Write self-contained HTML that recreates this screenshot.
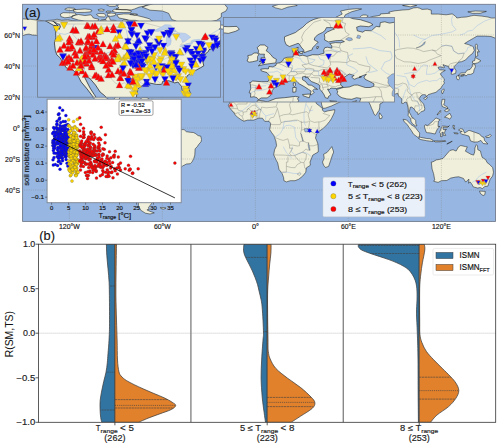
<!DOCTYPE html>
<html><head><meta charset="utf-8"><style>
html,body{margin:0;padding:0;background:#fff;}
body{width:500px;height:447px;overflow:hidden;}
svg text{font-family:"Liberation Sans",sans-serif;}
</style></head><body>
<svg width="500" height="447" viewBox="0 0 500 447" style="display:block"><defs><clipPath id="cm"><rect x="22.6" y="4.3" width="472.9" height="217.1"/></clipPath><clipPath id="cu"><rect x="37.6" y="21.0" width="183" height="76.2"/></clipPath><clipPath id="ce"><rect x="223.4" y="17.5" width="171.1" height="84.5"/></clipPath><clipPath id="sc"><rect x="47.1" y="99.2" width="134.1" height="103.5"/></clipPath><clipPath id="cv"><rect x="38.5" y="244.2" width="457.2" height="178.1"/></clipPath></defs><rect width="500" height="447" fill="#fff"/><g clip-path="url(#cm)"><rect x="0" y="0" width="500" height="230" fill="#97b6e1"/><path d="M36.8 20.1 30.7 19.3 22.9 18.9 18.2 18.1 12.8 17.5 7.4 18.6 2.8 19.8 -1.9 21.2 1.2 23.2 4.3 24.3 1.2 24.9 -1.9 25.4 -5 26.3 -0.3 28 5.8 28 5.8 29.6 1.2 30.2 -1.9 32.7 -0.3 34.2 4.3 35 4.3 37 10.5 37.2 12.1 38.9 7.4 41.2 1.2 43.1 4.3 42.6 10.5 40.4 15.2 38.6 16.7 36.5 19.8 34.2 22.9 33.1 21.3 36.2 26 34.5 29.1 34.1 32.2 35 36.8 35.3 39.9 36.4 43.1 37.5 46.2 38.9 49.2 42 52.3 43.5 53.9 45.8 57 48.2 58.6 49.3 61.7 50.5 64 51.9 65.1 52.2 65.5 53.4 64.8 54.8 63.5 53.3 62.1 53 63 55.9 63.2 59 62.4 61.7 62.9 65.4 63.7 67.7 65.5 69.4 66.5 71.3 68.5 74.4 71.7 75.3 73.7 77.3 74.8 79.2 76.1 81.5 78.7 84.6 81.6 88.5 84.9 92.3 85.7 92 84.4 90.5 82.6 87.7 80.6 84.6 77.6 78.9 80.2 79.5 83.3 83 85.7 86.6 88 88.5 91.1 92 92 94.7 91.7 96.4 93.4 98.2 95.8 99.8 98.8 100.9 101.9 102.3 105.8 103.7 108.5 102.9 111.2 103.8 113.6 106.1 117.4 107.2 119.8 107.8 122.1 110.2 122.6 111.7 122.3 112.8 124 113.3 126.8 115.3 131.1 116.7 132.2 114.2 134.5 113.7 135.6 114.8 135.3 114.7 132.2 113.3 129.1 114 126 111.3 125.7 108.6 126.3 104.8 123.7 103.2 119.5 103.5 118.2 103.4 118.5 100.9 119.8 97.8 120.6 94.7 118.2 94.7 115.4 95.4 115.1 97.8 113.6 99.3 109.7 99.8 107.4 98.9 105.8 97.3 104.6 94.7 103.8 92.7 104.1 89.2 104.7 85.1 108.2 82.6 110.5 82 114.3 82.7 117 82.7 117.4 81.2 120.6 80.9 123.7 82 125.2 81.5 127.1 83.8 127.4 85.7 128.6 87.7 129.9 88.9 130.8 88.9 131.4 86.9 130.5 83.8 129.4 81.8 129.2 79.9 130 78.2 132.6 76.5 134.5 75.5 136.8 74.2 138.4 73.3 137.8 70.8 137.1 69.3 137 67.1 138.4 66.8 138.7 68.6 139 67.9 139.3 67.1 140.7 66 141 65.1 143.8 64.1 146 63.5 146.9 63.1 145.8 61.8 146.6 60.3 149.2 59.3 151.6 58.6 153.1 57.9 155 57.8 152.9 60 156.2 59 160.9 57.8 160.1 57 156.2 56.2 155 54.4 153.9 53.6 155.9 52.4 152.3 51.7 149.2 52.4 146.1 54.8 147.7 53.1 151.6 51.3 155.4 50.2 160.9 50.2 166.7 48.3 168.6 46.6 167.8 44.9 163.9 43.5 161.6 41.7 159.6 40.4 158.5 38.1 155.7 34.7 154.7 36.5 151.6 37.5 149.2 36.9 146.9 33.5 143.8 32.2 139.9 31.4 135.3 31.1 134.5 34.2 135.3 37.3 136.4 40.4 135.3 42 132.2 43.5 132.8 47.4 130.6 48.5 127.8 45.8 128 42.8 123.7 42.3 119 40.4 115.1 39.2 112 39.2 109.4 37 108.6 35 109.7 32.7 111.7 31.1 114.7 29.4 119 28.3 120.6 26.5 123.7 24.9 125.2 25.2 127.5 24.5 129.1 21.8 127.5 20.1 123.7 19.8 119.8 23.4 116.7 21.4 114.3 20.3 110.5 20.3 108.9 16.6 106.6 17.2 105.8 19.5 103.5 20.3 98.8 22.9 94.2 22.6 88 21.8 86.4 22.9 80.2 22.9 77.2 21.2 72.5 20.7 67.8 19.8 61.7 20.3 57 19.2 53.9 20 48.5 20.4 44.6 21.2 39.9 20.3ZM153.9 31.9 150 31.1 144.6 29.1 140.7 27.9 135.3 28 134.5 26.5 140.7 24.9 142.2 22.3 135.3 20.3 129.9 20.3 122.9 18.7 119 18 116.7 14.8 123.7 13.9 131.4 14.1 136.1 15.3 143.8 17.2 149.2 18.7 151.6 20.6 155.4 22.9 159.3 24.5 157 26.5 154.7 28 155.4 30.3ZM65.5 9.9 70.9 10.5 75.6 9.4 74.1 8.2 67.8 7.9 64.8 9ZM98.8 10.8 103.5 11 104.3 9.7 101.2 9 98.1 9.6ZM105.8 12.1 110.5 12.2 111.2 11.3 107.4 11ZM106.6 4.8 109.7 6.3 115.1 6.3 117.4 4.8 115.1 3.2 109.7 2.5ZM100.4 20.7 104.3 21.8 106.6 21 105.1 19.8 101.9 19.7ZM129.9 14.5 134.5 15.3 137.6 14.4 134.5 13.6 130.6 13.8ZM98.1 21 92.7 21.2 84.9 21 78.7 20.1 71.7 18 72.5 15.6 78.7 14.5 84.9 15.6 91.1 14.8 93.4 18 98.8 19.2ZM60.9 16.6 64.8 17.8 69.4 17.3 73.3 16.1 76.4 14.4 74.8 13 70.2 12.8 63.2 12.7 60.4 14.1ZM115.9 9 122.1 9.7 131.4 9.9 134.5 9 139.2 7.1 143.8 6.2 146.9 4.8 154.7 3.2 159.3 0.9 139.2 -0.7 115.9 1.7 119 4 117.4 6.3 119 7.9ZM112 11 115.9 12.5 123.7 12.5 130.6 12.4 131.4 11 126.8 9.6 119 9.6 114.3 9.3ZM107.4 15.6 110.5 16.4 115.1 15.6 115.9 13.6 111.2 13.1 107.4 13.6ZM97.3 15.5 99.6 16.7 104.3 17 105.8 15.6 104.3 13.6 98.8 13.5 96.5 14.4ZM73.6 11.4 77.2 12.5 84.9 12.4 91.1 11.8 91.9 10.4 89.6 9.4 84.9 9 78.7 9.4 73.3 9.7ZM131.4 29.6 123.7 30.3 120.6 28 123.7 26.5 129.9 28ZM142.2 7.1 150 10.2 162.4 11 168.6 13.3 170.2 16.4 171.7 19.5 176.4 21 173.2 25.7 177.9 30.3 187.2 35 190.3 33.5 193.4 28.8 198.1 26.5 205.8 22.6 216.7 20.3 221.3 17.2 221.3 13.3 226 11 227.5 7.9 224.4 4 208.9 0.9 162.4 0.9 146.9 5.5ZM56.5 49.3 61.7 50.5 64.3 53 62 52.7 57.8 50.3ZM123.7 94.1 126.8 92.5 130.6 92.2 135.3 94.2 138.2 95.4 140.4 96.7 135.3 97.2 134.5 95.9 129.9 94.4 127.5 94.5 124.4 94.2ZM139.9 99.5 142.7 97.2 146.9 97.5 149.4 99.2 144.7 100.7 140.1 99.9ZM134 99.5 137.1 99.8 136.4 100.3 134.2 99.8ZM151.2 99.3 153.7 99.5 153.7 100.1 151.2 100.1ZM163.5 54.2 169.4 48 169.1 51.3 173.2 52.8 173.7 54.4 172.5 55.8 168.9 55.1 165 54.1ZM135.6 114.8 136.4 115.3 138.4 111.7 140.4 110.6 143.5 109.6 144.9 109.7 145 108.6 146.9 109.1 149.7 111.7 153.1 111.6 156.2 111.4 159.3 111.4 160.9 112.3 160.9 114.7 163.2 115.1 165.5 117.5 167.1 118.7 170.2 118.9 172.5 119.3 174.8 120.9 176.4 121.5 177.9 125.2 177.1 127.7 180.2 129.6 184.1 129.6 186.4 131.7 190.3 132.3 193.4 132.5 195.7 133.7 198.1 135.6 200.8 136.2 201.5 139.6 201 141.9 198.8 144.3 197.3 146.6 195.1 148.9 194.8 155.1 193.7 158.7 192 161.9 190.3 163.7 186.4 164 182.6 166 180.2 168.3 180.1 172 177.9 175.3 175.6 177.9 172.6 180.4 170.3 182.1 168.1 181.9 166 181.3 164.7 181.5 167.1 184.3 166.3 187.2 163.9 188 159.3 188.3 158.8 190.8 154.7 191.6 155.4 193.9 156.7 194.3 154.7 197 150.8 199.3 153.1 201.6 150 205.5 148.4 207.8 149.2 209.4 146.9 209.8 148.9 210.9 154.3 212.9 150 214 145.4 213.2 140.7 210.2 138.4 205.5 138.4 200.9 140.7 199.3 141.5 194.7 141.2 190 141.6 185.7 143 183 144.4 179.2 144.7 174.5 144.9 169.8 146.1 165.2 146.6 160.6 146.4 156.7 144.6 154.8 139.2 152 137.1 149.2 135 145.1 132.9 140.4 129.9 137.3 129.5 134.7 131.4 131.9 130 129.9 131.4 127.1 133.1 125.5 135.3 122.1 135.6 117.9 134.7 116.8ZM160.4 207.4 163.9 207.5 166 208.1 163.9 209.1 160.9 208.6ZM246.3 72.5 252.3 73.6 257.7 71.4 263.1 71 270.1 70.2 272.4 70.7 271.4 71.6 272.1 73 270.9 74.8 272.8 76.5 275.6 77 279.4 79 284.9 81 286.6 79.9 286.4 77.9 289.5 77 294.1 78.7 300.4 80.3 305 79.6 308.4 79.5 309.5 82.3 307.3 84.6 305.8 81.7 307.3 84.6 310.4 90.8 313.1 95.4 313.2 99.3 315.1 100.1 316.3 103.5 319.3 105.8 322.5 108.6 322.4 110.2 324.4 111.9 328.2 110.8 334.8 109.7 334.6 111.7 333.7 114 331.4 118.7 329.5 121.5 326.7 124.9 322.8 128.8 319.7 130.8 317.7 132.3 316.2 135.1 315.5 138.1 316.6 140.4 317.9 144 318.3 149.7 318.2 152 312.8 155.1 310 162.1 310.4 165.2 306.2 168 305.8 172.2 302.7 176.1 298.8 179.2 295.1 180.7 290.3 180.7 286.4 181.9 283.9 180.7 283.6 177.6 282.2 173.7 279 169.4 277.7 162.9 276.2 160.2 273.7 154.8 274.6 149.7 276.6 145.8 275.9 141.2 274.5 137.3 274 135.8 271.7 132.7 269.7 129.6 270.3 126.5 270.6 123.3 269 121.3 264.7 121.3 262.4 118.2 258.5 118.2 253.8 120.1 250.8 120.1 247.7 120.1 243.8 121.2 240.7 119.5 237.6 117.2 234.9 114.7 234.2 113 232.5 111.3 231.4 109.7 229.4 107.8 228.3 105.2 229.8 102.9 230.3 98.5 229.8 95.9 229.1 95.4 230.9 91.3 232.9 87.7 235.2 85.1 239.9 82.7 240.2 79.2 242.2 76.4 244.9 75.3ZM331.8 146.6 333.7 152 332.4 155.1 330.6 160.6 328.6 166.4 325.5 167.5 323.6 165.2 322.5 162.1 324.2 158.2 323.6 154.3 327.2 152.3 329.8 149.1ZM241.5 61.3 243 60.3 248.4 60.7 252.6 60.7 253.5 59 253.5 56.7 252 54.8 248.4 53.8 248.1 52.7 250.8 52.4 252.9 52.5 253.2 51 255.7 51.3 257.7 50.2 258 49 260.4 48.5 261.9 47.4 262.7 45.8 264.7 45.1 268.6 44.9 268.9 42.8 268 40.3 271.8 38.6 271.4 40.9 272.3 41.2 270.6 42.8 272.4 44.1 274.8 43.7 277.4 44.5 281 43.4 284.5 43.5 286.2 42.9 288.3 42.4 287.9 40.4 288.7 38.9 290.4 38.6 293.2 39.2 293.1 37.5 291.8 36.2 295.4 35.6 298.8 35.8 301.1 35 299.6 34.2 295.7 34.4 291.1 35.2 288.6 33.9 288.7 32.2 288.4 30.3 290.3 28.8 293.4 27.4 294.8 26.9 293.4 26 289.8 26 288.7 28 287.2 29.1 284.1 30.7 282.2 32.7 282.1 33.9 284.5 35.3 283.3 36.5 281 38.9 280.7 40.3 277.9 41.2 275.6 42.1 275.4 40.4 273.7 38.4 272.6 36.5 271.7 36.1 270.1 36.7 266.2 38.1 264.1 36.9 263.1 34.2 263.1 31.9 266.2 30.7 270.1 29.1 271.7 27.9 274.8 25.7 277.1 23.4 279.4 21.8 281.8 20.7 284.9 19.8 287.9 19.2 292.6 18 295.4 17.8 298.8 18 303.4 19 306.6 20.3 311.2 20.9 317.4 22.9 319.3 24.1 316.6 25.4 311.2 24.9 308.9 25.7 309.3 28 312.8 29 314.3 27.9 318.2 28 321.3 25.2 323.6 25.5 323.9 22.8 326.7 22.3 329.8 23.1 337.6 21.7 339.9 22.1 345.3 21.2 348.4 21.7 349.2 19.8 354.6 20.6 359.2 21.8 361.6 22.3 359.2 20.3 358.9 18.3 361.6 15.5 363.1 15 366.2 15 368.2 16.1 366.2 17.6 368.2 18.9 367.8 21.4 369.5 22 367.5 24.9 370.1 24.1 371.6 21.7 369.6 20.7 369.5 17.5 373.2 16.4 377.1 15.9 380.2 15.2 380.5 13.9 389.9 13.3 388.7 12.1 394.9 10.8 402.6 10 408.9 9.6 413.5 7.9 417.4 7.6 419.7 8.2 422 9.4 427.5 9.1 431.3 10.2 431.3 14.1 438.3 14.1 446.1 14.8 452.2 13.9 455.4 16.1 456.9 18 461.6 17.3 466.2 17 471.6 15.8 474 15.3 481.7 16.1 487.9 17 491.8 18.1 497.2 17.8 501.9 18.3 504.2 20.3 511.1 20.3 518.9 19.5 534.4 21 534.4 31.9 511.1 35 506.5 38.1 498 38.9 497.2 49 496.4 42.8 495.6 38.3 491 36.5 484.8 36.1 477.1 36.1 473.2 38.4 469.3 40.6 464.6 43.5 468.5 44.6 473.2 46.6 474.3 50.5 472.4 53.6 469.3 55.9 465.4 60.1 461.6 61.7 458.5 62 456.4 64.4 453.8 66.8 456 70.7 455.7 73.3 452.2 74.4 451.2 74.1 451.5 71 451 69.6 449.1 68.6 448.7 66.6 444.5 65.2 443 64.6 444.5 67.4 443.7 67.7 439.9 66.8 438 67.5 439.5 69.9 442.2 69.9 445.3 70.3 442.2 72.2 440.3 73.8 442.2 76.8 444.2 78.7 444.3 80.3 443.7 81.5 444.5 83 442.6 85.4 440.6 88.5 438.3 90.2 436 92.3 432.1 93.4 428.2 94.7 426.4 96.5 425.4 94.7 422.8 94.7 420.8 95.9 419.2 98.5 420.6 100.9 423.6 104 424.8 108.6 424.4 110.5 420.9 111.9 418.1 114.7 417.8 112.8 415.8 111.7 414.3 109.2 411.8 107.1 410.4 107.2 409.2 112 410.9 115.1 412 117.5 413.8 118.4 415.7 120.6 415.8 123.8 416.9 125.8 415.7 126 412.4 123.7 411 121.3 410.7 118.7 408.1 115.4 408.4 112.5 408.1 107.8 406.7 102.4 405 102 403.3 103.5 401.6 103.2 401.9 98.9 399.6 97 398.5 95.9 397.7 93.3 395.7 93.9 393.4 94.2 390.2 94.7 389.5 97 387.1 97.9 383 102.3 379.9 104 379.7 107.8 379.1 110.3 377.9 112 376.6 114.2 375.5 115.4 374 114.2 372.9 111 371.5 108.2 370.4 105.2 369.2 102.9 368.4 98.7 367.9 95 368.2 94.2 367.8 93.4 364.7 95.8 362.4 93.4 364.2 92.7 361.6 91.6 359.6 89.9 358.5 88.6 355.4 88.9 350.9 88.9 346.1 88.3 344.2 88 343.4 86 339.9 86.8 336 84.9 333.7 82.3 331.4 80.9 329.8 81.5 329.6 82.9 330.6 84.6 332.6 86.6 334.1 89.6 335.2 90.3 337.6 90.6 340.3 90.3 342.2 88 342.8 87.2 342.8 89.7 345 91.3 348.1 93.1 346.4 96.2 345 98.5 343 100.1 340.6 101.7 336.3 103.7 331.4 106 325.1 108.2 322.8 108.3 321.7 104.8 321.3 102.4 319.7 99.3 316.2 94.7 315.1 91.1 312.8 88.5 310 84.6 308.9 82.3 309.5 82.3 308.4 79.5 309.6 77.2 310.4 75.3 311 73 311.5 71.4 308.9 71 305.8 72 302.7 71.7 299.6 71 297.7 69.9 296.5 68.3 296.9 66.8 296 65.8 298 65.2 300.4 64.4 304.2 64.1 307.3 62.9 309.6 62.9 314.3 64.4 317.4 64.4 319.7 63.7 319.9 62.1 317.4 60.7 314.3 59.2 313.5 57.8 315.1 55.9 310.4 57.8 312 57.6 309.6 58.2 307.3 59.2 305.8 57.8 307.3 56.7 304.2 55.8 302.2 57 301.3 57.9 299.7 59.3 298.8 61.3 298.8 62.9 300.4 64.1 298.8 64.4 296 65.1 292.6 64.8 291.8 65.7 290.4 65.4 291.5 67.2 292.6 69.1 291.1 70.2 290.7 71.4 289 71 288.3 69.1 286.7 66.8 285.5 65.5 285.6 63.2 284.1 62.1 280.2 60.6 278.6 59 277.9 57.8 276.5 58.1 276.6 57.2 274.5 57.6 274.6 59.5 276.5 60.6 278.2 62.7 280.4 63.1 284.1 65.7 282.1 65.4 281 66.5 281.9 67.5 280.4 69.1 279.6 68.8 280 66.8 278.3 65.7 275.9 64 272.8 62.3 271.7 61.3 269.8 59.3 268.4 59.8 266.2 60.4 263.1 60.7 260.2 61.2 260.4 63.1 256.9 64.4 255.4 66.3 254.9 68.2 254.2 69.7 252.1 71.1 248.4 71.1 246.7 72.2 245.6 71 243.8 70.3 241.6 70.7 241.8 68.2 240.7 67.9 241.8 65.1 241.6 62.9 241.1 61ZM246.6 50.5 250.8 49.6 257.6 48.6 258 46.3 255.7 45.1 254.6 43.5 252.9 41.8 251.5 40.9 252.6 38.7 250.4 37.2 247.7 37.2 245.8 38.9 246.7 40.7 246.4 42.3 247.8 43.1 250.4 43.1 250.1 44.3 250.8 45.2 248.3 45.4 248.9 46.9 247.2 47.7 248.9 48 250.8 48.5 248.4 48.8ZM246.1 47.1 246.1 44.5 246.9 43.4 245.8 42.3 243.8 42.3 242.2 43.5 239.9 44 240.2 45.4 239.4 47.4 240.7 48.2 243 47.9ZM218.2 26.5 221.3 25.1 227.5 25.4 232.9 25.2 234.5 27.1 232.2 28.3 227.5 29.7 222.8 29.1 220.2 28.8ZM268.4 64.4 270.6 64.4 270.3 67.2 268.4 67.5ZM268.7 61.5 270 61.3 270.1 62.9 269.5 63.8 268.7 63.2ZM274.6 68.9 279.6 68.6 278.8 71.1 274.9 69.7ZM291.8 73 296.2 73.3 295.7 73.8 292.6 73.4ZM305.5 74.1 308.9 72.8 308.1 73.9 306.6 74.4ZM272.4 41.7 274.9 41.2 274.5 42.8 272.8 42.4ZM270.6 42 272.1 41.8 271.8 42.8 270.7 42.6ZM283.6 38.3 284.9 38.3 284.4 39.3 283.6 39.5ZM272.4 6.3 280.2 4 294.1 4 297.2 5.5 287.9 7.1 281.8 9.4 275.6 7.9ZM336 17.2 342.2 14.1 340.6 11 348.4 9.4 357.7 8.6 361.6 9 351.5 11.8 345.3 14.8 343.8 18 338.3 18.4ZM402.6 5.5 410.4 4.3 416.6 5.5 410.4 6.8ZM467.8 11.8 475.5 11 486.4 11.4 480.1 13.3 472.4 13.3ZM475.5 56.7 477.8 55.9 477.4 51.7 479.4 52 477.1 48.2 477.4 45.1 476.3 43.8 475.2 45.8 475.8 49 475.5 53.6ZM458.3 75.3 460.8 73 465.4 72.8 467 70.2 470.1 69.4 472.4 66.3 472.4 64.1 474.7 64 475.5 66.8 474 69.9 473.6 72.7 472.1 73.8 470.5 74.4 467.8 74.4 465.9 76.1 464.6 74.4 461.6 74.8 458.5 75.3ZM456.6 76.1 458.5 75.5 459.5 78.4 458.5 79.9 457.2 79.5 456.4 77.2ZM460.8 76.5 464.2 75.6 463.9 75 461.6 75.3ZM472.4 62.9 474 63.8 477.5 62.9 480.9 60.9 479.4 59.8 475.2 57.5 474.7 60.6 472.7 61ZM441.6 92.3 442.5 93.9 444.3 90 443.7 88.8 441.7 90.8ZM423.7 98.2 426.7 96.8 427.5 97.6 425.3 99.8ZM442.3 99.3 444.8 99.3 444.5 102.4 443.7 104.8 447.6 107.1 447.6 108.6 442.3 106.6 441.4 103.2ZM444.5 117.2 447.6 114.8 449.9 113.3 451.5 116.7 449.9 119.2 447.6 117.9ZM444.5 111 446.8 111.7 449.5 110.2 448.1 108.6 445.6 109.6ZM437.1 115 440.8 111.9 440.3 110.5 437.5 114ZM424.4 125.7 425.3 124.9 427.5 125.7 430.6 123.2 433.6 120.2 436 117.9 437.8 118.7 440.2 119.8 438.3 121.3 438 126.5 439.9 126.5 437.5 128.8 436 131.9 435.2 134 432.9 133.6 430.6 133 427.5 132.7 426.2 132.3 425.1 129.1 424.5 127.2ZM403.1 119.3 406.5 119.9 411 124.6 415.1 127.2 417.4 130.3 419.7 133 419.4 137 417.4 137.1 413.5 134.2 411.2 130.3 408.9 127.2 407.3 124.6 404.2 121.8ZM418.5 138.5 420.5 137.3 423.6 137.9 426.7 138.5 429.9 138.7 432.9 140.1 432.9 141.5 426.7 140.7 420.5 139.5ZM433.6 141 435.2 140.9 439.9 141 445.3 140.6 445.9 141.3 439.9 141.8 435.2 141.9ZM447.6 143.7 452.2 141 451.5 141.9 446.8 144ZM440.5 136.5 442.2 136.7 442 132.3 443.3 132.3 443.3 135.4 445.7 135.4 444.5 133.1 445.3 130 446.5 129.4 443.3 129.6 443 127.2 447.6 127.4 449.3 125.7 448.4 126.5 442.6 126 441.4 127.2 441.1 128.8 439.5 132.3 440.6 133.4ZM453 125.2 454.6 125.7 453.8 127.2 454.9 129.2 453.5 128.8 453 126.8ZM453.8 132.7 457.7 133 458.1 133.9 454.6 133.6ZM458.5 130 460.8 128.6 463.1 129.4 464.6 133.1 469 130.3 474 132 479.4 133.9 481.7 136.5 484 137.5 484.5 140.4 487.9 144 483.2 143.5 480.9 140.4 477.8 141.9 474 142.1 470.5 140.9 469 136.1 464.6 134.8 461.6 134.2 460 132.3 462.3 131.4 460 130.9ZM485.6 136.5 487.9 135.8 490.2 134.5 491.3 135.4 489.5 137.3 486.4 137.6ZM431.3 162.1 432.1 169.1 433.6 173.7 434.7 179.9 433.6 181.2 438.1 182.4 441.4 180.7 446.8 180.5 450.7 178.1 455.4 177.1 458.8 176.8 463.4 178.4 465.7 182.1 467.6 180.2 469 179.2 468.5 183.2 470.1 181.9 471.8 184.1 473.3 186.9 477.8 188.1 480.1 187.5 482.3 188.6 484.8 186.6 487.9 186.1 489.1 182.2 490.2 179.2 492.6 176.1 493.5 172.2 492.6 167.5 489.5 164.4 487.1 162.6 485.6 159.5 482.2 157.4 480.8 152.8 480.6 151.1 477.8 149.7 477.5 145.8 476.3 144.6 474.9 148 474.7 152 473.6 155.1 470.9 154.3 467.8 152.5 465.4 151.2 467.3 146.9 465.4 146.6 460.8 145.5 458.5 146.9 456.1 151.1 453 149.7 449.9 150.5 446.8 154 444.8 156.4 443 158.4 439.1 159.5 436.3 159.9 433 161.8ZM479.5 191.1 485.3 191.4 484.8 194.7 483.1 195.6 480.5 193.6ZM379.1 115.6 379.6 112.8 382.2 116.4 381.7 118.4 379.7 118.7Z" fill="#efefdb" stroke="#000" stroke-width="0.45" stroke-linejoin="round"/><path d="M107.8 54.8 110.9 58.4 114 61.3 114.3 65.2 115.6 68.2 117.1 70.7 115.7 73.6 114.2 76.8 113.6 79.9 115.7 81.7 117 82.7M82.6 56.9 86.4 54.1 94.2 53.6 98.8 54.7 99.8 59.2 104.4 61.7 106.8 64 108.8 67.4 112.5 68.2 115.6 67.9M131.4 65.4 128.8 67.7 127.4 68.2 124.4 67.4 122.4 68.6 119.6 69.3 117.1 70.7M91.1 67.5 93.3 68.6 100.4 69.4 104.6 69.9 107.5 72.5 112.3 74.2 114.3 75.5M91.1 66 85.7 68.3 82.6 70.8 79.5 72 77.8 73.8 77.6 77.3M72.5 52 70.5 56.4 67.8 57.3 63.2 56.4M83.3 60.6 77.9 62 74.1 59.8 70.9 56.4M90.2 69.7 89.9 73.8 90.3 78.7M136.8 59.6 140.7 57.9 145 55.5 148.4 53.1M95.8 76.1 100.4 77.6 103.5 79.5 105.8 81.5 108.2 83M120.6 72.2 122.1 74.1 119 76.8 119 79.9M396.5 75.3 405.8 76.8 409.6 84.6 414.3 86.9 417.4 83.5 420.5 82.1 426.7 80.3 429.8 81.5 432.6 80.6 436.8 80.7 439.5 78.4 443.7 79M404.2 73.8 412 72.5 416.3 72.2 418.9 69.9 420.9 67.1 423.6 64.8 427.5 65.5 426.7 70.7 426.4 74.4 431.3 74.1 435.2 73 439.5 69.6M418.9 44.3 422.8 40.4 432.1 35.5 441.4 34.2 452.2 31.9 456.1 29.6 452.2 24.9 451.5 19.5 452.7 15.6M399.6 47.4 399.2 41.2 398.3 37.6 394.9 32.7 391 26.5 389.5 21 383.3 17.2M441.4 45.4 451.5 45.8 453.2 50.5 457.7 53.6 464.3 53 467 50.5 467.8 47.4 473.2 46M407.3 79.9 408.9 86.2 410.7 93.9 412.7 96.7 414.4 100.1 417.8 102.4 419.4 106.3 419.5 110.2 420.5 112.8M402.6 84.6 398 87.4 394.4 88.5 395.7 92.3M406.5 88.5 404.2 93.9 402.6 99.3 403.1 103.2M413.5 35 419.7 38.1 425.9 39.6M460 35 464.6 33.5 467.8 31.1 472.4 30.3 477.1 25.7 484.8 21 491 18.7M239.1 112.8 243 110.2 246.9 107.1 249.2 105.5 250.8 102.4 255.4 102.7 257.7 106.3 260.8 109.7 263.9 114 265.9 115.9 265.5 120.2M265.9 115.9 270.1 114.7 274 113.6M298.8 141.9 295.7 137.3 294.9 131.1 294.5 127.2 289.5 125.2 285.6 125.7 283 128.8 281 132.3 279.1 134.7 274.5 137.3M297.2 120.6 290.3 121.5 284.2 121.2 283 128.8M292.6 146.6 291.1 151.2 294.9 155.3 298.8 153.6 302.7 152.2 306.6 153.1 310.4 155.7 311.7 157.3M301.1 173.7 293.4 173.4 287.9 172.3 281 172.3M305.6 125.7 304.2 122.4 303.9 114 305.8 103.8 307.3 100.9M313.2 110 309.6 111 308.9 108.6 305.8 103.8M283.3 146.6 286.4 152.8 289.5 155.9 291.8 158.2M484.8 184.6 481.7 183.5 477.8 182.2 474 181 471.6 183M486.4 172.2 481.7 174.5 477.8 177.6 475.5 180.7M268.6 53.6 271.7 52.4 276.3 52.7 281 53.3 284.7 53.9 284.9 56.7 286.9 57.8 290.3 59 293.4 60.3 298 59.8 298.8 57.8 301.3 57.9M270.1 54.2 267.2 54.2 268.1 52 268.3 50.5 266.2 49 264.7 47.6 261.9 47.4M277.1 49.7 274 47.6 273.2 45.8 270.6 45.1 268.9 44.5M284.9 51 287.9 49.7 288.3 47.1 285.6 46.2 284.5 43.8M306.6 42.8 303.4 44.3 302.7 47.4 302.7 49.9 307.3 52 309.6 53.9 307.3 55.6 305.8 55.9M314.8 44.5 316.2 49 318.9 51.3 322.1 53.6 318.2 54.5 316.2 54.8M306.6 39.6 313.5 39.2 317.4 38.7 323.6 40.7 330.6 41.5 331.4 44.6 330.6 46.6 326.7 48.2 324.4 52.5 327.5 55.1 329.8 56.2M261.6 58.2 260.8 55.3 258.5 53.9 256.2 54.5 252.3 54.7M262.4 53.6 259.3 52.4 255.9 51.4M265 56.4 263.9 57.5 262.8 57.2 262.8 59.8 262.5 60.7M249.2 61.3 252.3 62.1 255.4 63.5 256.6 64.9M252.3 65.2 249.2 66.2 244.6 66.6 241.5 67.9M251.5 63.2 247.7 63.7 244.9 64.4 242.1 64.3M267 58.6 269.4 58.1 272.4 58.2 274.5 58.4M327.5 33.8 324.4 31.1 318.2 28M278.6 49 281 48.2 282.5 46.6 278.6 45.8 277.9 44.8M292.6 42.8 291.1 42.6 288.4 42.3M298.8 42 295.7 40.7 292.6 39.6 292.8 39.6M296.5 51.3 298.8 53.6 301.1 55.9 302.7 56.2" fill="none" stroke="#a3bfe6" stroke-width="0.5" stroke-linejoin="round"/><path d="M229.8 102.9 233.7 102.3 236.5 105.1M236.5 105.1 237.6 104 246.9 104 247.2 102.4 246.1 97 248 89.2M229.5 108.8 234.2 108.5 237.7 108.8 236.5 105.1M229.4 106.9 231.4 107.2 234 107.1M232.2 111.3 234.5 112.2 234.8 114 238.3 112.5 239.4 114.8 242.2 116.2 243.8 121.2M237.7 108.8 238.8 110.6 242.2 111 243 112.2 243.3 114.8 242.2 116.2M250.8 120.1 251.1 113.3 251.1 111M243 112.2 246.9 111.7 247 109.9 248.4 108.3 251.1 111 255.4 111 258.8 109.6 261 109.9M247 109.9 252.3 105.5 255.7 104.9 256.9 107.1 261 109.9M257.3 118.5 256.2 115.6 255.4 111M258.2 118.4 257.7 114 256.8 111 258.8 109.6M259.6 118.1 259.7 114 261 109.9M261 109.9 261.6 107.1 266.2 107.8 270.9 107.4 276.5 106.8 277.4 108.5M261.9 103.2 261.6 97.8 264.7 97.8 274 91.6M279.4 92.3 279.4 96.2 276.3 106.3M292.6 97.8 289.5 104.8 291.1 111 289.5 114M277.4 108.5 278.6 112.5 279.4 116.4M268.6 121 270.4 117.9 273.7 117.2 275.6 113.3 277.4 108.5M270.6 124.4 272.9 124.6 280.2 124.6 281 122.6 279.4 116.4M279.4 116.4 283.3 114.8 289.5 114M281 122.6 284.1 121.8 289.5 121 294.1 120.2 297.9 120.2M289.5 114 292.6 114.8 298.8 113.3 306.6 111.7 308.1 113.3M297.9 120.2 301.9 122.6 303.4 122.1 307.3 122.1 308.9 120.9M312 105.8 309.6 111.7 308.1 114.8 309.6 120.2 310.4 120.9M310.4 120.9 314.3 122.4 318.9 121.8 320.5 121.8M320.5 121.8 325.1 120.2 329.8 115.6 322.8 113.3M308.1 129.6 313.5 133 316.2 135.1M308.1 129.6 308.9 126.5 309.6 120.9M318.9 130.6 318.9 122M301.3 120.9 301.7 128 301.3 130.2 300.7 133.3M301.3 130.2 303.4 129.6 308.1 129.6M303 140.9 299.6 141.9 299.4 145.8 297.2 146 292.6 145.1 289.5 145.1 289.5 148.2M274.5 137.3 280.2 139.6 283.3 140.4 287.9 138.8 289.5 145.1M273.7 154.8 277.1 155 283.3 155.1 291.5 155.6M289.5 148.2 292.6 148.2 289.5 153.6 291.5 155.6M281 172.3 286.4 172 286.4 166.3 286.4 162.1 287.9 162.1 287.9 156.4M286.4 166.3 291.1 167.5 295.1 167.7 297.2 164.6 301.1 162.4 303.9 162.7M291.5 155.6 294.6 155.6 298.8 153.6 302.5 152.2M294.6 155.6 297.2 159 301.1 162.4M302.5 152.2 306.6 154.3 305.8 159 303.9 162.7 304.8 168.1 306.4 169.5M318.2 144.3 313.5 145.8 309 145.8M303 140.9 306.6 142.7 308.6 142.7M302.5 152.2 306.2 148.9 307 150 310.1 150.2M297.2 174.2 299.6 172.3 301.1 173.7 299.6 175.4 297.2 174.2M391.5 51.7 394.9 54.4 396.5 58.2 404.2 61.8 410.4 62 418.1 63.5 425.9 62 429 60.3 435.2 57.9 441.2 55.6 437.4 54.2 435.2 51.3 432.1 50M391.5 51.7 398 49.4 407.3 47.9 413.5 48.3 419.7 50 423.6 51.6 432.1 50 436.3 50.8 441.4 46.6M441.4 46.6 446.1 45.1 452.2 46.6 453.8 51.1 458.5 53.9 464.2 53.1 462.3 58.2 458.5 61.3 457.7 62.1M447.9 66.2 450.7 63.7 453.8 62.9 456.9 62.1M450.9 69.4 452.2 68.8 454.3 68.2M391.8 85.4 394.9 84.6 398 84.9 402.6 83 406.2 84.1 408.1 88.5 407.3 90.8 409.6 93.7 412.3 95.1 413.5 93.3 415.8 92.8 419.7 92.5 422.8 94.7M408.1 112.5 408.9 107.1 407.6 104 406.5 99.3 410.4 96.4 412.3 95.1M410.4 96.4 412 100.9 417.4 101 419.1 104.8 422 105.5M416.6 93.1 417.4 97 419.7 100.9 422 105.5M414.3 109.4 415.1 105.8 419.1 106M417.4 111.7 419.7 110.2 422 108.6 422 105.5M392.6 93.9 393.4 87.4 398.8 89.2 398.3 92.3 398.5 95.9M410.7 117.9 413.5 118.7M425.3 124.9 429 125.7 433.6 124.1 434.4 121.8 437.5 121.5M474 132 474 142.1M449 141.9 449.3 142.7M36.8 20.1 36.8 34.5M64.3 52 107.8 52 108.2 51.4 116.5 53.6 124.4 55.9 127.5 57.8 127.7 61.5 126.6 62.6 129.9 62.6 132.9 61 136.8 60.4 139.6 58.2 144.6 58.2 145.8 57.5 146.9 55.6 148.1 54.5 149.7 54.7 150.3 55 150.3 57.2 151.4 58.1M73.9 77.6 77.6 77.3 83.3 79.5 87.7 79.5 87.7 78.7 90.3 78.7 93.4 82.1 95.8 83 98.1 81.8 100.4 84.6 101.2 85.4 104.7 87.9M112.5 105.5 112.8 103.2 114.3 101.3 117.3 100.3 117.1 103.4M117.1 103.4 117 105.7 119.3 106.5M119.3 107.5 121.3 106.6 123.7 104.8 126.4 104.8M125.7 111 122.6 110.8M126.9 112.8 127.4 115.1M252.6 60.7 255.4 61.8 257.7 62.1 260.4 62.3M241.6 62.9 242.7 62.7 245.3 63.4 244.7 64.4 244.6 66.5 244.1 66.9 244.6 68.3 243.8 69.9 243.9 70.3M259.3 48.8 261.9 50 264.4 51.3 265.3 51.3 268.1 52 267.2 54.2M267.2 54.2 264.7 56.4 266.2 56.9 265.9 59 267 60.1M260.7 48.3 263.1 48.2 264.7 49M266.6 45.4 266.2 47.1 264.7 47.7 265 49.3 264.9 50.3 265.3 51.3M268.7 42.9 270.7 43.1M277.4 44.5 278 46.6 278.6 49M274.2 50 278.3 49.1M274.2 50 276.8 52.4M270.4 54.4 275.6 54.4 276.8 52.4M267.2 54.2 270.3 54.2 271.5 55.8 269.4 56.9 266.2 56.9M271.5 55.8 274.6 55.1 276.6 55.9 280.2 55.6M276.5 57.5 279 57.5 279.7 56.2 280.4 55.5M276.8 52.4 278.6 52 281.8 52.7 281.8 54.1 280.4 55.5M278.3 49.1 281 50.2 284.2 50.8M284.2 50.8 287.2 51.4 290.3 51.9M281.8 53.9 284.5 53.9 287.2 52.8 289.8 53M290.3 51.9 292.6 49.7 291.8 47.4 292.3 44.5 290.7 43.7M285.8 43.7 290.7 43.7M287.9 41 292.6 40.7 296.6 41.7M293.1 38.3 295.7 38.4 297.9 38.9M298.8 35.8 298 38.1 298.3 39.2 299.1 40.9 296.6 41.7 294.1 44.3 292.3 44.5M292 48 297.2 48 302.7 48.5 304.7 47.2M304.7 47.2 303.4 44.6 303.1 42 299.1 40.9M304.7 47.2 308.7 48.2 310.3 49.6 314.3 50.7 317.4 51.1 316.9 53.9 314.6 55M289.8 53 294 54.1 296.6 53.3 298.8 53.3 300.7 54.5 301.9 55.9 299.1 57.5 301.3 57.6M296.6 53.3 299 55.8 299.1 57.5M289.8 53 288.3 56.4 286.9 56.5M286.9 56.5 288.7 57.9 290.3 59 292.6 60.3 295.7 59.8 297.7 59.6 299.7 60.3M280.4 55.5 281.8 56.9 284.9 56.9 286.9 56.5M290.1 62.4 292.6 63.5 295.7 64 296.6 63.4 298.8 62.9M290.3 59 290.1 62.4M279.7 57.9 284.9 58.2 285.3 58.4 285.3 61 284.1 62.1M285.5 62.1 287.2 62.9 287.3 64.4 287.9 65.7 286.7 66.6M287.3 64.4 290.9 64 290.1 62.4M285.3 61 287.2 62.1 290.1 62.4M273.1 36.5 274.8 34.2 274 32.2 275.6 28.8 278.6 25.7 281.8 22.6 286.4 21M292.6 26 291.8 23.4 287.9 21M287.9 21 294.1 21.7 299.6 20.3 300.4 19.5M300.4 20 299.6 22.6 301.9 23.4 301.1 25.7 301.9 28.8 304.2 30.5 298.5 34.2M311.2 71.4 312.8 71.1 317.4 70.8 321.1 70.3 324.8 70.3 324.4 66.8 322.8 64.3M319.7 63.7 322.8 64.3 325.1 64.1 327.5 64.3 330.6 63.2M317.4 60.7 320.5 61 326.7 62.9 330.6 63.2M324.8 70.3 325.9 73 327 76.1 329.5 79.2 329.8 81.5M321.1 70.3 318.9 74.5 315.9 77.9M312 77.6 310.9 76.4 311 74.4M246.1 72.5 252.8 73.8 253.5 78.2M268.7 70.8 268.1 76.1" fill="none" stroke="#6b6b6b" stroke-width="0.35" stroke-linejoin="round"/><path d="M112.8 55.6 116.7 53.6 118.7 52.4 121.3 52.5 124 55.1 124.3 55.9 120.9 55.9 119 54.5 115.1 55.8ZM119.3 62.9 119.8 63.5 121.3 62.6 121.8 60.6 121.3 58.6 122.9 57 124 56.9 122.1 56.7 119.8 57.9 119.3 59.8ZM124.3 56.9 126 56.5 129.1 56.9 130.6 57.9 131.7 58.7 128.8 60.9 127.5 61.3 127.1 59.8 126.1 58.9 125.2 57.5ZM126.1 63.4 129.9 62 132.9 61.5 131.7 62.6 128.3 63.8ZM131.7 60.9 132.9 60.1 136.1 59.8 137.3 60.6 135.3 60.9ZM328.2 58.2 331.4 55.8 335.2 55.1 337.6 55.9 337.6 57.9 334.4 59 335.2 61 337.2 63.2 339.1 64.9 337.9 67.1 338.9 70 334.4 71.1 331.4 69.7 331.4 67.9 332.1 65.5 329.8 63.2 328.7 61.3 329 59ZM416.6 48 420.5 46.8 424.4 44.3 425.4 41.7 424.4 42 422 45.1 418.9 46.9 416.1 47.9ZM304.5 128.5 308.1 128.5 309.2 130.3 307.3 131.9 305 131.9 304.4 130.3ZM300.7 133.3 302.7 141.2 303.4 141.2 301.4 134.2ZM308.6 142.7 310.1 150.2 309 149.7 308.1 145.1ZM301.9 33.5 304.2 34.5 306.2 33.9 305.8 32.7 303.4 32.4ZM308.9 32.7 310.9 33 311.5 31.4 309.6 30.7ZM346.1 55.9 349.2 56.7 349.9 59 346.9 60.6 345.3 58.2ZM370.1 56.2 374.8 55.8 378.2 55.9 376.3 57.3 371.6 56.9ZM104.3 49.7 105.8 49.7 104.3 45.1 101.9 45.1Z" fill="#97b6e1" stroke="#333" stroke-width="0.3"/><path d="M69.4 0V230M162.4 0V230M255.4 0V230M348.4 0V230M441.4 0V230M0 190H500M0 159H500M0 128H500M0 97H500M0 66H500M0 35H500" stroke="#808080" stroke-opacity="0.6" stroke-width="0.6" stroke-dasharray="1 1.2" fill="none"/><path d="M24.7 30.7L22.5 26.7L26.9 26.7Z" fill="#0000ff" stroke="#888" stroke-width="0.3"/><path d="M231 102.5L228.8 106.5L233.2 106.5Z" fill="#ff0000" stroke="#888" stroke-width="0.3"/><path d="M252 110.5L249.8 114.5L254.2 114.5Z" fill="#ff0000" stroke="#888" stroke-width="0.3"/><path d="M254.5 110L252.3 114L256.7 114Z" fill="#ff0000" stroke="#888" stroke-width="0.3"/><path d="M253 117.5L250.8 113.5L255.2 113.5Z" fill="#0000ff" stroke="#888" stroke-width="0.3"/><path d="M255 112L252.8 116L257.2 116Z" fill="#ffd700" stroke="#888" stroke-width="0.3"/><path d="M252.5 118.5L250.3 114.5L254.7 114.5Z" fill="#ffd700" stroke="#888" stroke-width="0.3"/><path d="M254 116L251.8 112L256.2 112Z" fill="#ffd700" stroke="#888" stroke-width="0.3"/><path d="M309.6 133.1L307.4 129.1L311.8 129.1Z" fill="#0000ff" stroke="#888" stroke-width="0.3"/><path d="M309.6 128.1L307.4 132.1L311.8 132.1Z" fill="#0000ff" stroke="#888" stroke-width="0.3"/><path d="M317.2 128.9L315 132.9L319.4 132.9Z" fill="#0000ff" stroke="#888" stroke-width="0.3"/><path d="M414.6 66.4L412.4 70.4L416.8 70.4Z" fill="#ff0000" stroke="#888" stroke-width="0.3"/><path d="M413.2 73.4L411 77.4L415.4 77.4Z" fill="#ff0000" stroke="#888" stroke-width="0.3"/><path d="M413.2 78.9L411 74.9L415.4 74.9Z" fill="#ff0000" stroke="#888" stroke-width="0.3"/><path d="M434.9 61.5L432.7 65.5L437.1 65.5Z" fill="#ff0000" stroke="#888" stroke-width="0.3"/><path d="M451.7 72.8L449.5 68.8L453.9 68.8Z" fill="#0000ff" stroke="#888" stroke-width="0.3"/><path d="M477.8 184.3L475.6 180.3L480 180.3Z" fill="#ff0000" stroke="#888" stroke-width="0.3"/><path d="M483.2 183.1L481 179.1L485.4 179.1Z" fill="#ff0000" stroke="#888" stroke-width="0.3"/><path d="M479 184.9L476.8 180.9L481.2 180.9Z" fill="#0000ff" stroke="#888" stroke-width="0.3"/><path d="M480.8 179.9L478.6 183.9L483 183.9Z" fill="#ffd700" stroke="#888" stroke-width="0.3"/><path d="M485 185.5L482.8 181.5L487.2 181.5Z" fill="#ffd700" stroke="#888" stroke-width="0.3"/><path d="M488 180.1L485.8 176.1L490.2 176.1Z" fill="#ff0000" stroke="#888" stroke-width="0.3"/><path d="M486 183.5L483.8 179.5L488.2 179.5Z" fill="#0000ff" stroke="#888" stroke-width="0.3"/><path d="M482.5 186L480.3 182L484.7 182Z" fill="#ffd700" stroke="#888" stroke-width="0.3"/></g><rect x="22.6" y="4.3" width="472.9" height="217.1" fill="none" stroke="#6d7789" stroke-width="0.85"/><g clip-path="url(#cu)"><rect x="0" y="0" width="300" height="120" fill="#97b6e1"/><path d="M4.1 -38.7 -8.1 -40.3 -23.4 -41.2 -32.6 -42.7 -43.2 -43.9 -53.9 -41.8 -63.1 -39.4 -72.2 -36.6 -66.1 -32.6 -60 -30.5 -66.1 -29.3 -72.2 -28.4 -78.3 -26.5 -69.2 -23.2 -57 -23.2 -57 -20.1 -66.1 -18.9 -72.2 -14.1 -69.2 -11 -60 -9.5 -60 -5.5 -47.8 -5.2 -44.8 -1.9 -53.9 2.7 -66.1 6.4 -60 5.5 -47.8 1.2 -38.6 -2.5 -35.6 -6.4 -29.5 -11 -23.4 -13.1 -26.4 -7 -17.3 -10.4 -11.2 -11.3 -5.1 -9.5 4.1 -8.9 10.2 -6.7 16.2 -4.6 22.4 -1.9 28.5 4.2 34.6 7.3 37.6 11.9 43.7 16.4 46.8 18.6 52.9 21 57.4 23.7 59.6 24.4 60.5 26.8 59 29.5 56.5 26.5 53.8 25.9 55.6 31.7 55.9 37.8 54.4 42.9 55.3 50.3 56.8 54.8 60.5 58.2 62.3 61.8 66.3 67.9 72.7 69.8 76.6 73.7 78.8 77.4 81.2 82 86.4 88.1 92.2 95.7 98.6 103.3 100.1 102.7 97.7 99.6 94 94.2 90.1 88.1 84.3 76.8 89.5 78 95.5 85 100.1 92 104.7 95.7 110.8 102.7 112.6 107.9 112 111.2 115.4 114.9 120 117.9 126.1 120.1 132.2 122.8 139.8 125.5 145 124 150.5 125.9 155 130.4 162.7 132.6 167.2 133.8 171.8 138.3 172.7 141.4 172.1 143.5 175.5 144.4 180.9 148.4 189.5 151.1 191.6 146.3 196.2 145.4 198.3 147.5 197.7 147.2 191.6 144.4 185.5 146 179.4 140.5 178.8 135.3 180 127.7 174.8 124.6 166.6 125.2 164.2 124.9 164.8 120.1 167.2 114 168.8 107.9 164.2 107.9 158.7 109.4 158.1 114 155 117 147.4 117.9 142.8 116.1 139.8 113 137.3 107.9 135.8 103.9 136.4 97.2 137.6 89 144.3 84.1 148.9 82.9 156.6 84.4 161.7 84.4 162.7 81.4 168.8 80.7 174.8 82.9 177.9 82 181.6 86.5 182.2 90.2 184.6 94.2 187 96.6 188.9 96.6 190.1 92.6 188.3 86.5 186.1 82.6 185.8 78.9 187.4 75.6 192.5 72.2 196.2 70.1 200.8 67.6 203.8 65.8 202.6 60.9 201.4 57.9 201.1 53.6 203.8 53 204.4 56.7 205 55.1 205.7 53.6 208.4 51.5 209 49.7 214.5 47.8 218.8 46.6 220.6 45.7 218.5 43.3 220 40.2 225.2 38.4 229.8 36.8 232.8 35.6 236.5 35.3 232.5 39.6 238.9 37.8 248 35.3 246.5 33.8 238.9 32.3 236.5 28.6 234.3 27.1 238.3 24.7 231.3 23.4 225.2 24.7 219.1 29.5 222.1 26.2 229.8 22.5 237.4 20.4 248 20.4 259.6 16.7 263.3 13.4 261.8 10 254.2 7.3 249.6 3.6 245.6 1.2 243.5 -3.4 238 -10.1 235.8 -6.4 229.8 -4.6 225.2 -5.8 220.6 -12.5 214.5 -15 206.9 -16.5 197.7 -17.1 196.2 -11 197.7 -4.9 199.9 1.2 197.7 4.2 191.6 7.3 192.8 14.9 188.6 17 183.1 11.9 183.4 5.8 174.8 4.8 165.7 1.2 158.1 -1.3 152 -1.3 146.8 -5.5 145.3 -9.5 147.4 -14.1 151.4 -17.1 157.2 -20.5 165.7 -22.6 168.8 -26.2 174.8 -29.3 177.9 -28.7 182.5 -30.2 185.5 -35.4 182.5 -38.7 174.8 -39.4 167.2 -32.3 161.1 -36.3 156.6 -38.4 148.9 -38.4 145.9 -45.8 141.3 -44.5 139.8 -40 135.2 -38.4 126.1 -33.3 116.9 -33.9 104.7 -35.4 101.7 -33.3 89.5 -33.3 83.3 -36.6 74.2 -37.5 65 -39.4 52.9 -38.4 43.7 -40.6 37.6 -39 26.9 -38.1 19.3 -36.6 10.2 -38.4ZM234.3 -15.6 226.7 -17.1 216 -21.1 208.4 -23.5 197.7 -23.2 196.2 -26.2 208.4 -29.3 211.4 -34.5 197.7 -38.4 187 -38.4 173.3 -41.5 165.7 -43 161.1 -49.1 174.8 -50.9 190.1 -50.6 199.2 -48.2 214.5 -44.5 225.2 -41.5 229.8 -37.8 237.4 -33.3 245 -30.2 240.4 -26.2 235.8 -23.2 237.4 -18.6ZM60.5 -58.9 71.2 -57.6 80.3 -59.8 77.2 -62.2 65 -62.8 59 -60.7ZM126.1 -57 135.2 -56.7 136.7 -59.2 130.6 -60.7 124.5 -59.5ZM139.8 -54.6 148.9 -54.3 150.5 -56.1 142.8 -56.7ZM141.3 -68.9 147.4 -65.9 158.1 -65.9 162.7 -68.9 158.1 -72 147.4 -73.5ZM129.1 -37.5 136.7 -35.4 141.3 -36.9 138.2 -39.4 132.2 -39.7ZM187 -49.7 196.2 -48.2 202.3 -50 196.2 -51.5 188.6 -51.2ZM124.5 -36.9 113.8 -36.6 98.6 -36.9 86.4 -38.7 72.7 -43 74.2 -47.6 86.4 -49.7 98.6 -47.6 110.8 -49.1 115.4 -43 126.1 -40.6ZM51.3 -45.8 59 -43.3 68.1 -44.2 75.7 -46.7 81.8 -50 78.8 -52.8 69.6 -53.1 55.9 -53.4 50.4 -50.6ZM159.6 -60.7 171.8 -59.2 190.1 -58.9 196.2 -60.7 205.3 -64.3 214.5 -66.2 220.6 -68.9 235.8 -72 245 -76.5 205.3 -79.6 159.6 -75 165.7 -70.4 162.7 -65.9 165.7 -62.8ZM152 -56.7 159.6 -53.7 174.8 -53.7 188.6 -54 190.1 -56.7 180.9 -59.5 165.7 -59.5 156.6 -60.1ZM142.8 -47.6 148.9 -46.1 158.1 -47.6 159.6 -51.5 150.5 -52.5 142.8 -51.5ZM123 -47.9 127.6 -45.4 136.7 -44.8 139.8 -47.6 136.7 -51.5 126.1 -51.8 121.5 -50ZM76.3 -55.8 83.3 -53.7 98.6 -54 110.8 -55.2 112.3 -57.9 107.8 -59.8 98.6 -60.7 86.4 -59.8 75.7 -59.2ZM190.1 -20.1 174.8 -18.6 168.8 -23.2 174.8 -26.2 187 -23.2ZM211.4 -64.3 226.7 -58.2 251.1 -56.7 263.3 -52.2 266.4 -46.1 269.4 -40 278.6 -36.9 272.5 -27.8 281.6 -18.6 299.9 -9.5 306 -12.5 312.1 -21.7 321.3 -26.2 336.5 -33.9 357.9 -38.4 367 -44.5 367 -52.2 376.2 -56.7 379.2 -62.8 373.1 -70.4 342.6 -76.5 251.1 -76.5 220.6 -67.4ZM42.8 18.6 52.9 21 58 25.9 53.5 25.3 45.2 20.7ZM174.8 106.6 180.9 103.6 188.6 103 197.7 107 203.5 109.4 207.8 111.8 197.7 112.7 196.2 110.3 187 107.3 182.5 107.6 176.4 107ZM206.9 117.3 212.4 112.7 220.6 113.4 225.5 116.7 216.3 119.8 207.2 118.2ZM195.3 117.3 201.4 117.9 199.9 118.8 195.6 117.9ZM229.1 117 234 117.3 234 118.5 229.1 118.5ZM253.2 28.3 264.8 16.1 264.2 22.5 272.5 25.6 273.4 28.6 270.9 31.4 263.9 30.1 256.3 28ZM198.3 147.5 199.9 148.4 203.8 141.4 207.8 139.3 213.9 137.1 216.6 137.4 216.9 135.3 220.6 136.2 226.1 141.4 232.8 141.1 238.9 140.8 245 140.8 248 142.6 248 147.2 252.6 148.1 257.2 152.7 260.2 155.1 266.4 155.4 270.9 156.3 275.5 159.4 278.6 160.6 281.6 167.9 280.1 172.8 286.2 176.4 293.8 176.4 298.4 180.7 306 181.9 312.1 182.2 316.7 184.7 321.3 188.3 326.7 189.6 328 196.3 327 200.8 322.8 205.4 319.7 210 315.5 214.5 314.8 226.7 312.7 233.8 309.4 240.2 306 243.5 298.4 244.1 290.8 248.1 286.2 252.6 285.9 260 281.6 266.4 277 271.5 271.2 276.4 266.7 279.8 262.4 279.5 258.1 278.3 255.7 278.6 260.2 284 258.7 289.8 254.2 291.4 245 292 244.1 296.8 235.8 298.4 237.4 302.9 239.8 303.9 235.8 309 228.2 313.6 232.8 318.2 226.7 325.8 223.6 330.4 225.2 333.4 220.6 334.3 224.6 336.5 235.2 340.4 226.7 342.6 217.5 341 208.4 334.9 203.8 325.8 203.8 316.7 208.4 313.6 209.9 304.5 209.3 295.3 210.2 286.8 213 281.6 215.7 274 216.3 264.8 216.6 255.7 219.1 246.6 220 237.4 219.7 229.8 216 226.1 205.3 220.6 201.4 215.2 197.1 206.9 193.1 197.8 187 191.7 186.4 186.5 190.1 181 187.4 177.1 190.1 171.6 193.5 168.5 197.7 161.8 198.3 153.6 196.5 151.5ZM247.1 329.5 254.2 329.8 258.1 331 254.2 332.8 248 331.9ZM416.1 64.3 428 66.4 438.7 62.1 449.4 61.2 463.1 59.7 467.7 60.6 465.5 62.5 467 65.2 464.6 68.9 468.3 72.2 473.8 73.1 481.4 77.1 492.1 81 495.4 78.9 495.1 74.9 501.2 73.1 510.4 76.5 522.5 79.5 531.7 78.3 538.4 78 540.5 83.5 536.3 88.1 533.2 82.3 536.3 88.1 542.4 100.2 547.6 109.4 547.9 117 551.5 118.5 554 125.2 559.8 129.8 566.2 135.3 565.9 138.3 569.8 141.7 577.5 139.6 590.3 137.4 590 141.4 588.1 146 583.6 155.1 579.9 160.6 574.4 167.3 566.8 174.9 560.7 178.9 556.7 181.9 553.7 187.4 552.4 193.2 554.6 197.8 557 204.8 557.9 216.1 557.6 220.6 546.9 226.7 541.5 240.5 542.4 246.6 534.1 252 533.2 260.3 527.1 267.9 519.5 274 512.2 277 502.7 277 495.1 279.5 490.2 277 489.6 270.9 486.9 263.3 480.5 254.8 478 242 475 236.8 470.1 226.1 471.9 216.1 475.9 208.5 474.4 199.3 471.6 191.7 470.7 188.6 466.1 182.5 462.2 176.4 463.4 170.4 464 164.3 460.9 160.3 452.4 160.3 447.8 154.2 440.2 154.2 431.1 157.9 425 157.9 418.9 157.9 411.2 160 405.1 156.6 399 152.1 393.8 147.2 392.3 143.8 389 140.5 386.8 137.4 382.9 133.8 380.7 128.6 383.8 124 384.7 115.5 383.8 110.3 382.2 109.4 385.9 101.2 389.9 94.2 394.4 89 403.6 84.4 404.2 77.4 408.2 71.9 413.4 69.8ZM584.5 210 588.1 220.6 585.7 226.7 582 237.4 578.1 249 572 251.1 568.3 246.6 566.2 240.5 569.5 232.8 568.3 225.2 575.3 221.3 580.5 214.9ZM406.7 42.3 409.7 40.2 420.4 41.1 428.6 41.1 430.4 37.8 430.4 33.2 427.4 29.5 420.4 27.4 419.8 25.3 425 24.7 429.2 25 429.8 21.9 434.7 22.5 438.7 20.4 439.3 18 443.9 17 446.9 14.9 448.4 11.9 452.4 10.3 460 10 460.6 5.8 458.8 0.9 466.4 -2.5 465.5 2.1 467.3 2.7 464 5.8 467.7 8.5 472.2 7.6 477.4 9.1 484.4 7 491.4 7.3 494.8 6.1 498.8 5.2 498.2 1.2 499.7 -1.9 503 -2.5 508.5 -1.3 508.2 -4.6 505.8 -7 512.8 -8.3 519.5 -8 524.1 -9.5 521 -11 513.4 -10.7 504.2 -9.2 499.4 -11.6 499.7 -15 499.1 -18.6 502.7 -21.7 508.8 -24.4 511.6 -25.3 508.8 -27.2 501.8 -27.2 499.7 -23.2 496.6 -21.1 490.5 -18 486.9 -14.1 486.6 -11.6 491.4 -8.9 489 -6.4 484.4 -1.9 483.8 0.9 478.3 2.7 473.8 4.5 473.4 1.2 470.1 -2.8 468 -6.4 466.1 -7.3 463.1 -6.1 455.4 -3.4 451.2 -5.8 449.4 -11 449.4 -15.6 455.4 -18 463.1 -21.1 466.1 -23.5 472.2 -27.8 476.8 -32.3 481.4 -35.4 486 -37.5 492.1 -39.4 498.2 -40.6 507.3 -43 512.8 -43.3 519.5 -43 528.6 -40.9 534.8 -38.4 543.9 -37.2 556.1 -33.3 559.8 -30.8 554.6 -28.4 543.9 -29.3 539.3 -27.8 540.2 -23.2 546.9 -21.4 550 -23.5 557.6 -23.2 563.7 -28.7 568.3 -28.1 568.9 -33.6 574.4 -34.5 580.5 -32.9 595.8 -35.7 600.3 -34.8 611 -36.6 617.1 -35.7 618.6 -39.4 629.3 -37.8 638.5 -35.4 643 -34.5 638.5 -38.4 637.8 -42.4 643 -47.9 646.1 -48.8 652.2 -48.8 656.1 -46.7 652.2 -43.6 656.1 -41.2 655.2 -36.3 658.6 -35.1 654.6 -29.3 659.8 -30.8 662.9 -35.7 658.9 -37.5 658.6 -43.9 665.9 -46.1 673.5 -47 679.6 -48.5 680.2 -50.9 698.8 -52.2 696.4 -54.6 708.6 -57 723.9 -58.6 736.1 -59.5 745.2 -62.8 752.8 -63.4 757.4 -62.2 762 -59.8 772.6 -60.4 780.3 -58.2 780.3 -50.6 794 -50.6 809.2 -49.1 821.5 -50.9 827.5 -46.7 830.6 -43 839.8 -44.2 848.9 -44.8 859.6 -47.3 864.1 -48.2 879.4 -46.7 891.6 -44.8 899.2 -42.7 909.9 -43.3 919 -42.4 923.6 -38.4 937.4 -38.4 952.6 -40 983.1 -36.9 983.1 -15.6 937.4 -9.5 928.2 -3.4 911.4 -1.9 909.9 18 908.4 5.8 906.9 -3.1 897.7 -6.4 885.5 -7.3 870.2 -7.3 862.6 -2.8 855 1.5 845.9 7.3 853.5 9.4 862.6 13.4 864.8 21 861.1 27.1 855 31.7 847.4 39.9 839.8 42.9 833.6 43.6 829.7 48.4 824.5 53 828.8 60.6 828.2 65.8 821.5 67.9 819.3 67.3 819.9 61.2 819 58.5 815.4 56.7 814.4 52.7 806.2 50 803.2 48.7 806.2 54.2 804.7 54.8 797.1 53 793.4 54.5 796.4 59.1 801.6 59.1 807.7 60 801.6 63.7 798 66.7 801.6 72.8 805.6 76.5 805.9 79.5 804.7 82 806.2 85 802.5 89.6 798.6 95.7 794 99 789.4 103.3 781.8 105.4 774.2 107.9 770.5 111.5 768.7 107.9 763.5 107.9 759.5 110.3 756.5 115.5 759.2 120.1 765 126.2 767.5 135.3 766.6 139 759.8 141.7 754.4 147.2 753.7 143.5 749.8 141.4 746.7 136.5 741.8 132.3 739.1 132.6 736.7 142 740 148.1 742.2 152.7 745.8 154.5 749.5 158.8 749.8 165.2 751.9 169.1 749.5 169.4 743.1 164.9 740.3 160.3 739.7 155.1 734.5 148.7 735.1 142.9 734.5 133.8 731.8 123.1 728.4 122.2 725.1 125.2 721.7 124.6 722.3 116.1 717.8 112.4 715.6 110.3 714.1 105.1 710.1 106.3 705.5 107 699.5 107.9 697.9 112.4 693.4 114.3 685.1 122.8 679 126.2 678.7 133.8 677.5 138.7 675.1 142 672.6 146.3 670.5 148.7 667.4 146.3 665.3 139.9 662.5 134.4 660.4 128.6 658 124 656.4 115.8 655.5 108.5 656.1 107 655.2 105.4 649.1 110 644.6 105.4 648.2 103.9 643 101.8 639.1 98.4 636.9 96 630.8 96.6 622 96.6 612.5 95.4 608.9 94.8 607.3 90.8 600.3 92.3 592.7 88.7 588.1 83.5 583.6 80.7 580.5 82 580.2 84.7 582 88.1 586 92 589 97.8 591.2 99.3 595.8 99.9 601.2 99.3 604.9 94.8 606.1 93.2 606.1 98.1 610.4 101.2 616.5 104.8 613.1 110.9 610.4 115.5 606.4 118.5 601.9 121.6 593.3 125.5 583.6 130.1 571.4 134.4 566.8 134.7 564.6 127.7 563.7 123.1 560.7 117 553.7 107.9 551.5 100.9 546.9 95.7 541.5 88.1 539.3 83.5 540.5 83.5 538.4 78 540.9 73.4 542.4 69.8 543.6 65.2 544.5 62.1 539.3 61.2 533.2 63.4 527.1 62.8 521 61.2 517.4 59.1 514.9 56.1 515.8 53 514 51.2 518 50 522.5 48.4 530.2 47.8 536.3 45.4 540.9 45.4 550 48.4 556.1 48.4 560.7 46.9 561 43.9 556.1 41.1 550 38.1 548.5 35.3 551.5 31.7 542.4 35.3 545.4 35 540.9 36.2 536.3 38.1 533.2 35.3 536.3 33.2 530.2 31.4 526.2 33.8 524.4 35.6 521.3 38.4 519.5 42.3 519.5 45.4 522.5 47.8 519.5 48.4 514 49.7 507.3 49 505.8 50.9 503 50.3 505.2 53.9 507.3 57.6 504.2 59.7 503.6 62.1 500.3 61.2 498.8 57.6 495.7 53 493.3 50.6 493.6 46 490.5 43.9 482.9 40.8 479.9 37.8 478.3 35.3 475.6 35.9 475.9 34.1 471.6 35 471.9 38.7 475.6 40.8 478.9 45.1 483.2 45.7 490.5 50.9 486.6 50.3 484.4 52.4 486.3 54.5 483.2 57.6 481.7 57 482.6 53 479.2 50.9 474.4 47.5 468.3 44.2 466.1 42.3 462.5 38.4 459.7 39.3 455.4 40.5 449.4 41.1 443.6 42 443.9 45.7 437.1 48.4 434.1 52.1 433.2 55.7 431.7 58.8 427.7 61.5 420.4 61.5 417 63.7 414.9 61.2 411.2 60 407 60.6 407.3 55.7 405.1 55.1 407.3 49.7 407 45.4 406 41.7ZM416.7 21 425 19.2 438.4 17.3 439.3 12.8 434.7 10.3 432.6 7.3 429.2 3.9 426.5 2.1 428.6 -2.2 424.3 -5.2 418.9 -5.2 415.2 -1.9 417 1.8 416.4 4.8 419.2 6.4 424.3 6.4 423.7 8.8 425 10.6 420.1 10.9 421.3 14 417.9 15.5 421.3 16.1 425 17 420.4 17.6ZM415.8 14.3 415.8 9.1 417.3 7 415.2 4.8 411.2 4.8 408.2 7.3 403.6 8.2 404.2 10.9 402.7 14.9 405.1 16.4 409.7 15.8ZM360.9 -26.2 367 -29 379.2 -28.4 389.9 -28.7 392.9 -25 388.4 -22.6 379.2 -19.8 370.1 -21.1 364.9 -21.7ZM459.7 48.4 464 48.4 463.4 53.9 459.7 54.5ZM460.3 42.6 462.8 42.3 463.1 45.4 461.9 47.2 460.3 46ZM471.9 57.3 481.7 56.7 480.2 61.5 472.5 58.8ZM505.8 65.2 514.3 65.8 513.4 66.7 507.3 66.1ZM532.6 67.3 539.3 64.9 537.8 67 534.8 67.9ZM467.7 3.6 472.5 2.7 471.6 5.8 468.3 5.2ZM464 4.2 467 3.9 466.4 5.8 464.3 5.5ZM489.6 -3.1 492.1 -3.1 491.1 -0.9 489.6 -0.6ZM467.7 -65.9 482.9 -70.4 510.4 -70.4 516.5 -67.4 498.2 -64.3 486 -59.8 473.8 -62.8ZM592.7 -44.5 604.9 -50.6 601.9 -56.7 617.1 -59.8 635.4 -61.3 643 -60.7 623.2 -55.2 611 -49.1 608 -43 597.3 -42.1ZM723.9 -67.4 739.1 -69.8 751.3 -67.4 739.1 -65ZM852 -55.2 867.2 -56.7 888.6 -55.8 876.4 -52.2 861.1 -52.2ZM867.2 33.2 871.8 31.7 870.9 23.4 874.8 24 870.2 16.4 870.9 10.3 868.7 7.9 866.6 11.9 867.8 18 867.2 27.1ZM833.3 69.8 838.2 65.2 847.4 64.9 850.4 59.7 856.5 58.2 861.1 52.1 861.1 47.8 865.7 47.5 867.2 53 864.1 59.1 863.5 64.6 860.5 66.7 857.4 67.9 852 67.9 848.3 71.3 845.9 67.9 839.8 68.9 833.6 69.8ZM830 71.3 833.6 70.1 835.8 75.9 833.6 78.9 831.2 78 829.7 73.4ZM838.2 72.2 844.9 70.4 844.3 69.2 839.8 69.8ZM861.1 45.4 864.1 47.2 871.2 45.4 877.9 41.4 874.8 39.3 866.6 34.7 865.7 40.8 861.7 41.7ZM800.4 103.3 802.2 106.3 805.9 98.7 804.7 96.3 800.7 100.2ZM765.3 114.9 771.1 112.1 772.6 113.7 768.4 117.9ZM801.9 117 806.8 117 806.2 123.1 804.7 127.7 812.3 132.3 812.3 135.3 801.9 131.3 800.1 124.6ZM806.2 152.1 812.3 147.5 816.9 144.4 819.9 151.1 816.9 156 812.3 153.6ZM806.2 139.9 810.8 141.4 816 138.3 813.2 135.3 808.3 137.1ZM791.6 147.8 798.9 141.7 798 139 792.5 146ZM766.6 168.8 768.4 167.3 772.6 168.8 778.8 164 784.9 158.2 789.4 153.6 793.1 155.1 797.7 157.2 794 160.3 793.4 170.4 797.1 170.4 792.5 174.9 789.4 181 787.9 185.3 783.3 184.4 778.8 183.2 772.6 182.5 770.2 181.9 768.1 175.5 766.9 171.9ZM724.8 156.3 731.5 157.6 740.3 166.7 748.2 171.9 752.8 178 757.4 183.2 756.8 191.1 752.8 191.4 745.2 185.6 740.6 178 736.1 171.9 733 166.7 726.9 161.2ZM755 194.1 758.9 191.7 765 192.9 771.1 194.1 777.5 194.4 783.3 197.2 783.3 199.9 771.1 198.4 758.9 196ZM784.9 199 787.9 198.7 797.1 199 807.7 198.1 808.9 199.6 797.1 200.5 787.9 200.8ZM812.3 204.2 821.5 199 819.9 200.8 810.8 204.8ZM798.3 190.2 801.6 190.5 801.3 181.9 803.8 181.9 803.8 188 808.6 188 806.2 183.5 807.7 177.4 810.2 176.1 803.8 176.4 803.2 171.9 812.3 172.2 815.7 168.8 813.8 170.4 802.5 169.4 800.1 171.9 799.5 174.9 796.4 181.9 798.6 184.1ZM823 167.9 826 168.8 824.5 171.9 826.6 175.8 823.9 174.9 823 171ZM824.5 182.5 832.1 183.2 833 185 826 184.4ZM833.6 177.4 838.2 174.6 842.8 176.1 845.9 183.5 854.4 178 864.1 181.3 874.8 185 879.4 190.2 884 192 884.9 197.8 891.6 204.8 882.4 203.9 877.9 197.8 871.8 200.8 864.1 201.1 857.4 198.7 854.4 189.2 845.9 186.8 839.8 185.6 836.7 181.9 841.3 180.1 836.7 179.2ZM887 190.2 891.6 188.6 896.2 186.2 898.3 188 894.7 191.7 888.6 192.3ZM780.3 240.5 781.8 254.2 784.9 263.3 787 275.5 784.9 277.9 793.7 280.4 800.1 277 810.8 276.7 818.4 271.9 827.5 270 834.3 269.4 843.4 272.5 848 279.8 851.6 276.1 854.4 274 853.5 281.9 856.5 279.5 859.9 283.7 862.9 289.2 871.8 291.7 876.4 290.4 880.6 292.6 885.5 288.6 891.6 287.7 894 280.1 896.2 274 900.8 267.9 902.6 260.3 900.8 251.1 894.7 245 890.1 241.4 887 235.3 880.3 231.3 877.6 222.2 877.3 218.8 871.8 216.1 871.2 208.5 868.7 206 866 212.7 865.7 220.6 863.5 226.7 858.1 225.2 852 221.6 847.4 219.1 851 210.6 847.4 210 838.2 207.8 833.6 210.6 829.1 218.8 823 216.1 816.9 217.6 810.8 224.6 806.8 229.2 803.2 233.1 795.5 235.3 790 236.2 783.6 239.8ZM875.1 297.5 886.4 298.1 885.5 304.5 882.1 306.3 877 302.3ZM677.5 149 678.4 143.5 683.6 150.5 682.7 154.5 678.7 155.1Z" fill="#efefdb" stroke="#000" stroke-width="0.6" stroke-linejoin="round"/><path d="M143.7 29.5 149.8 36.5 155.9 42.3 156.6 50 159 55.7 162 60.6 159.3 66.4 156.2 72.8 155 78.9 159.3 82.3 161.7 84.4M94 33.5 101.7 28 116.9 27.1 126.1 29.2 127.9 38.1 137 42.9 141.6 47.5 145.6 54.2 152.9 55.7 159 55.1M190.1 50.3 184.9 54.8 182.2 55.7 176.4 54.2 172.4 56.7 166.9 57.9 162 60.6M110.8 54.5 115.1 56.7 129.1 58.2 137.3 59.1 143.1 64.3 152.6 67.6 156.6 70.1M110.8 51.5 100.1 56.1 94 60.9 87.9 63.4 84.6 66.7 84.3 73.7M74.2 24 70.2 32.6 65 34.4 55.9 32.6M95.5 40.8 84.9 43.6 77.2 39.3 71.2 32.6M109 58.8 108.4 66.7 109.3 76.5M200.8 39 208.4 35.6 216.9 30.8 223.6 26.2M120 71.3 129.1 74.3 135.2 78 139.8 82 144.3 85M168.8 63.7 171.8 67.3 165.7 72.8 165.7 78.9M711.6 69.8 730 72.8 737.6 88.1 746.7 92.6 752.8 85.9 758.9 83.2 771.1 79.5 777.2 82 782.7 80.1 790.9 80.4 796.4 75.9 804.7 77.1M726.9 66.7 742.2 64.3 750.7 63.7 755.9 59.1 759.8 53.6 765 49 772.6 50.6 771.1 60.6 770.5 67.9 780.3 67.3 787.9 65.2 796.4 58.5M755.9 8.8 763.5 1.2 781.8 -8.6 800.1 -11 821.5 -15.6 829.1 -20.1 821.5 -29.3 819.9 -40 822.4 -47.6M717.8 14.9 717.1 2.7 715.3 -4.3 708.6 -14.1 701 -26.2 697.9 -36.9 685.7 -44.5M800.1 10.9 819.9 11.9 823.3 21 832.1 27.1 845.2 25.9 850.4 21 852 14.9 862.6 12.2M733 78.9 736.1 91.1 739.7 106.3 743.7 111.8 747 118.5 753.7 123.1 756.8 130.7 757.1 138.3 758.9 143.5M723.9 88.1 714.7 93.5 707.7 95.7 710.1 103.3M731.5 95.7 726.9 106.3 723.9 117 724.8 124.6M745.2 -9.5 757.4 -3.4 769.6 -0.3M836.7 -9.5 845.9 -12.5 852 -17.1 861.1 -18.6 870.2 -27.8 885.5 -36.9 897.7 -41.5M402.1 143.5 409.7 138.3 417.3 132.3 421.9 129.2 425 123.1 434.1 123.7 438.7 130.7 444.8 137.4 450.9 146 454.8 149.6 453.9 158.2M454.8 149.6 463.1 147.2 470.7 145.1M519.5 200.8 513.4 191.7 511.9 179.5 511 171.9 501.2 167.9 493.6 168.8 488.4 174.9 484.4 181.9 480.8 186.5 471.6 191.7M516.5 158.8 502.7 160.6 490.8 160 488.4 174.9M507.3 210 504.2 219.1 511.9 227 519.5 223.7 527.1 220.9 534.8 222.8 542.4 228 544.8 231M524.1 263.3 508.8 262.7 498.2 260.6 484.4 260.6M532.9 168.8 530.2 162.4 529.6 146 533.2 125.9 536.3 120.1M547.9 138 540.9 139.9 539.3 135.3 533.2 125.9M489 210 495.1 222.2 501.2 228.3 505.8 232.8M885.5 284.7 879.4 282.5 871.8 280.1 864.1 277.6 859.6 281.6M888.6 260.3 879.4 264.8 871.8 270.9 867.2 277M460 27.1 466.1 24.7 475.3 25.3 484.4 26.5 491.7 27.7 492.1 33.2 496 35.3 502.7 37.8 508.8 40.2 518 39.3 519.5 35.3 524.4 35.6M463.1 28.3 457.3 28.3 459.1 24 459.4 21 455.4 18 452.4 15.2 446.9 14.9M476.8 19.5 470.7 15.2 469.2 11.9 464 10.3 460.6 9.1M492.1 21.9 498.2 19.5 498.8 14.3 493.6 12.5 491.4 7.9M534.8 5.8 528.6 8.8 527.1 14.9 527.1 19.8 536.3 24 540.9 27.7 536.3 31.1 533.2 31.7M550.9 9.1 553.7 18 559.2 22.5 565.2 27.1 557.6 28.9 553.7 29.5M534.8 -0.3 548.5 -1.3 556.1 -2.2 568.3 1.8 582 3.3 583.6 9.4 582 13.4 574.4 16.4 569.8 25 575.9 30.1 580.5 32.3M446.3 36.2 444.8 30.4 440.2 27.7 435.6 28.9 428 29.2M447.8 27.1 441.7 24.7 435 22.8M453 32.6 450.9 34.7 448.7 34.1 448.7 39.3 448.1 41.1M421.9 42.3 428 43.9 434.1 46.6 436.5 49.3M428 50 421.9 51.8 412.8 52.7 406.7 55.1M426.5 46 418.9 46.9 413.4 48.4 407.9 48.1M457 36.8 461.6 35.9 467.7 36.2 471.6 36.5M575.9 -11.9 569.8 -17.1 557.6 -23.2M479.9 18 484.4 16.4 487.5 13.4 479.9 11.9 478.3 9.7M507.3 5.8 504.2 5.5 499.1 4.8M519.5 4.2 513.4 1.8 507.3 -0.3 507.6 -0.3M514.9 22.5 519.5 27.1 524.1 31.7 527.1 32.3" fill="none" stroke="#a3bfe6" stroke-width="0.6" stroke-linejoin="round"/><path d="M383.8 124 391.4 122.8 396.9 128.3M396.9 128.3 399 126.2 417.3 126.2 417.9 123.1 415.8 112.4 419.5 97.2M383.2 135.6 392.3 135 399.3 135.6 396.9 128.3M382.9 131.9 386.8 132.6 392 132.3M388.4 140.5 392.9 142.3 393.5 146 400.6 142.9 402.7 147.5 408.2 150.2 411.2 160M399.3 135.6 401.5 139.3 408.2 139.9 409.7 142.3 410.3 147.5 408.2 150.2M425 157.9 425.6 144.4 425.6 139.9M409.7 142.3 417.3 141.4 417.6 137.7 420.4 134.7 425.6 139.9 434.1 139.9 440.8 137.1 445.1 137.7M417.6 137.7 428 129.2 434.7 128 437.1 132.3 445.1 137.7M437.8 154.8 435.6 149 434.1 139.9M439.6 154.5 438.7 146 436.8 139.9 440.8 137.1M442.3 153.9 442.6 146 445.1 137.7M445.1 137.7 446.3 132.3 455.4 133.8 464.6 132.9 475.6 131.6 477.4 135M446.9 124.6 446.3 114 452.4 114 470.7 101.8M481.4 103.3 481.4 110.9 475.3 130.7M507.3 114 501.2 127.7 504.2 139.9 501.2 146M477.4 135 479.9 142.9 481.4 150.5M460 159.7 463.7 153.6 470.1 152.1 473.8 144.4 477.4 135M464 166.4 468.6 166.7 482.9 166.7 484.4 162.7 481.4 150.5M481.4 150.5 489 147.5 501.2 146M484.4 162.7 490.5 161.2 501.2 159.7 510.4 158.2 517.7 158.2M501.2 146 507.3 147.5 519.5 144.4 534.8 141.4 537.8 144.4M517.7 158.2 525.6 162.7 528.6 161.8 536.3 161.8 539.3 159.4M545.4 129.8 540.9 141.4 537.8 147.5 540.9 158.2 542.4 159.4M542.4 159.4 550 162.4 559.2 161.2 562.2 161.2M562.2 161.2 571.4 158.2 580.5 149 566.8 144.4M537.8 176.4 548.5 183.2 553.7 187.4M537.8 176.4 539.3 170.4 540.9 159.4M559.2 178.6 559.2 161.5M524.4 159.4 525.3 173.4 524.4 177.7 523.2 183.8M524.4 177.7 528.6 176.4 537.8 176.4M527.7 198.7 521 200.8 520.7 208.5 516.5 208.8 507.3 206.9 501.2 206.9 501.2 213M471.6 191.7 482.9 196.3 489 197.8 498.2 194.7 501.2 206.9M470.1 226.1 476.8 226.4 489 226.7 505.2 227.7M501.2 213 507.3 213 501.2 223.7 505.2 227.7M484.4 260.6 495.1 260 495.1 248.7 495.1 240.5 498.2 240.5 498.2 229.2M495.1 248.7 504.2 251.1 512.2 251.4 516.5 245.3 524.1 241.1 529.6 241.7M505.2 227.7 511.3 227.7 519.5 223.7 526.8 220.9M511.3 227.7 516.5 234.4 524.1 241.1M526.8 220.9 534.8 225.2 533.2 234.4 529.6 241.7 531.4 252.3 534.4 255.1M557.6 205.4 548.5 208.5 539.6 208.5M527.7 198.7 534.8 202.4 538.7 202.4M526.8 220.9 534.1 214.5 535.7 216.7 541.8 217M516.5 264.2 521 260.6 524.1 263.3 521 266.7 516.5 264.2M701.9 23.4 708.6 28.6 711.6 36.2 726.9 43.3 739.1 43.6 754.4 46.6 769.6 43.6 775.7 40.2 787.9 35.6 799.8 31.1 792.2 28.3 787.9 22.5 781.8 20.1M701.9 23.4 714.7 18.9 733 15.8 745.2 16.7 757.4 20.1 765 23.1 781.8 20.1 790 21.6 800.1 13.4M800.1 13.4 809.2 10.3 821.5 13.4 824.5 22.2 833.6 27.7 844.9 26.2 841.3 36.2 833.6 42.3 832.1 43.9M812.9 51.8 818.4 46.9 824.5 45.4 830.6 43.9M818.7 58.2 821.5 57 825.4 55.7M702.5 89.6 708.6 88.1 714.7 88.7 723.9 85 730.9 87.1 734.5 95.7 733 100.2 737.6 106 742.8 108.8 745.2 105.1 749.8 104.2 757.4 103.6 763.5 107.9M734.5 142.9 736.1 132.3 733.6 126.2 731.5 117 739.1 111.2 742.8 108.8M739.1 111.2 742.2 120.1 752.8 120.4 756.2 127.7 762 129.2M751.3 104.8 752.8 112.4 757.4 120.1 762 129.2M746.7 136.8 748.2 129.8 756.2 130.1M752.8 141.4 757.4 138.3 762 135.3 762 129.2M704 106.3 705.5 93.5 716.2 97.2 715.3 103.3 715.6 110.3M739.7 153.6 745.2 155.1M768.4 167.3 775.7 168.8 784.9 165.8 786.4 161.2 792.5 160.6M864.1 181.3 864.1 201.1M815 200.8 815.7 202.4M4.1 -38.7 4.1 -10.4M58 24 143.7 24 144.3 22.8 160.8 27.1 176.4 31.7 182.5 35.3 182.8 42.6 180.6 44.8 187 44.8 193.1 41.7 200.8 40.5 206.3 36.2 216 36.2 218.5 34.7 220.6 31.1 223 28.9 226.1 29.2 227.3 29.8 227.3 34.1 229.4 35.9M76.9 74.3 84.3 73.7 95.5 78 104.1 78 104.1 76.5 109.3 76.5 115.4 83.2 120 85 124.5 82.6 129.1 88.1 130.6 89.6 137.6 94.5M152.9 129.2 153.5 124.6 156.6 121 162.3 118.8 162 124.9M162 124.9 161.7 129.5 166.3 131M166.3 133.2 170.3 131.3 174.8 127.7 180.3 127.7M178.8 139.9 172.7 139.6M181.3 143.5 182.2 148.1M428.6 41.1 434.1 43.3 438.7 43.9 443.9 44.2M407 45.4 409.1 45.1 414.3 46.3 413.1 48.4 412.8 52.4 411.8 53.3 412.8 56.1 411.2 59.1 411.5 60M441.7 17.6 446.9 20.1 451.8 22.5 453.6 22.5 459.1 24 457.3 28.3M457.3 28.3 452.4 32.6 455.4 33.5 454.8 37.8 457 39.9M444.5 16.7 449.4 16.4 452.4 18M456.1 10.9 455.4 14.3 452.4 15.5 453 18.6 452.7 20.7 453.6 22.5M460.3 6.1 464.3 6.4M477.4 9.1 478.6 13.4 479.9 18M471 20.1 479.2 18.3M471 20.1 476.2 24.7M463.7 28.6 473.8 28.6 476.2 24.7M457.3 28.3 463.4 28.3 465.8 31.4 461.6 33.5 455.4 33.5M465.8 31.4 471.9 30.1 475.9 31.7 482.9 31.1M475.6 34.7 480.5 34.7 482 32.3 483.2 30.8M476.2 24.7 479.9 24 486 25.3 486 28 483.2 30.8M479.2 18.3 484.4 20.4 490.8 21.6M490.8 21.6 496.6 22.8 502.7 23.7M486 27.7 491.4 27.7 496.6 25.6 501.8 25.9M502.7 23.7 507.3 19.5 505.8 14.9 506.7 9.1 503.6 7.6M493.9 7.6 503.6 7.6M498.2 2.4 507.3 1.8 515.2 3.6M508.2 -3.1 513.4 -2.8 517.7 -1.9M519.5 -8 518 -3.4 518.6 -1.3 520.1 2.1 515.2 3.6 510.4 8.8 506.7 9.1M506.1 16.1 516.5 16.1 527.1 17 531.1 14.6M531.1 14.6 528.6 9.4 528 4.2 520.1 2.1M531.1 14.6 539 16.4 542.1 19.2 550 21.3 556.1 22.2 555.2 27.7 550.6 29.8M501.8 25.9 510 28 515.2 26.5 519.5 26.5 523.2 28.9 525.6 31.7 520.1 34.7 524.4 35M515.2 26.5 519.8 31.4 520.1 34.7M501.8 25.9 498.8 32.6 496 32.9M496 32.9 499.7 35.6 502.7 37.8 507.3 40.2 513.4 39.3 517.4 39 521.3 40.2M483.2 30.8 486 33.5 492.1 33.5 496 32.9M502.4 44.5 507.3 46.6 513.4 47.5 515.2 46.3 519.5 45.4M502.7 37.8 502.4 44.5M482 35.6 492.1 36.2 493 36.5 493 41.7 490.5 43.9M493.3 43.9 496.6 45.4 496.9 48.4 498.2 50.9 495.7 52.7M496.9 48.4 503.9 47.5 502.4 44.5M493 41.7 496.6 43.9 502.4 44.5M468.9 -6.4 472.2 -11 470.7 -15 473.8 -21.7 479.9 -27.8 486 -33.9 495.1 -36.9M507.3 -27.2 505.8 -32.3 498.2 -36.9M498.2 -36.9 510.4 -35.7 521 -38.4 522.5 -40M522.5 -39 521 -33.9 525.6 -32.3 524.1 -27.8 525.6 -21.7 530.2 -18.3 518.9 -11M543.9 62.1 546.9 61.5 556.1 60.9 563.4 60 570.7 60 569.8 53 566.8 48.1M560.7 46.9 566.8 48.1 571.4 47.8 575.9 48.1 582 46M556.1 41.1 562.2 41.7 574.4 45.4 582 46M570.7 60 572.9 65.2 575 71.3 579.9 77.4 580.5 82M563.4 60 559.2 68.2 553.1 74.9M545.4 74.3 543.3 71.9 543.6 67.9M415.8 64.3 428.9 66.7 430.4 75.6M460.3 60.9 459.1 71.3" fill="none" stroke="#999" stroke-width="0.35" stroke-linejoin="round"/><path d="M153.5 31.1 161.1 27.1 165.1 24.7 170.3 25 175.5 30.1 176.1 31.7 169.4 31.7 165.7 28.9 158.1 31.4ZM166.3 45.4 167.2 46.6 170.3 44.8 171.2 40.8 170.3 36.8 173.3 33.8 175.5 33.5 171.8 33.2 167.2 35.6 166.3 39.3ZM176.1 33.5 179.4 32.9 185.5 33.5 188.6 35.6 190.7 37.2 184.9 41.4 182.5 42.3 181.6 39.3 179.7 37.5 177.9 34.7ZM179.7 46.3 187 43.6 193.1 42.6 190.7 44.8 184 47.2ZM190.7 41.4 193.1 39.9 199.2 39.3 201.7 40.8 197.7 41.4ZM577.5 36.2 583.6 31.4 591.2 30.1 595.8 31.7 595.8 35.6 589.6 37.8 591.2 41.7 595.1 46 598.8 49.3 596.4 53.6 598.5 59.4 589.6 61.5 583.6 58.8 583.6 55.1 585.1 50.6 580.5 46 578.4 42.3 579 37.8ZM751.3 16.1 758.9 13.7 766.6 8.8 768.7 3.6 766.6 4.2 762 10.3 755.9 14 750.4 15.8ZM530.8 174.3 537.8 174.3 539.9 178 536.3 181 531.7 181 530.5 178ZM523.2 183.8 527.1 199.3 528.6 199.3 524.7 185.6ZM538.7 202.4 541.8 217 539.6 216.1 537.8 206.9ZM525.6 -12.5 530.2 -10.4 534.1 -11.6 533.2 -14.1 528.6 -14.7ZM539.3 -14.1 543.3 -13.4 544.5 -16.5 540.9 -18ZM612.5 31.7 618.6 33.2 620.1 37.8 614 40.8 611 36.2ZM659.8 32.3 669 31.4 675.7 31.7 672 34.4 662.9 33.5ZM136.7 19.5 139.8 19.5 136.7 10.3 132.2 10.3Z" fill="#bcd0ee" stroke="#9fbae2" stroke-width="0.5"/><path d="M91.7 63.7L88.2 70L95.2 70Z" fill="#ff0000" stroke="#888" stroke-width="0.3"/><path d="M161.1 75.7L157.6 69.4L164.6 69.4Z" fill="#ffd700" stroke="#888" stroke-width="0.3"/><path d="M187.3 51.6L183.8 45.3L190.8 45.3Z" fill="#0000ff" stroke="#888" stroke-width="0.3"/><path d="M166 72.7L162.5 66.4L169.5 66.4Z" fill="#0000ff" stroke="#888" stroke-width="0.3"/><path d="M162.5 72.1L159 65.8L166 65.8Z" fill="#0000ff" stroke="#888" stroke-width="0.3"/><path d="M159.8 70.5L156.3 64.2L163.3 64.2Z" fill="#ffd700" stroke="#888" stroke-width="0.3"/><path d="M180.2 48.7L176.7 55L183.7 55Z" fill="#ffd700" stroke="#888" stroke-width="0.3"/><path d="M145.6 80.5L142.1 86.8L149.1 86.8Z" fill="#0000ff" stroke="#888" stroke-width="0.3"/><path d="M173.3 69.7L169.8 63.4L176.8 63.4Z" fill="#ffd700" stroke="#888" stroke-width="0.3"/><path d="M143 70.2L139.5 63.9L146.5 63.9Z" fill="#0000ff" stroke="#888" stroke-width="0.3"/><path d="M132.9 76.4L129.4 82.7L136.4 82.7Z" fill="#ff0000" stroke="#888" stroke-width="0.3"/><path d="M62.3 59.5L58.8 65.8L65.8 65.8Z" fill="#ff0000" stroke="#888" stroke-width="0.3"/><path d="M70.2 36.9L66.7 43.2L73.7 43.2Z" fill="#ff0000" stroke="#888" stroke-width="0.3"/><path d="M137.9 64.9L134.4 58.6L141.4 58.6Z" fill="#0000ff" stroke="#888" stroke-width="0.3"/><path d="M183.3 72.9L179.8 66.6L186.8 66.6Z" fill="#ffd700" stroke="#888" stroke-width="0.3"/><path d="M135.4 82.2L131.9 75.9L138.9 75.9Z" fill="#ffd700" stroke="#888" stroke-width="0.3"/><path d="M82.8 55.5L79.3 61.8L86.3 61.8Z" fill="#ff0000" stroke="#888" stroke-width="0.3"/><path d="M202.3 49.1L198.8 42.8L205.8 42.8Z" fill="#0000ff" stroke="#888" stroke-width="0.3"/><path d="M133.7 76.9L130.2 83.2L137.2 83.2Z" fill="#ffd700" stroke="#888" stroke-width="0.3"/><path d="M175.4 66.1L171.9 59.8L178.9 59.8Z" fill="#0000ff" stroke="#888" stroke-width="0.3"/><path d="M96.3 71.7L92.8 78L99.8 78Z" fill="#ff0000" stroke="#888" stroke-width="0.3"/><path d="M147.3 65L143.8 58.7L150.8 58.7Z" fill="#ffd700" stroke="#888" stroke-width="0.3"/><path d="M121.7 68.6L118.2 74.9L125.2 74.9Z" fill="#ff0000" stroke="#888" stroke-width="0.3"/><path d="M155.3 78L151.8 71.7L158.8 71.7Z" fill="#ffd700" stroke="#888" stroke-width="0.3"/><path d="M146.7 74.6L143.2 68.3L150.2 68.3Z" fill="#ffd700" stroke="#888" stroke-width="0.3"/><path d="M172.7 65L169.2 71.3L176.2 71.3Z" fill="#ffd700" stroke="#888" stroke-width="0.3"/><path d="M173.8 54.5L170.3 60.8L177.3 60.8Z" fill="#ffd700" stroke="#888" stroke-width="0.3"/><path d="M171.5 56.7L168 50.4L175 50.4Z" fill="#0000ff" stroke="#888" stroke-width="0.3"/><path d="M171.5 61.5L168 55.2L175 55.2Z" fill="#ffd700" stroke="#888" stroke-width="0.3"/><path d="M79.8 39L76.3 45.3L83.3 45.3Z" fill="#ff0000" stroke="#888" stroke-width="0.3"/><path d="M190.7 76.1L187.2 69.8L194.2 69.8Z" fill="#ffd700" stroke="#888" stroke-width="0.3"/><path d="M213.1 51.8L209.6 45.5L216.6 45.5Z" fill="#0000ff" stroke="#888" stroke-width="0.3"/><path d="M101.1 25.3L97.6 31.6L104.6 31.6Z" fill="#ffd700" stroke="#888" stroke-width="0.3"/><path d="M88.4 47.8L84.9 54.1L91.9 54.1Z" fill="#ff0000" stroke="#888" stroke-width="0.3"/><path d="M59.7 33.9L56.2 40.2L63.2 40.2Z" fill="#ffd700" stroke="#888" stroke-width="0.3"/><path d="M81.7 57.5L78.2 63.8L85.2 63.8Z" fill="#ff0000" stroke="#888" stroke-width="0.3"/><path d="M75.5 26.4L72 32.7L79 32.7Z" fill="#ff0000" stroke="#888" stroke-width="0.3"/><path d="M136.4 57.7L132.9 51.4L139.9 51.4Z" fill="#0000ff" stroke="#888" stroke-width="0.3"/><path d="M131.3 37L127.8 30.7L134.8 30.7Z" fill="#0000ff" stroke="#888" stroke-width="0.3"/><path d="M151.5 35.7L148 29.4L155 29.4Z" fill="#0000ff" stroke="#888" stroke-width="0.3"/><path d="M124.1 54.3L120.6 60.6L127.6 60.6Z" fill="#ffd700" stroke="#888" stroke-width="0.3"/><path d="M214.9 42.1L211.4 35.8L218.4 35.8Z" fill="#0000ff" stroke="#888" stroke-width="0.3"/><path d="M204.6 33.8L201.1 40.1L208.1 40.1Z" fill="#ff0000" stroke="#888" stroke-width="0.3"/><path d="M99.1 53.7L95.6 60L102.6 60Z" fill="#ff0000" stroke="#888" stroke-width="0.3"/><path d="M104.6 51.7L101.1 58L108.1 58Z" fill="#ff0000" stroke="#888" stroke-width="0.3"/><path d="M140.4 62.8L136.9 56.5L143.9 56.5Z" fill="#0000ff" stroke="#888" stroke-width="0.3"/><path d="M135.5 65.2L132 58.9L139 58.9Z" fill="#0000ff" stroke="#888" stroke-width="0.3"/><path d="M137.4 38.1L133.9 44.4L140.9 44.4Z" fill="#0000ff" stroke="#888" stroke-width="0.3"/><path d="M122.5 61.5L119 67.8L126 67.8Z" fill="#ffd700" stroke="#888" stroke-width="0.3"/><path d="M131.4 33.3L127.9 27L134.9 27Z" fill="#0000ff" stroke="#888" stroke-width="0.3"/><path d="M161 62.7L157.5 56.4L164.5 56.4Z" fill="#ffd700" stroke="#888" stroke-width="0.3"/><path d="M217.3 47.6L213.8 41.3L220.8 41.3Z" fill="#0000ff" stroke="#888" stroke-width="0.3"/><path d="M150.1 63.1L146.6 56.8L153.6 56.8Z" fill="#ffd700" stroke="#888" stroke-width="0.3"/><path d="M145.3 56.5L141.8 50.2L148.8 50.2Z" fill="#0000ff" stroke="#888" stroke-width="0.3"/><path d="M165.3 47.2L161.8 53.5L168.8 53.5Z" fill="#ffd700" stroke="#888" stroke-width="0.3"/><path d="M91.3 44.3L87.8 50.6L94.8 50.6Z" fill="#ff0000" stroke="#888" stroke-width="0.3"/><path d="M86.5 60.2L83 66.5L90 66.5Z" fill="#ff0000" stroke="#888" stroke-width="0.3"/><path d="M107.5 54.8L104 61.1L111 61.1Z" fill="#ff0000" stroke="#888" stroke-width="0.3"/><path d="M91.5 48.3L88 54.6L95 54.6Z" fill="#ff0000" stroke="#888" stroke-width="0.3"/><path d="M70.3 44.8L66.8 51.1L73.8 51.1Z" fill="#ff0000" stroke="#888" stroke-width="0.3"/><path d="M118.9 53.3L115.4 59.6L122.4 59.6Z" fill="#ffd700" stroke="#888" stroke-width="0.3"/><path d="M184.1 97L180.6 90.7L187.6 90.7Z" fill="#ffd700" stroke="#888" stroke-width="0.3"/><path d="M81 56.1L77.5 62.4L84.5 62.4Z" fill="#ffd700" stroke="#888" stroke-width="0.3"/><path d="M169.1 38.2L165.6 31.9L172.6 31.9Z" fill="#0000ff" stroke="#888" stroke-width="0.3"/><path d="M121 21.1L117.5 27.4L124.5 27.4Z" fill="#ffd700" stroke="#888" stroke-width="0.3"/><path d="M128.9 55.4L125.4 49.1L132.4 49.1Z" fill="#0000ff" stroke="#888" stroke-width="0.3"/><path d="M129.7 82.5L126.2 88.8L133.2 88.8Z" fill="#ffd700" stroke="#888" stroke-width="0.3"/><path d="M113.9 48.6L110.4 54.9L117.4 54.9Z" fill="#ff0000" stroke="#888" stroke-width="0.3"/><path d="M186.2 95.4L182.7 89.1L189.7 89.1Z" fill="#ffd700" stroke="#888" stroke-width="0.3"/><path d="M93 33.5L89.5 39.8L96.5 39.8Z" fill="#ff0000" stroke="#888" stroke-width="0.3"/><path d="M203.5 55.5L200 49.2L207 49.2Z" fill="#0000ff" stroke="#888" stroke-width="0.3"/><path d="M140.4 48.9L136.9 55.2L143.9 55.2Z" fill="#ffd700" stroke="#888" stroke-width="0.3"/><path d="M146.3 62.9L142.8 56.6L149.8 56.6Z" fill="#ffd700" stroke="#888" stroke-width="0.3"/><path d="M169.2 60L165.7 66.3L172.7 66.3Z" fill="#ffd700" stroke="#888" stroke-width="0.3"/><path d="M178.1 71.9L174.6 65.6L181.6 65.6Z" fill="#0000ff" stroke="#888" stroke-width="0.3"/><path d="M108.4 60L104.9 66.3L111.9 66.3Z" fill="#ff0000" stroke="#888" stroke-width="0.3"/><path d="M157.6 45.1L154.1 38.8L161.1 38.8Z" fill="#0000ff" stroke="#888" stroke-width="0.3"/><path d="M150.7 51.2L147.2 44.9L154.2 44.9Z" fill="#0000ff" stroke="#888" stroke-width="0.3"/><path d="M115.8 42.5L112.3 48.8L119.3 48.8Z" fill="#ff0000" stroke="#888" stroke-width="0.3"/><path d="M111.8 56.6L108.3 62.9L115.3 62.9Z" fill="#ff0000" stroke="#888" stroke-width="0.3"/><path d="M171.4 34.1L167.9 27.8L174.9 27.8Z" fill="#0000ff" stroke="#888" stroke-width="0.3"/><path d="M64.2 28.3L60.7 22L67.7 22Z" fill="#ffd700" stroke="#888" stroke-width="0.3"/><path d="M194.3 58.6L190.8 64.9L197.8 64.9Z" fill="#ffd700" stroke="#888" stroke-width="0.3"/><path d="M131.7 61.2L128.2 54.9L135.2 54.9Z" fill="#0000ff" stroke="#888" stroke-width="0.3"/><path d="M120.1 74.2L116.6 80.5L123.6 80.5Z" fill="#ff0000" stroke="#888" stroke-width="0.3"/><path d="M146.1 42.8L142.6 36.5L149.6 36.5Z" fill="#0000ff" stroke="#888" stroke-width="0.3"/><path d="M190.4 55.3L186.9 49L193.9 49Z" fill="#0000ff" stroke="#888" stroke-width="0.3"/><path d="M178.2 79.9L174.7 73.6L181.7 73.6Z" fill="#ffd700" stroke="#888" stroke-width="0.3"/><path d="M129.2 86.5L125.7 80.2L132.7 80.2Z" fill="#0000ff" stroke="#888" stroke-width="0.3"/><path d="M116.9 55.1L113.4 61.4L120.4 61.4Z" fill="#ffd700" stroke="#888" stroke-width="0.3"/><path d="M201.8 61.5L198.3 55.2L205.3 55.2Z" fill="#0000ff" stroke="#888" stroke-width="0.3"/><path d="M137.8 62.4L134.3 68.7L141.3 68.7Z" fill="#ff0000" stroke="#888" stroke-width="0.3"/><path d="M139.8 81.5L136.3 75.2L143.3 75.2Z" fill="#ffd700" stroke="#888" stroke-width="0.3"/><path d="M64 28.9L60.5 22.6L67.5 22.6Z" fill="#ffd700" stroke="#888" stroke-width="0.3"/><path d="M56.5 32.4L53 26.1L60 26.1Z" fill="#ffd700" stroke="#888" stroke-width="0.3"/><path d="M58 35.1L54.5 41.4L61.5 41.4Z" fill="#ffd700" stroke="#888" stroke-width="0.3"/><path d="M73 26.6L69.5 32.9L76.5 32.9Z" fill="#ff0000" stroke="#888" stroke-width="0.3"/><path d="M76 27.1L72.5 33.4L79.5 33.4Z" fill="#ff0000" stroke="#888" stroke-width="0.3"/><path d="M69.5 35.1L66 41.4L73 41.4Z" fill="#ff0000" stroke="#888" stroke-width="0.3"/><path d="M69 38.6L65.5 44.9L72.5 44.9Z" fill="#ff0000" stroke="#888" stroke-width="0.3"/><path d="M78.5 38.6L75 44.9L82 44.9Z" fill="#ff0000" stroke="#888" stroke-width="0.3"/><path d="M87 22.1L83.5 28.4L90.5 28.4Z" fill="#ff0000" stroke="#888" stroke-width="0.3"/><path d="M88 33.1L84.5 39.4L91.5 39.4Z" fill="#ff0000" stroke="#888" stroke-width="0.3"/><path d="M87.5 38.6L84 44.9L91 44.9Z" fill="#ff0000" stroke="#888" stroke-width="0.3"/><path d="M64 42.1L60.5 48.4L67.5 48.4Z" fill="#ff0000" stroke="#888" stroke-width="0.3"/><path d="M60 46.1L56.5 52.4L63.5 52.4Z" fill="#ff0000" stroke="#888" stroke-width="0.3"/><path d="M68 45.1L64.5 51.4L71.5 51.4Z" fill="#ff0000" stroke="#888" stroke-width="0.3"/><path d="M75 49.1L71.5 55.4L78.5 55.4Z" fill="#ff0000" stroke="#888" stroke-width="0.3"/><path d="M86.5 45.1L83 51.4L90 51.4Z" fill="#ff0000" stroke="#888" stroke-width="0.3"/><path d="M86 51.1L82.5 57.4L89.5 57.4Z" fill="#ff0000" stroke="#888" stroke-width="0.3"/><path d="M63 59.9L59.5 53.6L66.5 53.6Z" fill="#0000ff" stroke="#888" stroke-width="0.3"/><path d="M69 54.1L65.5 60.4L72.5 60.4Z" fill="#ff0000" stroke="#888" stroke-width="0.3"/><path d="M72 43.1L68.5 49.4L75.5 49.4Z" fill="#ff0000" stroke="#888" stroke-width="0.3"/><path d="M80 47.1L76.5 53.4L83.5 53.4Z" fill="#ff0000" stroke="#888" stroke-width="0.3"/><path d="M88 22.6L84.5 28.9L91.5 28.9Z" fill="#ff0000" stroke="#888" stroke-width="0.3"/><path d="M92.5 23.1L89 29.4L96 29.4Z" fill="#ff0000" stroke="#888" stroke-width="0.3"/><path d="M95 22.6L91.5 28.9L98.5 28.9Z" fill="#ff0000" stroke="#888" stroke-width="0.3"/><path d="M98 28.1L94.5 34.4L101.5 34.4Z" fill="#ff0000" stroke="#888" stroke-width="0.3"/><path d="M100.5 27.6L97 33.9L104 33.9Z" fill="#ffd700" stroke="#888" stroke-width="0.3"/><path d="M107 25.6L103.5 31.9L110.5 31.9Z" fill="#ff0000" stroke="#888" stroke-width="0.3"/><path d="M113.5 23.6L110 29.9L117 29.9Z" fill="#ff0000" stroke="#888" stroke-width="0.3"/><path d="M113.5 26.6L110 32.9L117 32.9Z" fill="#ff0000" stroke="#888" stroke-width="0.3"/><path d="M122.5 21.6L119 27.9L126 27.9Z" fill="#ffd700" stroke="#888" stroke-width="0.3"/><path d="M119 35.9L115.5 29.6L122.5 29.6Z" fill="#0000ff" stroke="#888" stroke-width="0.3"/><path d="M119.5 32.1L116 38.4L123 38.4Z" fill="#ffd700" stroke="#888" stroke-width="0.3"/><path d="M115.5 35.1L112 41.4L119 41.4Z" fill="#ffd700" stroke="#888" stroke-width="0.3"/><path d="M128 44.9L124.5 38.6L131.5 38.6Z" fill="#0000ff" stroke="#888" stroke-width="0.3"/><path d="M129 27.9L125.5 21.6L132.5 21.6Z" fill="#0000ff" stroke="#888" stroke-width="0.3"/><path d="M89.5 33.1L86 39.4L93 39.4Z" fill="#ff0000" stroke="#888" stroke-width="0.3"/><path d="M94 31.1L90.5 37.4L97.5 37.4Z" fill="#ff0000" stroke="#888" stroke-width="0.3"/><path d="M96.5 37.6L93 43.9L100 43.9Z" fill="#ff0000" stroke="#888" stroke-width="0.3"/><path d="M81 37.6L77.5 43.9L84.5 43.9Z" fill="#ff0000" stroke="#888" stroke-width="0.3"/><path d="M88 37.6L84.5 43.9L91.5 43.9Z" fill="#ff0000" stroke="#888" stroke-width="0.3"/><path d="M103 40.6L99.5 46.9L106.5 46.9Z" fill="#ff0000" stroke="#888" stroke-width="0.3"/><path d="M110 42.6L106.5 48.9L113.5 48.9Z" fill="#ff0000" stroke="#888" stroke-width="0.3"/><path d="M118 41.6L114.5 47.9L121.5 47.9Z" fill="#ff0000" stroke="#888" stroke-width="0.3"/><path d="M125 42.6L121.5 48.9L128.5 48.9Z" fill="#ffd700" stroke="#888" stroke-width="0.3"/><path d="M114.5 46.6L111 52.9L118 52.9Z" fill="#ff0000" stroke="#888" stroke-width="0.3"/><path d="M112 49.1L108.5 55.4L115.5 55.4Z" fill="#ff0000" stroke="#888" stroke-width="0.3"/><path d="M86 44.1L82.5 50.4L89.5 50.4Z" fill="#ff0000" stroke="#888" stroke-width="0.3"/><path d="M91 43.1L87.5 49.4L94.5 49.4Z" fill="#ff0000" stroke="#888" stroke-width="0.3"/><path d="M95 51.4L91.5 45.1L98.5 45.1Z" fill="#0000ff" stroke="#888" stroke-width="0.3"/><path d="M90 48.1L86.5 54.4L93.5 54.4Z" fill="#ff0000" stroke="#888" stroke-width="0.3"/><path d="M96 48.1L92.5 54.4L99.5 54.4Z" fill="#ff0000" stroke="#888" stroke-width="0.3"/><path d="M101 48.1L97.5 54.4L104.5 54.4Z" fill="#ff0000" stroke="#888" stroke-width="0.3"/><path d="M85 51.1L81.5 57.4L88.5 57.4Z" fill="#ff0000" stroke="#888" stroke-width="0.3"/><path d="M93 51.1L89.5 57.4L96.5 57.4Z" fill="#ff0000" stroke="#888" stroke-width="0.3"/><path d="M101 53.6L97.5 59.9L104.5 59.9Z" fill="#ff0000" stroke="#888" stroke-width="0.3"/><path d="M106 53.1L102.5 59.4L109.5 59.4Z" fill="#ff0000" stroke="#888" stroke-width="0.3"/><path d="M118 53.6L114.5 59.9L121.5 59.9Z" fill="#ffd700" stroke="#888" stroke-width="0.3"/><path d="M126.5 52.1L123 58.4L130 58.4Z" fill="#ffd700" stroke="#888" stroke-width="0.3"/><path d="M82 54.6L78.5 60.9L85.5 60.9Z" fill="#ffd700" stroke="#888" stroke-width="0.3"/><path d="M92 40.1L88.5 46.4L95.5 46.4Z" fill="#ff0000" stroke="#888" stroke-width="0.3"/><path d="M98 44.1L94.5 50.4L101.5 50.4Z" fill="#ff0000" stroke="#888" stroke-width="0.3"/><path d="M94 46.1L90.5 52.4L97.5 52.4Z" fill="#ff0000" stroke="#888" stroke-width="0.3"/><path d="M88 53.1L84.5 59.4L91.5 59.4Z" fill="#ff0000" stroke="#888" stroke-width="0.3"/><path d="M63 60.4L59.5 54.1L66.5 54.1Z" fill="#0000ff" stroke="#888" stroke-width="0.3"/><path d="M67 55.1L63.5 61.4L70.5 61.4Z" fill="#ff0000" stroke="#888" stroke-width="0.3"/><path d="M71 55.6L67.5 61.9L74.5 61.9Z" fill="#ff0000" stroke="#888" stroke-width="0.3"/><path d="M64.5 59.1L61 65.4L68 65.4Z" fill="#ff0000" stroke="#888" stroke-width="0.3"/><path d="M68 58.1L64.5 64.4L71.5 64.4Z" fill="#ff0000" stroke="#888" stroke-width="0.3"/><path d="M76 52.1L72.5 58.4L79.5 58.4Z" fill="#ff0000" stroke="#888" stroke-width="0.3"/><path d="M77 59.1L73.5 65.4L80.5 65.4Z" fill="#ff0000" stroke="#888" stroke-width="0.3"/><path d="M80.5 59.1L77 65.4L84 65.4Z" fill="#ff0000" stroke="#888" stroke-width="0.3"/><path d="M70 64.1L66.5 70.4L73.5 70.4Z" fill="#ff0000" stroke="#888" stroke-width="0.3"/><path d="M76.5 69.1L73 75.4L80 75.4Z" fill="#ff0000" stroke="#888" stroke-width="0.3"/><path d="M82 67.6L78.5 73.9L85.5 73.9Z" fill="#ff0000" stroke="#888" stroke-width="0.3"/><path d="M85.5 71.1L82 77.4L89 77.4Z" fill="#ff0000" stroke="#888" stroke-width="0.3"/><path d="M91.5 62.1L88 68.4L95 68.4Z" fill="#ff0000" stroke="#888" stroke-width="0.3"/><path d="M85 58.1L81.5 64.4L88.5 64.4Z" fill="#ff0000" stroke="#888" stroke-width="0.3"/><path d="M89 57.1L85.5 63.4L92.5 63.4Z" fill="#ff0000" stroke="#888" stroke-width="0.3"/><path d="M95 55.1L91.5 61.4L98.5 61.4Z" fill="#ff0000" stroke="#888" stroke-width="0.3"/><path d="M101 56.1L97.5 62.4L104.5 62.4Z" fill="#ff0000" stroke="#888" stroke-width="0.3"/><path d="M95 72.1L91.5 78.4L98.5 78.4Z" fill="#ff0000" stroke="#888" stroke-width="0.3"/><path d="M98.5 73.6L95 79.9L102 79.9Z" fill="#ff0000" stroke="#888" stroke-width="0.3"/><path d="M85 53.1L81.5 59.4L88.5 59.4Z" fill="#ff0000" stroke="#888" stroke-width="0.3"/><path d="M79 64.6L75.5 70.9L82.5 70.9Z" fill="#ffd700" stroke="#888" stroke-width="0.3"/><path d="M73 62.1L69.5 68.4L76.5 68.4Z" fill="#ff0000" stroke="#888" stroke-width="0.3"/><path d="M81 62.1L77.5 68.4L84.5 68.4Z" fill="#ff0000" stroke="#888" stroke-width="0.3"/><path d="M105.5 53.6L102 59.9L109 59.9Z" fill="#ff0000" stroke="#888" stroke-width="0.3"/><path d="M103 57.6L99.5 63.9L106.5 63.9Z" fill="#ff0000" stroke="#888" stroke-width="0.3"/><path d="M110 60.6L106.5 66.9L113.5 66.9Z" fill="#ff0000" stroke="#888" stroke-width="0.3"/><path d="M108.5 66.1L105 72.4L112 72.4Z" fill="#ff0000" stroke="#888" stroke-width="0.3"/><path d="M108.5 71.6L105 77.9L112 77.9Z" fill="#ff0000" stroke="#888" stroke-width="0.3"/><path d="M101 75.1L97.5 81.4L104.5 81.4Z" fill="#ff0000" stroke="#888" stroke-width="0.3"/><path d="M118 67.6L114.5 73.9L121.5 73.9Z" fill="#ff0000" stroke="#888" stroke-width="0.3"/><path d="M121.5 67.6L118 73.9L125 73.9Z" fill="#ff0000" stroke="#888" stroke-width="0.3"/><path d="M120.5 74.6L117 80.9L124 80.9Z" fill="#ff0000" stroke="#888" stroke-width="0.3"/><path d="M119.5 81.6L116 87.9L123 87.9Z" fill="#ff0000" stroke="#888" stroke-width="0.3"/><path d="M130 68.1L126.5 74.4L133.5 74.4Z" fill="#ff0000" stroke="#888" stroke-width="0.3"/><path d="M128.5 73.6L125 79.9L132 79.9Z" fill="#ff0000" stroke="#888" stroke-width="0.3"/><path d="M133.5 78.1L130 84.4L137 84.4Z" fill="#ff0000" stroke="#888" stroke-width="0.3"/><path d="M139 64.1L135.5 70.4L142.5 70.4Z" fill="#ff0000" stroke="#888" stroke-width="0.3"/><path d="M113.5 51.1L110 57.4L117 57.4Z" fill="#ff0000" stroke="#888" stroke-width="0.3"/><path d="M117.5 55.6L114 61.9L121 61.9Z" fill="#ffd700" stroke="#888" stroke-width="0.3"/><path d="M124.5 59.6L121 65.9L128 65.9Z" fill="#ffd700" stroke="#888" stroke-width="0.3"/><path d="M126.5 52.6L123 58.9L130 58.9Z" fill="#ffd700" stroke="#888" stroke-width="0.3"/><path d="M128 81.6L124.5 87.9L131.5 87.9Z" fill="#ffd700" stroke="#888" stroke-width="0.3"/><path d="M135 88.1L131.5 94.4L138.5 94.4Z" fill="#ffd700" stroke="#888" stroke-width="0.3"/><path d="M138 81.1L134.5 87.4L141.5 87.4Z" fill="#ffd700" stroke="#888" stroke-width="0.3"/><path d="M135 80.4L131.5 74.1L138.5 74.1Z" fill="#ffd700" stroke="#888" stroke-width="0.3"/><path d="M142 80.4L138.5 74.1L145.5 74.1Z" fill="#ffd700" stroke="#888" stroke-width="0.3"/><path d="M147 63.4L143.5 57.1L150.5 57.1Z" fill="#ffd700" stroke="#888" stroke-width="0.3"/><path d="M137 83.4L133.5 77.1L140.5 77.1Z" fill="#ffd700" stroke="#888" stroke-width="0.3"/><path d="M132 61.9L128.5 55.6L135.5 55.6Z" fill="#0000ff" stroke="#888" stroke-width="0.3"/><path d="M136 65.9L132.5 59.6L139.5 59.6Z" fill="#0000ff" stroke="#888" stroke-width="0.3"/><path d="M140 64.9L136.5 58.6L143.5 58.6Z" fill="#0000ff" stroke="#888" stroke-width="0.3"/><path d="M133 68.9L129.5 62.6L136.5 62.6Z" fill="#0000ff" stroke="#888" stroke-width="0.3"/><path d="M142 68.9L138.5 62.6L145.5 62.6Z" fill="#0000ff" stroke="#888" stroke-width="0.3"/><path d="M123 71.9L119.5 65.6L126.5 65.6Z" fill="#0000ff" stroke="#888" stroke-width="0.3"/><path d="M146.5 85.4L143 79.1L150 79.1Z" fill="#0000ff" stroke="#888" stroke-width="0.3"/><path d="M128 84.4L124.5 78.1L131.5 78.1Z" fill="#0000ff" stroke="#888" stroke-width="0.3"/><path d="M106 62.1L102.5 68.4L109.5 68.4Z" fill="#ff0000" stroke="#888" stroke-width="0.3"/><path d="M113 58.1L109.5 64.4L116.5 64.4Z" fill="#ff0000" stroke="#888" stroke-width="0.3"/><path d="M112 71.1L108.5 77.4L115.5 77.4Z" fill="#ff0000" stroke="#888" stroke-width="0.3"/><path d="M124 70.1L120.5 76.4L127.5 76.4Z" fill="#ff0000" stroke="#888" stroke-width="0.3"/><path d="M130.5 27.4L127 21.1L134 21.1Z" fill="#0000ff" stroke="#888" stroke-width="0.3"/><path d="M141 29.4L137.5 23.1L144.5 23.1Z" fill="#0000ff" stroke="#888" stroke-width="0.3"/><path d="M131.5 33.9L128 27.6L135 27.6Z" fill="#0000ff" stroke="#888" stroke-width="0.3"/><path d="M132 37.9L128.5 31.6L135.5 31.6Z" fill="#0000ff" stroke="#888" stroke-width="0.3"/><path d="M147.5 36.9L144 30.6L151 30.6Z" fill="#0000ff" stroke="#888" stroke-width="0.3"/><path d="M151 35.9L147.5 29.6L154.5 29.6Z" fill="#0000ff" stroke="#888" stroke-width="0.3"/><path d="M164 37.9L160.5 31.6L167.5 31.6Z" fill="#0000ff" stroke="#888" stroke-width="0.3"/><path d="M168 36.4L164.5 30.1L171.5 30.1Z" fill="#0000ff" stroke="#888" stroke-width="0.3"/><path d="M149.5 48.9L146 42.6L153 42.6Z" fill="#0000ff" stroke="#888" stroke-width="0.3"/><path d="M159 46.4L155.5 40.1L162.5 40.1Z" fill="#0000ff" stroke="#888" stroke-width="0.3"/><path d="M163.5 49.4L160 43.1L167 43.1Z" fill="#0000ff" stroke="#888" stroke-width="0.3"/><path d="M128 37.6L124.5 43.9L131.5 43.9Z" fill="#0000ff" stroke="#888" stroke-width="0.3"/><path d="M139 37.1L135.5 43.4L142.5 43.4Z" fill="#0000ff" stroke="#888" stroke-width="0.3"/><path d="M131 49.1L127.5 55.4L134.5 55.4Z" fill="#0000ff" stroke="#888" stroke-width="0.3"/><path d="M159 42.4L155.5 36.1L162.5 36.1Z" fill="#ffd700" stroke="#888" stroke-width="0.3"/><path d="M160 53.9L156.5 47.6L163.5 47.6Z" fill="#ffd700" stroke="#888" stroke-width="0.3"/><path d="M154 58.9L150.5 52.6L157.5 52.6Z" fill="#ffd700" stroke="#888" stroke-width="0.3"/><path d="M148 62.4L144.5 56.1L151.5 56.1Z" fill="#ffd700" stroke="#888" stroke-width="0.3"/><path d="M126 43.1L122.5 49.4L129.5 49.4Z" fill="#ffd700" stroke="#888" stroke-width="0.3"/><path d="M140 46.6L136.5 52.9L143.5 52.9Z" fill="#ffd700" stroke="#888" stroke-width="0.3"/><path d="M127 51.6L123.5 57.9L130.5 57.9Z" fill="#ffd700" stroke="#888" stroke-width="0.3"/><path d="M164.5 49.1L161 55.4L168 55.4Z" fill="#ffd700" stroke="#888" stroke-width="0.3"/><path d="M134.5 20.1L131 26.4L138 26.4Z" fill="#ff0000" stroke="#888" stroke-width="0.3"/><path d="M170.5 57.9L167 51.6L174 51.6Z" fill="#0000ff" stroke="#888" stroke-width="0.3"/><path d="M148 52.9L144.5 46.6L151.5 46.6Z" fill="#0000ff" stroke="#888" stroke-width="0.3"/><path d="M152 54.9L148.5 48.6L155.5 48.6Z" fill="#0000ff" stroke="#888" stroke-width="0.3"/><path d="M142 59.9L138.5 53.6L145.5 53.6Z" fill="#0000ff" stroke="#888" stroke-width="0.3"/><path d="M136 49.9L132.5 43.6L139.5 43.6Z" fill="#0000ff" stroke="#888" stroke-width="0.3"/><path d="M145 41.9L141.5 35.6L148.5 35.6Z" fill="#0000ff" stroke="#888" stroke-width="0.3"/><path d="M155 50.9L151.5 44.6L158.5 44.6Z" fill="#0000ff" stroke="#888" stroke-width="0.3"/><path d="M137 38.9L133.5 32.6L140.5 32.6Z" fill="#0000ff" stroke="#888" stroke-width="0.3"/><path d="M176.2 40.5L172.7 34.2L179.7 34.2Z" fill="#ffd700" stroke="#888" stroke-width="0.3"/><path d="M205.4 32.7L201.9 39L208.9 39Z" fill="#ff0000" stroke="#888" stroke-width="0.3"/><path d="M212.1 41.1L208.6 34.8L215.6 34.8Z" fill="#0000ff" stroke="#888" stroke-width="0.3"/><path d="M215.8 43.7L212.3 37.4L219.3 37.4Z" fill="#0000ff" stroke="#888" stroke-width="0.3"/><path d="M201.2 47.8L197.7 41.5L204.7 41.5Z" fill="#0000ff" stroke="#888" stroke-width="0.3"/><path d="M199 47.3L195.5 41L202.5 41Z" fill="#0000ff" stroke="#888" stroke-width="0.3"/><path d="M213.7 49.9L210.2 43.6L217.2 43.6Z" fill="#0000ff" stroke="#888" stroke-width="0.3"/><path d="M217.3 48.9L213.8 42.6L220.8 42.6Z" fill="#0000ff" stroke="#888" stroke-width="0.3"/><path d="M196.5 52.5L193 46.2L200 46.2Z" fill="#0000ff" stroke="#888" stroke-width="0.3"/><path d="M203.3 54.1L199.8 47.8L206.8 47.8Z" fill="#0000ff" stroke="#888" stroke-width="0.3"/><path d="M185.6 53.5L182.1 47.2L189.1 47.2Z" fill="#0000ff" stroke="#888" stroke-width="0.3"/><path d="M192.4 57.2L188.9 50.9L195.9 50.9Z" fill="#0000ff" stroke="#888" stroke-width="0.3"/><path d="M198 57.2L194.5 50.9L201.5 50.9Z" fill="#0000ff" stroke="#888" stroke-width="0.3"/><path d="M202.2 60.3L198.7 54L205.7 54Z" fill="#0000ff" stroke="#888" stroke-width="0.3"/><path d="M195 60.9L191.5 54.6L198.5 54.6Z" fill="#0000ff" stroke="#888" stroke-width="0.3"/><path d="M172 58.2L168.5 51.9L175.5 51.9Z" fill="#0000ff" stroke="#888" stroke-width="0.3"/><path d="M176 60.3L172.5 54L179.5 54Z" fill="#0000ff" stroke="#888" stroke-width="0.3"/><path d="M170 36.4L166.5 30.1L173.5 30.1Z" fill="#0000ff" stroke="#888" stroke-width="0.3"/><path d="M209 48.9L205.5 42.6L212.5 42.6Z" fill="#ffd700" stroke="#888" stroke-width="0.3"/><path d="M179.9 48.3L176.4 54.6L183.4 54.6Z" fill="#ffd700" stroke="#888" stroke-width="0.3"/><path d="M200 44.1L196.5 50.4L203.5 50.4Z" fill="#ffd700" stroke="#888" stroke-width="0.3"/><path d="M172 54.6L168.5 60.9L175.5 60.9Z" fill="#ffd700" stroke="#888" stroke-width="0.3"/><path d="M175.2 60.5L171.7 54.2L178.7 54.2Z" fill="#0000ff" stroke="#888" stroke-width="0.3"/><path d="M190.3 64.1L186.8 57.8L193.8 57.8Z" fill="#0000ff" stroke="#888" stroke-width="0.3"/><path d="M192.4 66.7L188.9 60.4L195.9 60.4Z" fill="#0000ff" stroke="#888" stroke-width="0.3"/><path d="M195 61L191.5 54.7L198.5 54.7Z" fill="#0000ff" stroke="#888" stroke-width="0.3"/><path d="M200.2 64.1L196.7 57.8L203.7 57.8Z" fill="#0000ff" stroke="#888" stroke-width="0.3"/><path d="M203.3 62.5L199.8 56.2L206.8 56.2Z" fill="#0000ff" stroke="#888" stroke-width="0.3"/><path d="M174.7 66.2L171.2 59.9L178.2 59.9Z" fill="#0000ff" stroke="#888" stroke-width="0.3"/><path d="M179.4 74L175.9 67.7L182.9 67.7Z" fill="#0000ff" stroke="#888" stroke-width="0.3"/><path d="M191.8 69.8L188.3 63.5L195.3 63.5Z" fill="#0000ff" stroke="#888" stroke-width="0.3"/><path d="M173.1 82.3L169.6 76L176.6 76Z" fill="#0000ff" stroke="#888" stroke-width="0.3"/><path d="M188.2 89.1L184.7 82.8L191.7 82.8Z" fill="#0000ff" stroke="#888" stroke-width="0.3"/><path d="M172 63.1L168.5 56.8L175.5 56.8Z" fill="#ffd700" stroke="#888" stroke-width="0.3"/><path d="M181.4 68.3L177.9 62L184.9 62Z" fill="#ffd700" stroke="#888" stroke-width="0.3"/><path d="M172 69.8L168.5 63.5L175.5 63.5Z" fill="#ffd700" stroke="#888" stroke-width="0.3"/><path d="M185.6 75L182.1 68.7L189.1 68.7Z" fill="#ffd700" stroke="#888" stroke-width="0.3"/><path d="M192.4 76.1L188.9 69.8L195.9 69.8Z" fill="#ffd700" stroke="#888" stroke-width="0.3"/><path d="M176.2 80.7L172.7 74.4L179.7 74.4Z" fill="#ffd700" stroke="#888" stroke-width="0.3"/><path d="M180.4 82.8L176.9 76.5L183.9 76.5Z" fill="#ffd700" stroke="#888" stroke-width="0.3"/><path d="M185.6 76.1L182.1 82.4L189.1 82.4Z" fill="#ffd700" stroke="#888" stroke-width="0.3"/><path d="M185.6 92.2L182.1 85.9L189.1 85.9Z" fill="#ffd700" stroke="#888" stroke-width="0.3"/><path d="M186.1 94.9L182.6 88.6L189.6 88.6Z" fill="#ffd700" stroke="#888" stroke-width="0.3"/><path d="M186.6 98.4L183.1 92.1L190.1 92.1Z" fill="#ffd700" stroke="#888" stroke-width="0.3"/><path d="M188.2 99.5L184.7 93.2L191.7 93.2Z" fill="#ffd700" stroke="#888" stroke-width="0.3"/><path d="M174.2 66.7L170.7 73L177.7 73Z" fill="#ffd700" stroke="#888" stroke-width="0.3"/><path d="M196 61L192.5 67.3L199.5 67.3Z" fill="#ffd700" stroke="#888" stroke-width="0.3"/><path d="M148 62.9L144.5 56.6L151.5 56.6Z" fill="#ffd700" stroke="#888" stroke-width="0.3"/><path d="M152.5 63.4L149 57.1L156 57.1Z" fill="#ffd700" stroke="#888" stroke-width="0.3"/><path d="M160 64.9L156.5 58.6L163.5 58.6Z" fill="#ffd700" stroke="#888" stroke-width="0.3"/><path d="M172 63.9L168.5 57.6L175.5 57.6Z" fill="#ffd700" stroke="#888" stroke-width="0.3"/><path d="M152 75.9L148.5 69.6L155.5 69.6Z" fill="#ffd700" stroke="#888" stroke-width="0.3"/><path d="M157 77.4L153.5 71.1L160.5 71.1Z" fill="#ffd700" stroke="#888" stroke-width="0.3"/><path d="M163 77.9L159.5 71.6L166.5 71.6Z" fill="#ffd700" stroke="#888" stroke-width="0.3"/><path d="M170 77.9L166.5 71.6L173.5 71.6Z" fill="#ffd700" stroke="#888" stroke-width="0.3"/><path d="M176 80.9L172.5 74.6L179.5 74.6Z" fill="#ffd700" stroke="#888" stroke-width="0.3"/><path d="M141 79.9L137.5 73.6L144.5 73.6Z" fill="#ffd700" stroke="#888" stroke-width="0.3"/><path d="M133 97.9L129.5 91.6L136.5 91.6Z" fill="#ffd700" stroke="#888" stroke-width="0.3"/><path d="M150 62.1L146.5 68.4L153.5 68.4Z" fill="#ffd700" stroke="#888" stroke-width="0.3"/><path d="M171.5 62.1L168 68.4L175 68.4Z" fill="#ffd700" stroke="#888" stroke-width="0.3"/><path d="M136 79.1L132.5 85.4L139.5 85.4Z" fill="#ffd700" stroke="#888" stroke-width="0.3"/><path d="M133 65.9L129.5 59.6L136.5 59.6Z" fill="#0000ff" stroke="#888" stroke-width="0.3"/><path d="M140 64.9L136.5 58.6L143.5 58.6Z" fill="#0000ff" stroke="#888" stroke-width="0.3"/><path d="M156 70.9L152.5 64.6L159.5 64.6Z" fill="#0000ff" stroke="#888" stroke-width="0.3"/><path d="M162 69.9L158.5 63.6L165.5 63.6Z" fill="#0000ff" stroke="#888" stroke-width="0.3"/><path d="M167 70.9L163.5 64.6L170.5 64.6Z" fill="#0000ff" stroke="#888" stroke-width="0.3"/><path d="M176 66.9L172.5 60.6L179.5 60.6Z" fill="#0000ff" stroke="#888" stroke-width="0.3"/><path d="M155 82.9L151.5 76.6L158.5 76.6Z" fill="#0000ff" stroke="#888" stroke-width="0.3"/><path d="M165 82.9L161.5 76.6L168.5 76.6Z" fill="#0000ff" stroke="#888" stroke-width="0.3"/><path d="M173 81.9L169.5 75.6L176.5 75.6Z" fill="#0000ff" stroke="#888" stroke-width="0.3"/><path d="M147 79.1L143.5 85.4L150.5 85.4Z" fill="#0000ff" stroke="#888" stroke-width="0.3"/><path d="M139 64.1L135.5 70.4L142.5 70.4Z" fill="#ff0000" stroke="#888" stroke-width="0.3"/><path d="M164.5 66.1L161 72.4L168 72.4Z" fill="#ff0000" stroke="#888" stroke-width="0.3"/><path d="M133 78.1L129.5 84.4L136.5 84.4Z" fill="#ff0000" stroke="#888" stroke-width="0.3"/><path d="M166.5 79.1L163 85.4L170 85.4Z" fill="#ff0000" stroke="#888" stroke-width="0.3"/><path d="M131 69.1L127.5 75.4L134.5 75.4Z" fill="#ff0000" stroke="#888" stroke-width="0.3"/><path d="M145 73.9L141.5 67.6L148.5 67.6Z" fill="#ffd700" stroke="#888" stroke-width="0.3"/><path d="M158 62.1L154.5 68.4L161.5 68.4Z" fill="#ffd700" stroke="#888" stroke-width="0.3"/><path d="M135 84.1L131.5 90.4L138.5 90.4Z" fill="#ffd700" stroke="#888" stroke-width="0.3"/><path d="M131 55.9L127.5 49.6L134.5 49.6Z" fill="#0000ff" stroke="#888" stroke-width="0.3"/><path d="M135 58.9L131.5 52.6L138.5 52.6Z" fill="#0000ff" stroke="#888" stroke-width="0.3"/><path d="M138.5 56.9L135 50.6L142 50.6Z" fill="#0000ff" stroke="#888" stroke-width="0.3"/><path d="M134 62.9L130.5 56.6L137.5 56.6Z" fill="#0000ff" stroke="#888" stroke-width="0.3"/><path d="M139 61.4L135.5 55.1L142.5 55.1Z" fill="#0000ff" stroke="#888" stroke-width="0.3"/><path d="M143 57.9L139.5 51.6L146.5 51.6Z" fill="#0000ff" stroke="#888" stroke-width="0.3"/><path d="M130.5 66.9L127 60.6L134 60.6Z" fill="#0000ff" stroke="#888" stroke-width="0.3"/><path d="M136 61.1L132.5 67.4L139.5 67.4Z" fill="#0000ff" stroke="#888" stroke-width="0.3"/><path d="M142 64.9L138.5 58.6L145.5 58.6Z" fill="#0000ff" stroke="#888" stroke-width="0.3"/><path d="M146 59.9L142.5 53.6L149.5 53.6Z" fill="#0000ff" stroke="#888" stroke-width="0.3"/><path d="M150 79.9L146.5 73.6L153.5 73.6Z" fill="#ffd700" stroke="#888" stroke-width="0.3"/><path d="M160 71.9L156.5 65.6L163.5 65.6Z" fill="#ffd700" stroke="#888" stroke-width="0.3"/><path d="M168 74.9L164.5 68.6L171.5 68.6Z" fill="#ffd700" stroke="#888" stroke-width="0.3"/><path d="M154 58.1L150.5 64.4L157.5 64.4Z" fill="#ffd700" stroke="#888" stroke-width="0.3"/></g><rect x="37.6" y="21.0" width="183" height="76.2" fill="none" stroke="#707a8c" stroke-width="0.8"/><g clip-path="url(#ce)"><rect x="200" y="0" width="220" height="120" fill="#97b6e1"/><path d="M-72.4 18.5 -82.1 17.3 -94.4 16.5 -101.7 15.3 -110.2 14.4 -118.8 16.1 -126.1 18 -133.5 20.2 -128.6 23.3 -123.7 25 -128.6 26 -133.5 26.7 -138.4 28.1 -131 30.8 -121.2 30.8 -121.2 33.2 -128.6 34.2 -133.5 38 -131 40.4 -123.7 41.6 -123.7 44.8 -113.9 45 -111.5 47.7 -118.8 51.3 -128.6 54.2 -123.7 53.5 -113.9 50.1 -106.6 47.2 -104.1 44.1 -99.2 40.4 -94.4 38.7 -96.8 43.6 -89.5 40.9 -84.6 40.2 -79.7 41.6 -72.4 42.1 -67.5 43.8 -62.6 45.5 -57.7 47.7 -52.8 52.5 -47.9 54.9 -45.5 58.5 -40.6 62.2 -38.1 63.9 -33.2 65.8 -29.6 68 -27.9 68.4 -27.1 70.4 -28.4 72.5 -30.3 70.1 -32.5 69.6 -31.1 74.2 -30.8 79.1 -32 83.2 -31.3 89 -30.1 92.6 -27.1 95.2 -25.7 98.1 -22.5 103 -17.4 104.4 -14.2 107.6 -12.5 110.5 -10.5 114.1 -6.4 118.9 -1.7 124.9 3.4 131 4.6 130.5 2.7 128.1 -0.3 123.7 -3.4 118.9 -8.1 110 -3.9 110.9 1 116.5 4.6 122 8.3 124.9 13.2 130.5 14.7 134.6 14.2 137.2 16.9 140.1 20.5 142.6 25.4 144.2 30.3 146.4 36.4 148.6 40.6 147.4 45 148.8 48.6 152.5 54.7 154.1 58.4 155.1 62.1 158.7 62.8 161.2 62.3 162.8 65 163.6 69.4 166.7 76.3 168.9 78 165 81.6 164.3 83.3 166 82.9 165.7 78 163.6 73.1 164.8 68.2 160.4 67.7 156.3 68.7 150.3 64.5 147.9 57.9 148.4 56 148.1 56.5 144.2 58.4 139.4 59.6 134.6 56 134.6 51.6 135.8 51.1 139.4 48.6 141.8 42.5 142.6 38.9 141.1 36.4 138.7 34.5 134.6 33.2 131.5 33.7 126.1 34.7 119.6 40.1 115.8 43.7 114.8 49.9 116 54 116 54.7 113.6 59.6 113.1 64.5 114.8 67 114.1 69.9 117.7 70.4 120.6 72.3 123.7 74.3 125.7 75.8 125.7 76.7 122.5 75.3 117.7 73.6 114.6 73.3 111.7 74.5 109 78.7 106.3 81.6 104.7 85.3 102.7 87.7 101.3 86.8 97.4 85.8 95 85.5 91.6 87.7 91.1 88.2 94 88.7 92.8 89.2 91.6 91.4 89.9 91.9 88.5 96.3 87 99.7 86.1 101.2 85.3 99.5 83.4 100.7 81 104.9 79.5 108.5 78.3 111 77.4 113.9 77.1 110.7 80.5 115.9 79.1 123.2 77.1 122 75.9 115.9 74.7 113.9 71.8 112.2 70.6 115.4 68.7 109.7 67.7 104.9 68.7 100 72.5 102.4 69.9 108.5 67 114.6 65.3 123.2 65.3 132.5 62.4 135.4 59.8 134.2 57.1 128.1 54.9 124.4 52 121.2 50.1 119.5 46.5 115.1 41.2 113.4 44.1 108.5 45.5 104.9 44.5 101.2 39.2 96.3 37.3 90.2 36.1 82.9 35.6 81.6 40.4 82.9 45.3 84.6 50.1 82.9 52.5 78 54.9 78.9 61 75.5 62.6 71.1 58.5 71.4 53.7 64.5 53 57.2 50.1 51.1 48.2 46.2 48.2 42 44.8 40.8 41.6 42.5 38 45.7 35.6 50.3 33 57.2 31.3 59.6 28.4 64.5 26 67 26.4 70.6 25.2 73.1 21.1 70.6 18.5 64.5 18 58.4 23.5 53.5 20.4 49.9 18.7 43.7 18.7 41.3 12.9 37.6 13.9 36.4 17.5 32.7 18.7 25.4 22.8 18.1 22.3 8.3 21.1 5.9 22.8 -3.9 22.8 -8.8 20.2 -16.1 19.4 -23.5 18 -33.2 18.7 -40.6 17 -45.5 18.2 -54 18.9 -60.1 20.2 -67.5 18.7ZM112.2 36.8 106.1 35.6 97.5 32.5 91.4 30.5 82.9 30.8 81.6 28.4 91.4 26 93.9 21.8 82.9 18.7 74.3 18.7 63.3 16.3 57.2 15.1 53.5 10.3 64.5 8.8 76.7 9 84.1 11 96.3 13.9 104.9 16.3 108.5 19.2 114.6 22.8 120.7 25.2 117.1 28.4 113.4 30.8 114.6 34.4ZM-27.1 2.5 -18.6 3.5 -11.3 1.8 -13.7 -0.1 -23.5 -0.6 -28.4 1.1ZM25.4 4 32.7 4.2 34 2.3 29.1 1.1 24.2 2ZM36.4 5.9 43.7 6.2 45 4.7 38.9 4.2ZM37.6 -5.4 42.5 -3 51.1 -3 54.7 -5.4 51.1 -7.8 42.5 -9.1ZM27.9 19.4 34 21.1 37.6 19.9 35.2 18 30.3 17.7ZM74.3 9.8 81.6 11 86.5 9.5 81.6 8.3 75.5 8.6ZM24.2 19.9 15.6 20.2 3.4 19.9 -6.4 18.5 -17.4 15.1 -16.1 11.5 -6.4 9.8 3.4 11.5 13.2 10.3 16.9 15.1 25.4 17ZM-34.5 12.9 -28.4 14.8 -21 14.1 -14.9 12.2 -10 9.5 -12.5 7.4 -19.8 7.1 -30.8 6.9 -35.2 9ZM52.3 1.1 62.1 2.3 76.7 2.5 81.6 1.1 89 -1.8 96.3 -3.3 101.2 -5.4 113.4 -7.8 120.7 -11.5 89 -13.9 52.3 -10.3 57.2 -6.6 54.7 -3 57.2 -0.6ZM46.2 4.2 52.3 6.6 64.5 6.6 75.5 6.4 76.7 4.2 69.4 2 57.2 2 49.9 1.6ZM38.9 11.5 43.7 12.7 51.1 11.5 52.3 8.3 45 7.6 38.9 8.3ZM23 11.2 26.6 13.2 34 13.6 36.4 11.5 34 8.3 25.4 8.1 21.7 9.5ZM-14.4 4.9 -8.8 6.6 3.4 6.4 13.2 5.4 14.4 3.3 10.7 1.8 3.4 1.1 -6.4 1.8 -14.9 2.3ZM76.7 33.2 64.5 34.4 59.6 30.8 64.5 28.4 74.3 30.8ZM93.9 -1.8 106.1 3 125.6 4.2 135.4 7.8 137.9 12.7 140.3 17.5 147.6 19.9 142.7 27.2 150.1 34.4 164.7 41.6 169.6 39.2 174.5 32 181.8 28.4 194.1 22.3 211.2 18.7 218.5 13.9 218.5 7.8 225.8 4.2 228.3 -0.6 223.4 -6.6 199 -11.5 125.6 -11.5 101.2 -4.2ZM-41.3 63.9 -33.2 65.8 -29.1 69.6 -32.8 69.2 -39.4 65.5ZM64.5 133.6 69.4 131.2 75.5 130.7 82.9 133.9 87.5 135.8 90.9 137.7 82.9 138.5 81.6 136.5 74.3 134.1 70.6 134.4 65.7 133.9ZM90.2 142.1 94.6 138.5 101.2 138.9 105.1 141.6 97.8 144 90.4 142.8ZM80.9 142.1 85.8 142.6 84.6 143.3 81.1 142.6ZM108 141.8 111.9 142.1 111.9 143 108 143ZM127.3 71.6 136.6 61.9 136.1 67 142.7 69.4 143.5 71.8 141.5 74 135.9 73 129.8 71.3ZM83.3 166 84.6 166.7 87.7 161.2 90.9 159.5 95.8 157.8 98 158 98.3 156.3 101.2 157 105.6 161.2 111 160.9 115.9 160.7 120.7 160.7 123.2 162.1 123.2 165.7 126.9 166.5 130.5 170.1 133 172 137.9 172.3 141.5 173 145.2 175.4 147.6 176.4 150.1 182.2 148.8 186 153.7 188.9 159.8 188.9 163.5 192.3 169.6 193.3 174.5 193.5 178.2 195.4 181.8 198.3 186.2 199.3 187.2 204.6 186.5 208.2 183.1 211.8 180.6 215.5 177.2 219.1 176.7 228.8 175 234.3 172.3 239.4 169.6 242 163.5 242.5 157.4 245.7 153.7 249.3 153.5 255.1 150.1 260.1 146.4 264.2 141.8 268.1 138.1 270.8 134.7 270.5 131.3 269.6 129.3 269.8 133 274.1 131.7 278.7 128.1 279.9 120.7 280.4 120 284.3 113.4 285.5 114.6 289.1 116.6 289.8 113.4 293.9 107.3 297.6 111 301.2 106.1 307.2 103.6 310.8 104.9 313.2 101.2 314 104.4 315.7 112.9 318.8 106.1 320.5 98.7 319.3 91.4 314.5 87.7 307.2 87.7 300 91.4 297.6 92.6 290.3 92.1 283.1 92.9 276.3 95.1 272.2 97.3 266.2 97.8 258.9 98 251.7 100 244.4 100.7 237.2 100.5 231.2 97.5 228.3 89 223.9 85.8 219.6 82.4 213.1 79.2 205.8 74.3 201 73.8 196.9 76.7 192.5 74.5 189.4 76.7 185.1 79.4 182.6 82.9 177.3 83.3 170.8 81.9 169.1ZM122.5 310.1 128.1 310.4 131.3 311.3 128.1 312.8 123.2 312ZM257.9 100.1 267.4 101.8 276 98.4 284.5 97.7 295.5 96.4 299.2 97.2 297.5 98.6 298.7 100.8 296.7 103.7 299.7 106.3 304.1 107.1 310.2 110.2 318.7 113.3 321.4 111.7 321.2 108.5 326.1 107.1 333.4 109.7 343.2 112.1 350.5 111.2 355.9 110.9 357.6 115.3 354.2 118.9 351.7 114.3 354.2 118.9 359.1 128.6 363.2 135.8 363.5 141.8 366.4 143 368.3 148.4 373 152 378.1 156.3 377.9 158.7 381.1 161.4 387.2 159.7 397.4 158 397.2 161.2 395.7 164.8 392.1 172 389.1 176.4 384.7 181.7 378.6 187.7 373.7 190.8 370.5 193.3 368.1 197.6 367.1 202.2 368.8 205.8 370.8 211.4 371.5 220.3 371.3 223.9 362.7 228.8 358.3 239.6 359.1 244.4 352.5 248.8 351.7 255.3 346.8 261.3 340.7 266.2 334.9 268.6 327.3 268.6 321.2 270.5 317.3 268.6 316.8 263.8 314.6 257.7 309.4 251 307.5 240.8 305 236.7 301.1 228.3 302.6 220.3 305.8 214.3 304.6 207 302.4 201 301.6 198.6 298 193.7 294.8 188.9 295.8 184.1 296.2 179.3 293.8 176.1 287 176.1 283.3 171.3 277.2 171.3 269.8 174.2 265 174.2 260.1 174.2 254 175.9 249.1 173.2 244.2 169.6 240 165.7 238.8 163.1 236.1 160.4 234.4 158 231.2 155.1 229.5 151 232 147.4 232.7 140.6 232 136.5 230.7 135.8 233.7 129.3 236.8 123.7 240.5 119.6 247.8 116 248.3 110.5 251.5 106.1 255.7 104.4ZM392.8 215.5 395.7 223.9 393.8 228.8 390.8 237.2 387.7 246.4 382.8 248.1 379.8 244.4 378.1 239.6 380.8 233.6 379.8 227.5 385.5 224.4 389.6 219.3ZM250.3 82.7 252.7 81 261.3 81.7 267.9 81.7 269.4 79.1 269.4 75.4 266.9 72.5 261.3 70.9 260.8 69.2 265 68.7 268.4 68.9 268.9 66.5 272.8 67 276 65.3 276.4 63.4 280.1 62.6 282.6 61 283.8 58.5 287 57.3 293.1 57.1 293.6 53.7 292.1 49.9 298.2 47.2 297.5 50.8 298.9 51.3 296.2 53.7 299.2 55.9 302.8 55.2 307 56.4 312.6 54.7 318.2 54.9 320.9 54 324.1 53.2 323.6 50.1 324.8 47.7 327.5 47.2 331.9 48.2 331.7 45.5 329.7 43.6 335.3 42.6 340.7 42.8 344.4 41.6 341.9 40.4 335.8 40.7 328.5 41.9 324.6 40 324.8 37.3 324.3 34.4 327.3 32 332.2 29.8 334.4 29.1 332.2 27.6 326.5 27.6 324.8 30.8 322.4 32.5 317.5 34.9 314.6 38 314.3 40 318.2 42.1 316.3 44.1 312.6 47.7 312.1 49.9 307.7 51.3 304.1 52.7 303.8 50.1 301.1 47 299.4 44.1 298 43.3 295.5 44.3 289.4 46.5 286 44.5 284.5 40.4 284.5 36.8 289.4 34.9 295.5 32.5 298 30.5 302.8 27.2 306.5 23.5 310.2 21.1 313.8 19.4 318.7 18 323.6 17 330.9 15.1 335.3 14.8 340.7 15.1 348.1 16.8 352.9 18.7 360.3 19.7 370.1 22.8 373 24.7 368.8 26.7 360.3 26 356.6 27.2 357.3 30.8 362.7 32.2 365.2 30.5 371.3 30.8 376.2 26.4 379.8 26.9 380.3 22.6 384.7 21.8 389.6 23.1 401.8 20.9 405.5 21.6 414.1 20.2 418.9 20.9 420.2 18 428.7 19.2 436.1 21.1 439.7 21.8 436.1 18.7 435.6 15.6 439.7 11.2 442.2 10.5 447.1 10.5 450.2 12.2 447.1 14.6 450.2 16.5 449.5 20.4 452.2 21.4 449 26 453.2 24.7 455.6 20.9 452.4 19.4 452.2 14.4 458.1 12.7 464.2 11.9 469.1 10.7 469.5 8.8 484.4 7.8 482.5 5.9 492.3 4 504.5 2.8 514.3 2 521.6 -0.6 527.7 -1.1 531.4 -0.1 535 1.8 543.6 1.3 549.7 3 549.7 9 560.7 9 572.9 10.3 582.7 8.8 587.6 12.2 590 15.1 597.4 14.1 604.7 13.6 613.3 11.7 616.9 11 629.2 12.2 638.9 13.6 645 15.3 653.6 14.8 660.9 15.6 664.6 18.7 675.6 18.7 687.8 17.5 712.3 19.9 712.3 36.8 675.6 41.6 668.3 46.5 654.8 47.7 653.6 63.4 652.4 53.7 651.1 46.7 643.8 44.1 634 43.3 621.8 43.3 615.7 47 609.6 50.3 602.3 54.9 608.4 56.6 615.7 59.8 617.4 65.8 614.5 70.6 609.6 74.2 603.5 80.8 597.4 83.2 592.5 83.7 589.3 87.5 585.2 91.1 588.6 97.2 588.1 101.3 582.7 103 581 102.5 581.5 97.7 580.8 95.5 577.8 94 577.1 90.9 570.5 88.7 568 87.8 570.5 92.1 569.3 92.6 563.2 91.1 560.2 92.3 562.7 96 566.8 96 571.7 96.7 566.8 99.6 563.9 102 566.8 106.8 570 109.7 570.2 112.1 569.3 114.1 570.5 116.5 567.6 120.1 564.4 124.9 560.7 127.6 557 131 550.9 132.7 544.8 134.6 541.9 137.5 540.4 134.6 536.3 134.6 533.1 136.5 530.6 140.6 532.8 144.2 537.5 149.1 539.4 156.3 538.7 159.2 533.3 161.4 528.9 165.7 528.4 162.8 525.3 161.2 522.8 157.3 518.9 153.9 516.7 154.1 514.8 161.6 517.4 166.5 519.2 170.1 522.1 171.5 525 174.9 525.3 180 527 183.1 525 183.4 519.9 179.7 517.7 176.1 517.2 172 513 166.9 513.5 162.4 513 155.1 510.8 146.7 508.2 145.9 505.5 148.4 502.8 147.9 503.3 141.1 499.6 138.2 497.9 136.5 496.7 132.4 493.5 133.4 489.8 133.9 484.9 134.6 483.7 138.2 480 139.7 473.5 146.4 468.6 149.1 468.3 155.1 467.3 159 465.4 161.6 463.4 165 461.7 166.9 459.3 165 457.6 159.9 455.4 155.6 453.7 151 451.7 147.4 450.5 140.9 449.7 135.1 450.2 133.9 449.5 132.7 444.6 136.3 440.9 132.7 443.9 131.5 439.7 129.8 436.5 127.1 434.8 125.2 429.9 125.7 422.9 125.7 415.3 124.7 412.3 124.2 411.1 121.1 405.5 122.3 399.4 119.4 395.7 115.3 392.1 113.1 389.6 114.1 389.4 116.2 390.8 118.9 394 122 396.5 126.6 398.2 127.8 401.8 128.3 406.2 127.8 409.2 124.2 410.1 123 410.1 126.9 413.6 129.3 418.5 132.2 415.8 137 413.6 140.6 410.4 143 406.7 145.5 399.9 148.6 392.1 152.2 382.3 155.6 378.6 155.8 376.9 150.3 376.2 146.7 373.7 141.8 368.1 134.6 366.4 129 362.7 124.9 358.3 118.9 356.6 115.3 357.6 115.3 355.9 110.9 357.8 107.3 359.1 104.4 360 100.8 360.8 98.4 356.6 97.7 351.7 99.3 346.8 98.9 341.9 97.7 339 96 337.1 93.5 337.8 91.1 336.3 89.7 339.5 88.7 343.2 87.5 349.3 87 354.2 85.1 357.8 85.1 365.2 87.5 370.1 87.5 373.7 86.3 374 83.9 370.1 81.7 365.2 79.3 363.9 77.1 366.4 74.2 359.1 77.1 361.5 76.9 357.8 77.9 354.2 79.3 351.7 77.1 354.2 75.4 349.3 74 346.1 75.9 344.6 77.4 342.2 79.5 340.7 82.7 340.7 85.1 343.2 87 340.7 87.5 336.3 88.5 330.9 88 329.7 89.4 327.5 89 329.2 91.9 330.9 94.8 328.5 96.4 328 98.4 325.3 97.7 324.1 94.8 321.7 91.1 319.7 89.2 319.9 85.6 317.5 83.9 311.4 81.5 308.9 79.1 307.7 77.1 305.5 77.6 305.8 76.2 302.4 76.9 302.6 79.8 305.5 81.5 308.2 84.9 311.6 85.3 317.5 89.4 314.3 89 312.6 90.7 314.1 92.3 311.6 94.8 310.4 94.3 311.1 91.1 308.5 89.4 304.6 86.8 299.7 84.1 298 82.7 295 79.5 292.8 80.3 289.4 81.2 284.5 81.7 279.9 82.4 280.1 85.3 274.7 87.5 272.3 90.4 271.6 93.3 270.3 95.7 267.2 97.9 261.3 97.9 258.6 99.6 256.9 97.7 254 96.7 250.5 97.2 250.8 93.3 249.1 92.8 250.8 88.5 250.5 85.1 249.8 82.2ZM258.4 65.8 265 64.3 275.7 62.9 276.4 59.3 272.8 57.3 271.1 54.9 268.4 52.3 266.2 50.8 267.9 47.4 264.5 45 260.1 45 257.1 47.7 258.6 50.6 258.1 53 260.3 54.2 264.5 54.2 264 56.1 265 57.6 261 57.8 262 60.2 259.3 61.4 262 61.9 265 62.6 261.3 63.1ZM257.6 60.5 257.6 56.4 258.8 54.7 257.1 53 254 53 251.5 54.9 247.8 55.6 248.3 57.8 247.1 61 249.1 62.2 252.7 61.7ZM213.6 28.4 218.5 26.2 228.3 26.7 236.8 26.4 239.3 29.3 235.6 31.3 228.3 33.4 221 32.5 216.8 32ZM292.8 87.5 296.2 87.5 295.8 91.9 292.8 92.3ZM293.3 82.9 295.3 82.7 295.5 85.1 294.5 86.5 293.3 85.6ZM302.6 94.5 310.4 94 309.2 97.9 303.1 95.7ZM329.7 100.8 336.6 101.3 335.8 102 330.9 101.5ZM351.2 102.5 356.6 100.6 355.4 102.2 352.9 103ZM299.2 52 303.1 51.3 302.4 53.7 299.7 53.2ZM296.2 52.5 298.7 52.3 298.2 53.7 296.5 53.5ZM316.8 46.7 318.7 46.7 318 48.4 316.8 48.6ZM299.2 -3 311.4 -6.6 333.4 -6.6 338.3 -4.2 323.6 -1.8 313.8 1.8 304.1 -0.6ZM399.4 13.9 409.2 9 406.7 4.2 418.9 1.8 433.6 0.6 439.7 1.1 423.8 5.4 414.1 10.3 411.6 15.1 403.1 15.8ZM504.5 -4.2 516.7 -6.2 526.5 -4.2 516.7 -2.3ZM607.2 5.4 619.4 4.2 636.5 4.9 626.7 7.8 614.5 7.8ZM619.4 75.4 623 74.2 622.3 67.7 625.5 68.2 621.8 62.2 622.3 57.3 620.6 55.4 618.9 58.5 619.9 63.4 619.4 70.6ZM592.2 104.4 596.2 100.8 603.5 100.6 605.9 96.4 610.8 95.2 614.5 90.4 614.5 87 618.2 86.8 619.4 91.1 616.9 96 616.4 100.3 614 102 611.6 103 607.2 103 604.2 105.6 602.3 103 597.4 103.7 592.5 104.4ZM589.6 105.6 592.5 104.7 594.2 109.2 592.5 111.7 590.5 110.9 589.3 107.3ZM596.2 106.3 601.5 104.9 601 103.9 597.4 104.4ZM614.5 85.1 616.9 86.5 622.6 85.1 627.9 82 625.5 80.3 618.9 76.7 618.2 81.5 615 82.2ZM565.8 131 567.3 133.4 570.2 127.4 569.3 125.4 566.1 128.6ZM537.7 140.1 542.4 138 543.6 139.2 540.2 142.6ZM567.1 141.8 571 141.8 570.5 146.7 569.3 150.3 575.4 153.9 575.4 156.3 567.1 153.2 565.6 147.9ZM570.5 169.6 575.4 166 579 163.6 581.5 168.9 579 172.7 575.4 170.8ZM570.5 159.9 574.2 161.2 578.3 158.7 576.1 156.3 572.2 157.8ZM558.8 166.2 564.6 161.4 563.9 159.2 559.5 164.8ZM538.7 182.9 540.2 181.7 543.6 182.9 548.5 179 553.4 174.4 557 170.8 560 172 563.6 173.7 560.7 176.1 560.2 184.1 563.2 184.1 559.5 187.7 557 192.5 555.8 195.9 552.2 195.2 548.5 194.2 543.6 193.7 541.6 193.3 539.9 188.2 539 185.3ZM505.2 173 510.6 173.9 517.7 181.2 524 185.3 527.7 190.1 531.4 194.2 530.9 200.5 527.7 200.7 521.6 196.2 517.9 190.1 514.3 185.3 511.8 181.2 506.9 176.8ZM529.4 202.9 532.6 201 537.5 202 542.4 202.9 547.5 203.2 552.2 205.3 552.2 207.5 542.4 206.3 532.6 204.4ZM553.4 206.8 555.8 206.5 563.2 206.8 571.7 206.1 572.7 207.3 563.2 208 555.8 208.2ZM575.4 210.9 582.7 206.8 581.5 208.2 574.2 211.4ZM564.1 199.8 566.8 200 566.6 193.3 568.5 193.3 568.5 198.1 572.4 198.1 570.5 194.5 571.7 189.6 573.7 188.7 568.5 188.9 568 185.3 575.4 185.5 578.1 182.9 576.6 184.1 567.6 183.4 565.6 185.3 565.1 187.7 562.7 193.3 564.4 195ZM583.9 182.2 586.4 182.9 585.2 185.3 586.9 188.4 584.7 187.7 583.9 184.6ZM585.2 193.7 591.3 194.2 592 195.7 586.4 195.2ZM592.5 189.6 596.2 187.5 599.8 188.7 602.3 194.5 609.1 190.1 616.9 192.8 625.5 195.7 629.2 199.8 632.8 201.2 633.6 205.8 638.9 211.4 631.6 210.6 627.9 205.8 623 208.2 616.9 208.5 611.6 206.5 609.1 199.1 602.3 197.1 597.4 196.2 594.9 193.3 598.6 191.8 594.9 191.1ZM635.3 199.8 638.9 198.6 642.6 196.6 644.3 198.1 641.4 201 636.5 201.5ZM549.7 239.6 550.9 250.5 553.4 257.7 555.1 267.4 553.4 269.3 560.5 271.2 565.6 268.6 574.2 268.3 580.3 264.5 587.6 263 593 262.5 600.3 265 604 270.8 606.9 267.9 609.1 266.2 608.4 272.4 610.8 270.5 613.5 273.9 616 278.2 623 280.2 626.7 279.2 630.1 280.9 634 277.8 638.9 277 640.9 271 642.6 266.2 646.3 261.3 647.7 255.3 646.3 248.1 641.4 243.2 637.7 240.3 635.3 235.5 629.9 232.4 627.7 225.1 627.4 222.5 623 220.3 622.6 214.3 620.6 212.3 618.4 217.6 618.2 223.9 616.4 228.8 612 227.5 607.2 224.6 603.5 222.7 606.4 216 603.5 215.5 596.2 213.8 592.5 216 588.8 222.5 583.9 220.3 579 221.5 574.2 227.1 571 230.7 568 233.8 561.9 235.5 557.5 236.2 552.4 239.1ZM625.7 284.8 634.8 285.2 634 290.3 631.4 291.8 627.2 288.6ZM467.3 167.2 468.1 162.8 472.2 168.4 471.5 171.5 468.3 172Z" fill="#efefdb" stroke="#000" stroke-width="0.5" stroke-linejoin="round"/><path d="M39.6 72.5 44.5 78.1 49.4 82.7 49.9 88.7 51.8 93.3 54.3 97.2 52.1 101.8 49.6 106.8 48.6 111.7 52.1 114.3 54 116M-0.3 75.7 5.9 71.3 18.1 70.6 25.4 72.3 26.9 79.3 34.2 83.2 37.9 86.8 41.1 92.1 46.9 93.3 51.8 92.8M76.7 89 72.6 92.6 70.4 93.3 65.7 92.1 62.6 94 58.2 95 54.3 97.2M13.2 92.3 16.6 94 27.9 95.2 34.5 96 39.1 100.1 46.7 102.7 49.9 104.7M13.2 89.9 4.6 93.5 -0.3 97.4 -5.1 99.3 -7.8 102 -8.1 107.6M-16.1 68.2 -19.3 75 -23.5 76.4 -30.8 75M1 81.5 -7.6 83.7 -13.7 80.3 -18.6 75M11.7 95.7 11.2 102 12 109.7M85.3 80 91.4 77.4 98.3 73.5 103.6 69.9M20.5 105.6 27.9 108 32.7 110.9 36.4 114.1 40.1 116.5M59.6 99.6 62.1 102.5 57.2 106.8 57.2 111.7M494.7 104.4 509.4 106.8 515.5 118.9 522.8 122.5 527.7 117.2 532.6 115 542.4 112.1 547.3 114.1 551.7 112.6 558.3 112.9 562.7 109.2 569.3 110.2M506.9 102 519.2 100.1 526 99.6 530.2 96 533.3 91.6 537.5 88 543.6 89.2 542.4 97.2 541.9 103 549.7 102.5 555.8 100.8 562.7 95.5M530.2 56.1 536.3 50.1 550.9 42.4 565.6 40.4 582.7 36.8 588.8 33.2 582.7 26 581.5 17.5 583.4 11.5M499.6 61 499.1 51.3 497.6 45.7 492.3 38 486.2 28.4 483.7 19.9 473.9 13.9M565.6 57.8 581.5 58.5 584.2 65.8 591.3 70.6 601.8 69.6 605.9 65.8 607.2 61 615.7 58.8M511.8 111.7 514.3 121.3 517.2 133.4 520.4 137.7 523.1 143 528.4 146.7 530.9 152.7 531.1 158.7 532.6 162.8M504.5 118.9 497.2 123.2 491.5 124.9 493.5 131M510.6 124.9 506.9 133.4 504.5 141.8 505.2 147.9M521.6 41.6 531.4 46.5 541.2 48.9M594.9 41.6 602.3 39.2 607.2 35.6 614.5 34.4 621.8 27.2 634 19.9 643.8 16.3M246.6 162.8 252.7 158.7 258.8 153.9 262.5 151.5 265 146.7 272.3 147.1 276 152.7 280.8 158 285.7 164.8 288.9 167.7 288.2 174.4M288.9 167.7 295.5 165.7 301.6 164M340.7 208.2 335.8 201 334.6 191.3 333.9 185.3 326.1 182.2 319.9 182.9 315.8 187.7 312.6 193.3 309.7 196.9 302.4 201M338.3 174.9 327.3 176.4 317.7 175.9 315.8 187.7M330.9 215.5 328.5 222.7 334.6 229 340.7 226.3 346.8 224.2 352.9 225.6 359.1 229.7 361 232.1M344.4 257.7 332.2 257.2 323.6 255.5 312.6 255.5M351.5 182.9 349.3 177.8 348.8 164.8 351.7 148.8 354.2 144.2M363.5 158.5 357.8 159.9 356.6 156.3 351.7 148.8M316.3 215.5 321.2 225.1 326.1 230 329.7 233.6M634 274.6 629.2 272.9 623 271 616.9 269.1 613.3 272.2M636.5 255.3 629.2 258.9 623 263.8 619.4 268.6M293.1 70.6 298 68.7 305.3 69.2 312.6 70.1 318.5 71.1 318.7 75.4 321.9 77.1 327.3 79.1 332.2 81 339.5 80.3 340.7 77.1 344.6 77.4M295.5 71.6 290.9 71.6 292.3 68.2 292.6 65.8 289.4 63.4 287 61.2 282.6 61M306.5 64.6 301.6 61.2 300.4 58.5 296.2 57.3 293.6 56.4M318.7 66.5 323.6 64.6 324.1 60.5 319.9 59 318.2 55.4M352.9 53.7 348.1 56.1 346.8 61 346.8 64.8 354.2 68.2 357.8 71.1 354.2 73.8 351.7 74.2M365.9 56.4 368.1 63.4 372.5 67 377.4 70.6 371.3 72.1 368.1 72.5M352.9 48.9 363.9 48.2 370.1 47.4 379.8 50.6 390.8 51.8 392.1 56.6 390.8 59.8 384.7 62.2 381.1 68.9 385.9 73 389.6 74.7M282.1 77.9 280.8 73.3 277.2 71.1 273.5 72.1 267.4 72.3M283.3 70.6 278.4 68.7 273 67.2M287.4 75 285.7 76.7 284 76.2 284 80.3 283.5 81.7M262.5 82.7 267.4 83.9 272.3 86.1 274.2 88.2M267.4 88.7 262.5 90.2 255.2 90.9 250.3 92.8M266.2 85.6 260.1 86.3 255.7 87.5 251.3 87.3M290.6 78.3 294.3 77.6 299.2 77.9 302.4 78.1M385.9 39.7 381.1 35.6 371.3 30.8M308.9 63.4 312.6 62.2 315.1 59.8 308.9 58.5 307.7 56.9M330.9 53.7 328.5 53.5 324.3 53M340.7 52.5 335.8 50.6 330.9 48.9 331.2 48.9M337.1 67 340.7 70.6 344.4 74.2 346.8 74.7" fill="none" stroke="#a3bfe6" stroke-width="0.55" stroke-linejoin="round"/><path d="M232 147.4 238.1 146.4 242.5 150.8M242.5 150.8 244.2 149.1 258.8 149.1 259.3 146.7 257.6 138.2 260.6 126.1M231.5 156.6 238.8 156.1 244.4 156.6 242.5 150.8M231.2 153.7 234.4 154.1 238.6 153.9M235.6 160.4 239.3 161.9 239.8 164.8 245.4 162.4 247.1 166 251.5 168.2 254 175.9M244.4 156.6 246.1 159.5 251.5 159.9 252.7 161.9 253.2 166 251.5 168.2M265 174.2 265.4 163.6 265.4 159.9M252.7 161.9 258.8 161.2 259.1 158.3 261.3 155.8 265.4 159.9 272.3 159.9 277.7 157.8 281.1 158.3M259.1 158.3 267.4 151.5 272.8 150.5 274.7 153.9 281.1 158.3M275.2 171.8 273.5 167.2 272.3 159.9M276.7 171.5 276 164.8 274.5 159.9 277.7 157.8M278.9 171 279.1 164.8 281.1 158.3M281.1 158.3 282.1 153.9 289.4 155.1 296.7 154.4 305.5 153.4 307 156.1M282.6 147.9 282.1 139.4 287 139.4 301.6 129.8M310.2 131 310.2 137 305.3 152.7M330.9 139.4 326.1 150.3 328.5 159.9 326.1 164.8M307 156.1 308.9 162.4 310.2 168.4M293.1 175.6 296 170.8 301.1 169.6 304.1 163.6 307 156.1M296.2 180.9 299.9 181.2 311.4 181.2 312.6 178 310.2 168.4M310.2 168.4 316.3 166 326.1 164.8M312.6 178 317.5 176.8 326.1 175.6 333.4 174.4 339.3 174.4M326.1 164.8 330.9 166 340.7 163.6 352.9 161.2 355.4 163.6M339.3 174.4 345.6 178 348.1 177.3 354.2 177.3 356.6 175.4M361.5 152 357.8 161.2 355.4 166 357.8 174.4 359.1 175.4M359.1 175.4 365.2 177.8 372.5 176.8 374.9 176.8M374.9 176.8 382.3 174.4 389.6 167.2 378.6 163.6M355.4 188.9 363.9 194.2 368.1 197.6M355.4 188.9 356.6 184.1 357.8 175.4M372.5 190.6 372.5 177.1M344.6 175.4 345.4 186.5 344.6 189.9 343.7 194.7M344.6 189.9 348.1 188.9 355.4 188.9M347.3 206.5 341.9 208.2 341.7 214.3 338.3 214.5 330.9 213.1 326.1 213.1 326.1 217.9M302.4 201 311.4 204.6 316.3 205.8 323.6 203.4 326.1 213.1M301.1 228.3 306.5 228.5 316.3 228.8 329.2 229.5M326.1 217.9 330.9 217.9 326.1 226.3 329.2 229.5M312.6 255.5 321.2 255.1 321.2 246.1 321.2 239.6 323.6 239.6 323.6 230.7M321.2 246.1 328.5 248.1 334.9 248.3 338.3 243.5 344.4 240.1 348.8 240.6M329.2 229.5 334.1 229.5 340.7 226.3 346.6 224.2M334.1 229.5 338.3 234.8 344.4 240.1M346.6 224.2 352.9 227.5 351.7 234.8 348.8 240.6 350.3 249 352.7 251.2M371.3 211.8 363.9 214.3 356.9 214.3M347.3 206.5 352.9 209.4 356.1 209.4M346.6 224.2 352.5 219.1 353.7 220.8 358.6 221M338.3 258.4 341.9 255.5 344.4 257.7 341.9 260.4 338.3 258.4M486.9 67.7 492.3 71.8 494.7 77.9 506.9 83.4 516.7 83.7 528.9 86.1 541.2 83.7 546 81 555.8 77.4 565.4 73.8 559.2 71.6 555.8 67 550.9 65.1M486.9 67.7 497.2 64.1 511.8 61.7 521.6 62.4 531.4 65.1 537.5 67.5 550.9 65.1 557.5 66.3 565.6 59.8M565.6 59.8 572.9 57.3 582.7 59.8 585.2 66.8 592.5 71.1 601.5 69.9 598.6 77.9 592.5 82.7 591.3 83.9M575.9 90.2 580.3 86.3 585.2 85.1 590 83.9M580.5 95.2 582.7 94.3 585.9 93.3M487.4 120.1 492.3 118.9 497.2 119.4 504.5 116.5 510.1 118.2 513 124.9 511.8 128.6 515.5 133.1 519.6 135.3 521.6 132.4 525.3 131.7 531.4 131.2 536.3 134.6M513 162.4 514.3 153.9 512.3 149.1 510.6 141.8 516.7 137.2 519.6 135.3M516.7 137.2 519.2 144.2 527.7 144.5 530.4 150.3 535 151.5M526.5 132.2 527.7 138.2 531.4 144.2 535 151.5M522.8 157.5 524 152 530.4 152.2M527.7 161.2 531.4 158.7 535 156.3 535 151.5M488.6 133.4 489.8 123.2 498.4 126.1 497.6 131 497.9 136.5M517.2 170.8 521.6 172M540.2 181.7 546 182.9 553.4 180.5 554.6 176.8 559.5 176.4M616.9 192.8 616.9 208.5M577.6 208.2 578.1 209.4M-72.4 18.5 -72.4 40.9M-29.1 68.2 39.6 68.2 40.1 67.2 53.3 70.6 65.7 74.2 70.6 77.1 70.9 82.9 69.2 84.6 74.3 84.6 79.2 82.2 85.3 81.2 89.7 77.9 97.5 77.9 99.5 76.7 101.2 73.8 103.1 72.1 105.6 72.3 106.6 72.8 106.6 76.2 108.3 77.6M-13.9 108 -8.1 107.6 1 110.9 7.8 110.9 7.8 109.7 12 109.7 16.9 115 20.5 116.5 24.2 114.6 27.9 118.9 29.1 120.1 34.7 124M46.9 151.5 47.4 147.9 49.9 145 54.5 143.3 54.3 148.1M54.3 148.1 54 151.7 57.7 152.9M57.7 154.6 60.9 153.2 64.5 150.3 68.9 150.3M67.7 159.9 62.8 159.7M69.7 162.8 70.4 166.5M267.9 81.7 272.3 83.4 276 83.9 280.1 84.1M250.5 85.1 252.2 84.9 256.4 85.8 255.4 87.5 255.2 90.7 254.4 91.4 255.2 93.5 254 96 254.2 96.7M278.4 63.1 282.6 65.1 286.5 67 287.9 67 292.3 68.2 290.9 71.6M290.9 71.6 287 75 289.4 75.7 288.9 79.1 290.6 80.8M280.6 62.4 284.5 62.2 287 63.4M289.9 57.8 289.4 60.5 287 61.4 287.4 63.9 287.2 65.5 287.9 67M293.3 54 296.5 54.2M307 56.4 308 59.8 308.9 63.4M301.9 65.1 308.5 63.6M301.9 65.1 306 68.7M296 71.8 304.1 71.8 306 68.7M290.9 71.6 295.8 71.6 297.7 74 294.3 75.7 289.4 75.7M297.7 74 302.6 73 305.8 74.2 311.4 73.8M305.5 76.7 309.4 76.7 310.7 74.7 311.6 73.5M306 68.7 308.9 68.2 313.8 69.2 313.8 71.3 311.6 73.5M308.5 63.6 312.6 65.3 317.7 66.3M317.7 66.3 322.4 67.2 327.3 68M313.8 71.1 318.2 71.1 322.4 69.4 326.5 69.6M327.3 68 330.9 64.6 329.7 61 330.5 56.4 328 55.2M320.2 55.2 328 55.2M323.6 51.1 330.9 50.6 337.3 52M331.7 46.7 335.8 47 339.3 47.7M340.7 42.8 339.5 46.5 340 48.2 341.2 50.8 337.3 52 333.4 56.1 330.5 56.4M330 61.9 338.3 61.9 346.8 62.6 350 60.7M350 60.7 348.1 56.6 347.6 52.5 341.2 50.8M350 60.7 356.4 62.2 358.8 64.3 365.2 66 370.1 66.8 369.3 71.1 365.7 72.8M326.5 69.6 333.1 71.3 337.3 70.1 340.7 70.1 343.7 72.1 345.6 74.2 341.2 76.7 344.6 76.9M337.3 70.1 341 74 341.2 76.7M326.5 69.6 324.1 75 321.9 75.2M321.9 75.2 324.8 77.4 327.3 79.1 330.9 81 335.8 80.3 339 80 342.2 81M311.6 73.5 313.8 75.7 318.7 75.7 321.9 75.2M327 84.4 330.9 86.1 335.8 86.8 337.3 85.8 340.7 85.1M327.3 79.1 327 84.4M310.7 77.4 318.7 77.9 319.5 78.1 319.5 82.2 317.5 83.9M319.7 83.9 322.4 85.1 322.6 87.5 323.6 89.4 321.7 90.9M322.6 87.5 328.3 86.8 327 84.4M319.5 82.2 322.4 83.9 327 84.4M300.2 44.1 302.8 40.4 301.6 37.3 304.1 32 308.9 27.2 313.8 22.3 321.2 19.9M330.9 27.6 329.7 23.5 323.6 19.9M323.6 19.9 333.4 20.9 341.9 18.7 343.2 17.5M343.2 18.2 341.9 22.3 345.6 23.5 344.4 27.2 345.6 32 349.3 34.6 340.2 40.4M360.3 98.4 362.7 97.9 370.1 97.4 375.9 96.7 381.8 96.7 381.1 91.1 378.6 87.3M373.7 86.3 378.6 87.3 382.3 87 385.9 87.3 390.8 85.6M370.1 81.7 374.9 82.2 384.7 85.1 390.8 85.6M381.8 96.7 383.5 100.8 385.2 105.6 389.1 110.5 389.6 114.1M375.9 96.7 372.5 103.2 367.6 108.5M361.5 108 359.8 106.1 360 103M257.6 100.1 268.1 102 269.4 109M293.3 97.4 292.3 105.6" fill="none" stroke="#777" stroke-width="0.4" stroke-linejoin="round"/><path d="M47.4 73.8 53.5 70.6 56.7 68.7 60.9 68.9 65 73 65.5 74.2 60.1 74.2 57.2 72.1 51.1 74ZM57.7 85.1 58.4 86.1 60.9 84.6 61.6 81.5 60.9 78.3 63.3 75.9 65 75.7 62.1 75.4 58.4 77.4 57.7 80.3ZM65.5 75.7 68.2 75.2 73.1 75.7 75.5 77.4 77.2 78.6 72.6 82 70.6 82.7 69.9 80.3 68.4 78.8 67 76.7ZM68.4 85.8 74.3 83.7 79.2 82.9 77.2 84.6 71.9 86.5ZM77.2 82 79.2 80.8 84.1 80.3 86 81.5 82.9 82ZM387.2 77.9 392.1 74 398.2 73 401.8 74.2 401.8 77.4 396.9 79.1 398.2 82.2 401.3 85.6 404.3 88.2 402.3 91.6 404 96.2 396.9 97.9 392.1 95.7 392.1 92.8 393.3 89.2 389.6 85.6 387.9 82.7 388.4 79.1ZM526.5 61.9 532.6 60 538.7 56.1 540.4 52 538.7 52.5 535 57.3 530.2 60.2 525.8 61.7ZM349.8 187.2 355.4 187.2 357.1 190.1 354.2 192.5 350.5 192.5 349.5 190.1ZM343.7 194.7 346.8 207 348.1 207 344.9 196.2ZM356.1 209.4 358.6 221 356.9 220.3 355.4 213.1ZM345.6 39.2 349.3 40.9 352.5 40 351.7 38 348.1 37.5ZM356.6 38 359.8 38.5 360.8 36.1 357.8 34.9ZM415.3 74.2 420.2 75.4 421.4 79.1 416.5 81.5 414.1 77.9ZM453.2 74.7 460.5 74 465.9 74.2 462.9 76.4 455.6 75.7ZM34 64.6 36.4 64.6 34 57.3 30.3 57.3Z" fill="#97b6e1" stroke="#333" stroke-width="0.3"/><path d="M259 83.5L255.8 89.2L262.1 89.2Z" fill="#ff0000" stroke="#888" stroke-width="0.3"/><path d="M269.5 88.5L266.4 94.2L272.6 94.2Z" fill="#ff0000" stroke="#888" stroke-width="0.3"/><path d="M271 82.5L267.9 88.2L274.1 88.2Z" fill="#ff0000" stroke="#888" stroke-width="0.3"/><path d="M282 79L278.9 84.7L285.1 84.7Z" fill="#ff0000" stroke="#888" stroke-width="0.3"/><path d="M285 77L281.9 82.7L288.1 82.7Z" fill="#ff0000" stroke="#888" stroke-width="0.3"/><path d="M270 81.5L266.9 75.8L273.1 75.8Z" fill="#ffd700" stroke="#888" stroke-width="0.3"/><path d="M283 80.5L279.9 74.8L286.1 74.8Z" fill="#ffd700" stroke="#888" stroke-width="0.3"/><path d="M276.5 84L273.4 78.3L279.6 78.3Z" fill="#ffd700" stroke="#888" stroke-width="0.3"/><path d="M293.5 76L290.4 81.7L296.6 81.7Z" fill="#ffd700" stroke="#888" stroke-width="0.3"/><path d="M288 64L284.9 58.3L291.1 58.3Z" fill="#ffd700" stroke="#888" stroke-width="0.3"/><path d="M290.5 64L287.4 58.3L293.6 58.3Z" fill="#ffd700" stroke="#888" stroke-width="0.3"/><path d="M274 86L270.9 80.3L277.1 80.3Z" fill="#0000ff" stroke="#888" stroke-width="0.3"/><path d="M276.5 88L273.4 82.3L279.6 82.3Z" fill="#0000ff" stroke="#888" stroke-width="0.3"/><path d="M288.5 67.5L285.4 61.8L291.6 61.8Z" fill="#0000ff" stroke="#888" stroke-width="0.3"/><path d="M263 64.5L259.9 58.8L266.1 58.8Z" fill="#0000ff" stroke="#888" stroke-width="0.3"/><path d="M294.5 54L291.4 48.3L297.6 48.3Z" fill="#ffd700" stroke="#888" stroke-width="0.3"/><path d="M296 49.5L292.9 55.2L299.1 55.2Z" fill="#ff0000" stroke="#888" stroke-width="0.3"/><path d="M328.6 59.7L325.5 54L331.8 54Z" fill="#0000ff" stroke="#888" stroke-width="0.3"/><path d="M327.4 70.1L324.2 75.8L330.5 75.8Z" fill="#ff0000" stroke="#888" stroke-width="0.3"/><path d="M329.8 67.7L326.7 73.4L332.9 73.4Z" fill="#ff0000" stroke="#888" stroke-width="0.3"/><path d="M337 67.1L333.9 72.8L340.1 72.8Z" fill="#ff0000" stroke="#888" stroke-width="0.3"/><path d="M339.4 70.1L336.2 75.8L342.5 75.8Z" fill="#ff0000" stroke="#888" stroke-width="0.3"/><path d="M334.6 74.9L331.5 80.6L337.8 80.6Z" fill="#ff0000" stroke="#888" stroke-width="0.3"/><path d="M340.6 76.1L337.5 81.8L343.8 81.8Z" fill="#ff0000" stroke="#888" stroke-width="0.3"/><path d="M325.6 72.5L322.5 78.2L328.8 78.2Z" fill="#ff0000" stroke="#888" stroke-width="0.3"/><path d="M331 71.3L327.9 77L334.1 77Z" fill="#ffd700" stroke="#888" stroke-width="0.3"/><path d="M324 69L320.9 74.7L327.1 74.7Z" fill="#ff0000" stroke="#888" stroke-width="0.3"/><path d="M336 70L332.9 75.7L339.1 75.7Z" fill="#ff0000" stroke="#888" stroke-width="0.3"/><path d="M342 73.5L338.9 79.2L345.1 79.2Z" fill="#ff0000" stroke="#888" stroke-width="0.3"/><path d="M326.5 82.5L323.4 76.8L329.6 76.8Z" fill="#ffd700" stroke="#888" stroke-width="0.3"/><path d="M333 83.5L329.9 77.8L336.1 77.8Z" fill="#ffd700" stroke="#888" stroke-width="0.3"/><path d="M338.5 77L335.4 82.7L341.6 82.7Z" fill="#ff0000" stroke="#888" stroke-width="0.3"/><path d="M330 67L326.9 72.7L333.1 72.7Z" fill="#ff0000" stroke="#888" stroke-width="0.3"/><path d="M344 76L340.9 81.7L347.1 81.7Z" fill="#ff0000" stroke="#888" stroke-width="0.3"/><path d="M323.8 81.9L320.7 76.2L326.9 76.2Z" fill="#ffd700" stroke="#888" stroke-width="0.3"/><path d="M328.6 83.1L325.5 77.4L331.8 77.4Z" fill="#ffd700" stroke="#888" stroke-width="0.3"/><path d="M332.2 80.1L329.1 74.4L335.3 74.4Z" fill="#ffd700" stroke="#888" stroke-width="0.3"/><path d="M338 26.5L334.9 20.8L341.1 20.8Z" fill="#ffd700" stroke="#888" stroke-width="0.3"/><path d="M336.3 22.5L333.2 28.2L339.4 28.2Z" fill="#ff0000" stroke="#888" stroke-width="0.3"/><path d="M340 22.5L336.9 28.2L343.1 28.2Z" fill="#ff0000" stroke="#888" stroke-width="0.3"/><path d="M338.5 26L335.4 20.3L341.6 20.3Z" fill="#ffd700" stroke="#888" stroke-width="0.3"/></g><rect x="223.4" y="17.5" width="171.1" height="84.5" fill="none" stroke="#707a8c" stroke-width="0.8"/><rect x="47.1" y="99.2" width="134.1" height="103.5" fill="#fff" stroke="#7d8590" stroke-width="0.9"/><g clip-path="url(#sc)"><g fill="#0000ff" stroke="#444" stroke-width="0.25"><circle cx="57.8" cy="129.4" r="1.5"/><circle cx="58.5" cy="136.2" r="1.5"/><circle cx="53.2" cy="141.8" r="1.5"/><circle cx="53.6" cy="127.6" r="1.5"/><circle cx="62.7" cy="153.3" r="1.5"/><circle cx="68.2" cy="148.3" r="1.5"/><circle cx="57.2" cy="156.5" r="1.5"/><circle cx="63.5" cy="149.3" r="1.5"/><circle cx="58.6" cy="157.9" r="1.5"/><circle cx="63.7" cy="149.2" r="1.5"/><circle cx="66.9" cy="149.2" r="1.5"/><circle cx="60.7" cy="122.5" r="1.5"/><circle cx="66.4" cy="150.6" r="1.5"/><circle cx="62.6" cy="110.2" r="1.5"/><circle cx="55" cy="138" r="1.5"/><circle cx="65.7" cy="143.8" r="1.5"/><circle cx="61.9" cy="154.2" r="1.5"/><circle cx="67.1" cy="149" r="1.5"/><circle cx="57.6" cy="165.4" r="1.5"/><circle cx="61.2" cy="134.3" r="1.5"/><circle cx="67.6" cy="149.9" r="1.5"/><circle cx="60.3" cy="136.5" r="1.5"/><circle cx="58.9" cy="136.2" r="1.5"/><circle cx="62.4" cy="126.3" r="1.5"/><circle cx="61.1" cy="157.5" r="1.5"/><circle cx="64.9" cy="136.1" r="1.5"/><circle cx="55.4" cy="144.5" r="1.5"/><circle cx="52.8" cy="142.8" r="1.5"/><circle cx="62.1" cy="141.6" r="1.5"/><circle cx="67.8" cy="166" r="1.5"/><circle cx="64.9" cy="136.2" r="1.5"/><circle cx="62.4" cy="145.5" r="1.5"/><circle cx="53.7" cy="145.9" r="1.5"/><circle cx="54.4" cy="135.9" r="1.5"/><circle cx="54.2" cy="142.7" r="1.5"/><circle cx="60.2" cy="137.3" r="1.5"/><circle cx="58.2" cy="135.4" r="1.5"/><circle cx="63.3" cy="152.9" r="1.5"/><circle cx="65.4" cy="141.4" r="1.5"/><circle cx="60.3" cy="134.5" r="1.5"/><circle cx="58.4" cy="114.4" r="1.5"/><circle cx="64.7" cy="145.8" r="1.5"/><circle cx="58.5" cy="151.4" r="1.5"/><circle cx="65.6" cy="153.5" r="1.5"/><circle cx="65.2" cy="155.1" r="1.5"/><circle cx="65.5" cy="138.4" r="1.5"/><circle cx="67.9" cy="129.5" r="1.5"/><circle cx="60" cy="169.2" r="1.5"/><circle cx="67.3" cy="133.6" r="1.5"/><circle cx="58.4" cy="140" r="1.5"/><circle cx="62.6" cy="135.1" r="1.5"/><circle cx="60.3" cy="139.6" r="1.5"/><circle cx="58.8" cy="147.9" r="1.5"/><circle cx="59.7" cy="118" r="1.5"/><circle cx="64.1" cy="127.7" r="1.5"/><circle cx="64.2" cy="127" r="1.5"/><circle cx="64.7" cy="139.9" r="1.5"/><circle cx="63.1" cy="121.5" r="1.5"/><circle cx="64.2" cy="139.8" r="1.5"/><circle cx="59.5" cy="134.6" r="1.5"/><circle cx="65.5" cy="141.2" r="1.5"/><circle cx="56.8" cy="124.5" r="1.5"/><circle cx="64.8" cy="135.4" r="1.5"/><circle cx="65.8" cy="156.9" r="1.5"/><circle cx="52.9" cy="145.6" r="1.5"/><circle cx="62.3" cy="136.4" r="1.5"/><circle cx="63.9" cy="130.7" r="1.5"/><circle cx="63.7" cy="141.5" r="1.5"/><circle cx="60.7" cy="148.2" r="1.5"/><circle cx="58.3" cy="161.4" r="1.5"/><circle cx="67.2" cy="150.3" r="1.5"/><circle cx="62.9" cy="151.7" r="1.5"/><circle cx="66.4" cy="143.1" r="1.5"/><circle cx="67.3" cy="139.2" r="1.5"/><circle cx="54.6" cy="148.2" r="1.5"/><circle cx="63.3" cy="152.8" r="1.5"/><circle cx="59.4" cy="161" r="1.5"/><circle cx="66.4" cy="137.1" r="1.5"/><circle cx="59" cy="113.8" r="1.5"/><circle cx="62.7" cy="146.9" r="1.5"/><circle cx="57.7" cy="136" r="1.5"/><circle cx="58" cy="153.5" r="1.5"/><circle cx="57.3" cy="133.1" r="1.5"/><circle cx="68.3" cy="134.5" r="1.5"/><circle cx="67.1" cy="137.9" r="1.5"/><circle cx="66.2" cy="155" r="1.5"/><circle cx="63.3" cy="134.4" r="1.5"/><circle cx="54" cy="146.8" r="1.5"/><circle cx="64.5" cy="140.6" r="1.5"/><circle cx="54" cy="143.2" r="1.5"/><circle cx="68.1" cy="136.6" r="1.5"/><circle cx="67.4" cy="124.6" r="1.5"/><circle cx="67.5" cy="137.7" r="1.5"/><circle cx="60.1" cy="152.8" r="1.5"/><circle cx="55.9" cy="153.3" r="1.5"/><circle cx="65.8" cy="140.4" r="1.5"/><circle cx="67.7" cy="142.2" r="1.5"/><circle cx="62.9" cy="151" r="1.5"/><circle cx="67.5" cy="155.2" r="1.5"/><circle cx="67.8" cy="134.9" r="1.5"/><circle cx="59.1" cy="119.3" r="1.5"/><circle cx="68.3" cy="125" r="1.5"/><circle cx="56.7" cy="134.3" r="1.5"/><circle cx="62.2" cy="157.6" r="1.5"/><circle cx="59.8" cy="153.4" r="1.5"/><circle cx="60.9" cy="127.9" r="1.5"/><circle cx="67.4" cy="145.3" r="1.5"/><circle cx="59.8" cy="152.7" r="1.5"/><circle cx="60.6" cy="133.5" r="1.5"/><circle cx="54.1" cy="145.5" r="1.5"/><circle cx="53" cy="140.6" r="1.5"/><circle cx="54" cy="153.1" r="1.5"/><circle cx="62.3" cy="158.5" r="1.5"/><circle cx="63.3" cy="145.5" r="1.5"/><circle cx="66.1" cy="159.6" r="1.5"/><circle cx="64.3" cy="125.8" r="1.5"/><circle cx="61.7" cy="153.4" r="1.5"/><circle cx="65.8" cy="139.7" r="1.5"/><circle cx="67.3" cy="140.9" r="1.5"/><circle cx="66" cy="155.3" r="1.5"/><circle cx="60.4" cy="155.5" r="1.5"/><circle cx="64.6" cy="145.1" r="1.5"/><circle cx="64.4" cy="146.4" r="1.5"/><circle cx="66.1" cy="140.6" r="1.5"/><circle cx="60" cy="125.5" r="1.5"/><circle cx="60.3" cy="155.4" r="1.5"/><circle cx="59.2" cy="154.2" r="1.5"/><circle cx="63" cy="138.5" r="1.5"/><circle cx="56.9" cy="142.4" r="1.5"/><circle cx="61.2" cy="155.7" r="1.5"/><circle cx="54.5" cy="139.7" r="1.5"/><circle cx="58.1" cy="129.5" r="1.5"/><circle cx="67.5" cy="141.2" r="1.5"/><circle cx="68.5" cy="138.1" r="1.5"/><circle cx="60.9" cy="140.3" r="1.5"/><circle cx="65.9" cy="128.6" r="1.5"/><circle cx="66.6" cy="154.8" r="1.5"/><circle cx="59.4" cy="147.8" r="1.5"/><circle cx="62.6" cy="153.8" r="1.5"/><circle cx="57.7" cy="147.6" r="1.5"/><circle cx="59" cy="133" r="1.5"/><circle cx="66.6" cy="142.8" r="1.5"/><circle cx="58.8" cy="138.3" r="1.5"/><circle cx="62.7" cy="136.8" r="1.5"/><circle cx="53.4" cy="150.4" r="1.5"/><circle cx="60.9" cy="138.4" r="1.5"/><circle cx="66.5" cy="132" r="1.5"/><circle cx="67.2" cy="143.4" r="1.5"/><circle cx="64.3" cy="146.4" r="1.5"/><circle cx="62.9" cy="129.9" r="1.5"/><circle cx="62.6" cy="150.6" r="1.5"/><circle cx="65.3" cy="150" r="1.5"/><circle cx="60.3" cy="137.8" r="1.5"/><circle cx="55.3" cy="164.5" r="1.5"/><circle cx="63" cy="142.8" r="1.5"/><circle cx="68.5" cy="151.2" r="1.5"/><circle cx="63.9" cy="145.3" r="1.5"/><circle cx="56.4" cy="127.6" r="1.5"/><circle cx="59.2" cy="155.6" r="1.5"/><circle cx="58.6" cy="158.3" r="1.5"/><circle cx="58.4" cy="142.5" r="1.5"/><circle cx="66.6" cy="153.2" r="1.5"/><circle cx="67.8" cy="135.1" r="1.5"/><circle cx="62.7" cy="129.1" r="1.5"/><circle cx="66.9" cy="145.4" r="1.5"/><circle cx="68.1" cy="141.6" r="1.5"/><circle cx="58.6" cy="135.9" r="1.5"/><circle cx="54" cy="140.9" r="1.5"/><circle cx="64.6" cy="151.2" r="1.5"/><circle cx="64.5" cy="144.5" r="1.5"/><circle cx="53.7" cy="148.2" r="1.5"/><circle cx="58.8" cy="132.6" r="1.5"/><circle cx="60" cy="142" r="1.5"/><circle cx="60.2" cy="130.6" r="1.5"/><circle cx="63" cy="140.4" r="1.5"/><circle cx="64.9" cy="135.2" r="1.5"/><circle cx="62.1" cy="138.5" r="1.5"/><circle cx="61.8" cy="150.5" r="1.5"/><circle cx="52.7" cy="133.6" r="1.5"/><circle cx="67.5" cy="141.9" r="1.5"/><circle cx="60.9" cy="150.5" r="1.5"/><circle cx="54.4" cy="131.7" r="1.5"/><circle cx="67.1" cy="151" r="1.5"/><circle cx="67.3" cy="136.2" r="1.5"/><circle cx="57.5" cy="143.8" r="1.5"/><circle cx="65.1" cy="147.2" r="1.5"/><circle cx="67.5" cy="151.1" r="1.5"/><circle cx="61.5" cy="154.6" r="1.5"/><circle cx="67.8" cy="142.3" r="1.5"/><circle cx="57.1" cy="141.9" r="1.5"/><circle cx="65.5" cy="156.5" r="1.5"/><circle cx="65.7" cy="125.3" r="1.5"/><circle cx="60" cy="138.7" r="1.5"/><circle cx="56.5" cy="132.1" r="1.5"/><circle cx="64.5" cy="139.6" r="1.5"/><circle cx="66.8" cy="141.9" r="1.5"/><circle cx="57.5" cy="149.7" r="1.5"/><circle cx="57" cy="134.5" r="1.5"/><circle cx="67.4" cy="134.1" r="1.5"/><circle cx="67.3" cy="141.4" r="1.5"/><circle cx="66.7" cy="133.3" r="1.5"/><circle cx="66.9" cy="132.3" r="1.5"/><circle cx="65.8" cy="147.6" r="1.5"/><circle cx="58.4" cy="133.4" r="1.5"/><circle cx="60.8" cy="142.6" r="1.5"/><circle cx="63.9" cy="138.3" r="1.5"/><circle cx="55.2" cy="133.4" r="1.5"/><circle cx="58.3" cy="143.4" r="1.5"/><circle cx="68.4" cy="141.5" r="1.5"/><circle cx="62.5" cy="130.4" r="1.5"/><circle cx="61.3" cy="153.2" r="1.5"/><circle cx="64.4" cy="147.4" r="1.5"/><circle cx="60.5" cy="131" r="1.5"/><circle cx="57.8" cy="153.1" r="1.5"/><circle cx="60.7" cy="163.6" r="1.5"/><circle cx="54.3" cy="128.4" r="1.5"/><circle cx="53.3" cy="165" r="1.5"/><circle cx="53.4" cy="132.3" r="1.5"/><circle cx="62.9" cy="147.6" r="1.5"/><circle cx="65" cy="130" r="1.5"/><circle cx="60.3" cy="132.8" r="1.5"/><circle cx="57" cy="123.9" r="1.5"/><circle cx="65.9" cy="138.1" r="1.5"/><circle cx="62.1" cy="140" r="1.5"/><circle cx="63.2" cy="141.3" r="1.5"/><circle cx="54.2" cy="146" r="1.5"/><circle cx="65" cy="146.7" r="1.5"/><circle cx="64.8" cy="132.8" r="1.5"/><circle cx="62" cy="145.7" r="1.5"/><circle cx="65.6" cy="150" r="1.5"/><circle cx="67.1" cy="152.1" r="1.5"/><circle cx="67" cy="163.2" r="1.5"/><circle cx="60" cy="129" r="1.5"/><circle cx="59.2" cy="128.6" r="1.5"/><circle cx="58.5" cy="133.9" r="1.5"/><circle cx="58.2" cy="137.6" r="1.5"/><circle cx="60.4" cy="145.3" r="1.5"/><circle cx="57.4" cy="129.1" r="1.5"/><circle cx="66.9" cy="144.8" r="1.5"/><circle cx="54" cy="157.6" r="1.5"/><circle cx="62.5" cy="160.8" r="1.5"/><circle cx="65.9" cy="115.5" r="1.5"/><circle cx="55.1" cy="135.4" r="1.5"/><circle cx="56.6" cy="127.9" r="1.5"/><circle cx="56.8" cy="138.8" r="1.5"/><circle cx="64.3" cy="148.8" r="1.5"/><circle cx="62.3" cy="150.9" r="1.5"/><circle cx="59.8" cy="107.8" r="1.5"/><circle cx="62.9" cy="141.9" r="1.5"/><circle cx="65.9" cy="137.8" r="1.5"/><circle cx="58.2" cy="138.8" r="1.5"/><circle cx="60.7" cy="145.9" r="1.5"/><circle cx="64.3" cy="146.4" r="1.5"/><circle cx="63.4" cy="154.7" r="1.5"/><circle cx="53" cy="159.8" r="1.5"/><circle cx="67.7" cy="147.8" r="1.5"/><circle cx="65.3" cy="121.5" r="1.5"/><circle cx="61.9" cy="128.9" r="1.5"/><circle cx="57" cy="121.3" r="1.5"/><circle cx="67.4" cy="140.3" r="1.5"/><circle cx="60.7" cy="133.7" r="1.5"/><circle cx="62.5" cy="153.5" r="1.5"/></g><g fill="#ffd700" stroke="#444" stroke-width="0.25"><circle cx="70.3" cy="175.8" r="1.5"/><circle cx="76.4" cy="139.4" r="1.5"/><circle cx="75" cy="140.8" r="1.5"/><circle cx="72.2" cy="139.9" r="1.5"/><circle cx="74.4" cy="162.9" r="1.5"/><circle cx="77.4" cy="119.3" r="1.5"/><circle cx="74.9" cy="126.6" r="1.5"/><circle cx="72.5" cy="148.3" r="1.5"/><circle cx="78.5" cy="160.8" r="1.5"/><circle cx="74.4" cy="165.1" r="1.5"/><circle cx="73" cy="134.5" r="1.5"/><circle cx="70.4" cy="151.4" r="1.5"/><circle cx="76.8" cy="155.2" r="1.5"/><circle cx="71.1" cy="174.8" r="1.5"/><circle cx="74.4" cy="156.9" r="1.5"/><circle cx="68.6" cy="160.7" r="1.5"/><circle cx="68.9" cy="140.8" r="1.5"/><circle cx="72.9" cy="136.9" r="1.5"/><circle cx="73.7" cy="145.8" r="1.5"/><circle cx="70.9" cy="155.4" r="1.5"/><circle cx="75.1" cy="150.3" r="1.5"/><circle cx="72.1" cy="151.1" r="1.5"/><circle cx="69.6" cy="156.9" r="1.5"/><circle cx="74.4" cy="144.1" r="1.5"/><circle cx="74.5" cy="146.1" r="1.5"/><circle cx="73.3" cy="134.1" r="1.5"/><circle cx="69.9" cy="142.4" r="1.5"/><circle cx="70.1" cy="154.9" r="1.5"/><circle cx="69.5" cy="167.9" r="1.5"/><circle cx="76.4" cy="171" r="1.5"/><circle cx="72.6" cy="151.4" r="1.5"/><circle cx="75" cy="149.3" r="1.5"/><circle cx="74.2" cy="162.1" r="1.5"/><circle cx="73" cy="136.3" r="1.5"/><circle cx="78" cy="152.2" r="1.5"/><circle cx="77.6" cy="160.8" r="1.5"/><circle cx="69" cy="164" r="1.5"/><circle cx="71" cy="153.8" r="1.5"/><circle cx="69.2" cy="150.9" r="1.5"/><circle cx="74.1" cy="153.2" r="1.5"/><circle cx="78" cy="145.9" r="1.5"/><circle cx="74.7" cy="144.6" r="1.5"/><circle cx="73.7" cy="166" r="1.5"/><circle cx="70.3" cy="169.4" r="1.5"/><circle cx="71.7" cy="152.5" r="1.5"/><circle cx="77.5" cy="147.4" r="1.5"/><circle cx="76.4" cy="151.5" r="1.5"/><circle cx="77" cy="152.6" r="1.5"/><circle cx="76" cy="171.8" r="1.5"/><circle cx="73.1" cy="146.7" r="1.5"/><circle cx="70.8" cy="143.9" r="1.5"/><circle cx="69" cy="145.5" r="1.5"/><circle cx="71.9" cy="151.3" r="1.5"/><circle cx="77" cy="170.9" r="1.5"/><circle cx="75.7" cy="152.8" r="1.5"/><circle cx="72.9" cy="135.1" r="1.5"/><circle cx="76.5" cy="161.1" r="1.5"/><circle cx="75" cy="152.7" r="1.5"/><circle cx="78.2" cy="145.8" r="1.5"/><circle cx="68.7" cy="125.4" r="1.5"/><circle cx="71.2" cy="149.4" r="1.5"/><circle cx="78" cy="130.2" r="1.5"/><circle cx="76.1" cy="163.4" r="1.5"/><circle cx="71.9" cy="127.9" r="1.5"/><circle cx="71" cy="136.1" r="1.5"/><circle cx="75.5" cy="161.1" r="1.5"/><circle cx="75.2" cy="136.9" r="1.5"/><circle cx="77" cy="153.1" r="1.5"/><circle cx="75.6" cy="142.6" r="1.5"/><circle cx="75.8" cy="161.9" r="1.5"/><circle cx="74.3" cy="154.3" r="1.5"/><circle cx="74.8" cy="143" r="1.5"/><circle cx="69.4" cy="145.2" r="1.5"/><circle cx="68.8" cy="155" r="1.5"/><circle cx="69.6" cy="140.6" r="1.5"/><circle cx="70" cy="156.3" r="1.5"/><circle cx="68.9" cy="132.2" r="1.5"/><circle cx="74.9" cy="146.1" r="1.5"/><circle cx="75.6" cy="151.6" r="1.5"/><circle cx="74.5" cy="155.9" r="1.5"/><circle cx="72.2" cy="141.5" r="1.5"/><circle cx="77.5" cy="172.8" r="1.5"/><circle cx="69.2" cy="132.1" r="1.5"/><circle cx="78" cy="172.2" r="1.5"/><circle cx="69.7" cy="149.5" r="1.5"/><circle cx="68.9" cy="145.2" r="1.5"/><circle cx="77.1" cy="144.3" r="1.5"/><circle cx="76.8" cy="168" r="1.5"/><circle cx="74.9" cy="152.6" r="1.5"/><circle cx="69.6" cy="145.5" r="1.5"/><circle cx="76.2" cy="148.1" r="1.5"/><circle cx="72.8" cy="140.4" r="1.5"/><circle cx="68.8" cy="151.7" r="1.5"/><circle cx="75.8" cy="140.8" r="1.5"/><circle cx="72.3" cy="165.4" r="1.5"/><circle cx="73.6" cy="121.5" r="1.5"/><circle cx="77.1" cy="153.6" r="1.5"/><circle cx="72.7" cy="153.4" r="1.5"/><circle cx="73" cy="149.5" r="1.5"/><circle cx="75.6" cy="162.9" r="1.5"/><circle cx="74" cy="145.9" r="1.5"/><circle cx="69.5" cy="126.3" r="1.5"/><circle cx="76.8" cy="150.9" r="1.5"/><circle cx="70.6" cy="150.6" r="1.5"/><circle cx="76.2" cy="150" r="1.5"/><circle cx="73.5" cy="151.4" r="1.5"/><circle cx="73.5" cy="148.8" r="1.5"/><circle cx="73.5" cy="159" r="1.5"/><circle cx="72.1" cy="146.3" r="1.5"/><circle cx="78" cy="159.9" r="1.5"/><circle cx="71.4" cy="146.9" r="1.5"/><circle cx="73.6" cy="131.9" r="1.5"/><circle cx="69.7" cy="154.7" r="1.5"/><circle cx="76.5" cy="155.2" r="1.5"/><circle cx="75.6" cy="147.1" r="1.5"/><circle cx="72.1" cy="168.7" r="1.5"/><circle cx="72.6" cy="172.4" r="1.5"/><circle cx="69.4" cy="134.7" r="1.5"/><circle cx="77.5" cy="142.6" r="1.5"/><circle cx="71.2" cy="149.8" r="1.5"/><circle cx="77.6" cy="163.7" r="1.5"/><circle cx="77.4" cy="151.3" r="1.5"/><circle cx="70.9" cy="166.5" r="1.5"/><circle cx="76.1" cy="147.4" r="1.5"/><circle cx="76.1" cy="158.4" r="1.5"/><circle cx="71.9" cy="160.6" r="1.5"/><circle cx="70.1" cy="140.8" r="1.5"/><circle cx="76" cy="166.9" r="1.5"/><circle cx="70.3" cy="171.6" r="1.5"/><circle cx="74.4" cy="142.9" r="1.5"/><circle cx="69.8" cy="144.9" r="1.5"/><circle cx="71" cy="147.3" r="1.5"/><circle cx="75.6" cy="141.1" r="1.5"/><circle cx="77" cy="147" r="1.5"/><circle cx="71.1" cy="145.1" r="1.5"/><circle cx="71.9" cy="158.7" r="1.5"/><circle cx="71.9" cy="152.3" r="1.5"/><circle cx="70.5" cy="130.8" r="1.5"/><circle cx="69.6" cy="154.4" r="1.5"/><circle cx="78.2" cy="141.1" r="1.5"/><circle cx="78.4" cy="143.7" r="1.5"/><circle cx="76.5" cy="152.6" r="1.5"/><circle cx="70.5" cy="164.8" r="1.5"/><circle cx="75" cy="144.4" r="1.5"/><circle cx="72.5" cy="145.8" r="1.5"/><circle cx="68.9" cy="169.4" r="1.5"/><circle cx="75.5" cy="137.8" r="1.5"/><circle cx="73.6" cy="160.8" r="1.5"/><circle cx="70" cy="161.8" r="1.5"/><circle cx="74.6" cy="168.6" r="1.5"/><circle cx="77.7" cy="139.4" r="1.5"/><circle cx="72.9" cy="170.2" r="1.5"/><circle cx="72.8" cy="160.7" r="1.5"/><circle cx="70.9" cy="155.8" r="1.5"/><circle cx="76.3" cy="158.9" r="1.5"/><circle cx="75.4" cy="175" r="1.5"/><circle cx="75" cy="161.8" r="1.5"/><circle cx="74.9" cy="148.1" r="1.5"/><circle cx="69.6" cy="170.8" r="1.5"/><circle cx="75.7" cy="140.4" r="1.5"/><circle cx="74.9" cy="151.2" r="1.5"/><circle cx="73.1" cy="137.8" r="1.5"/><circle cx="74.8" cy="167.4" r="1.5"/><circle cx="77.9" cy="140.9" r="1.5"/><circle cx="70.4" cy="163.7" r="1.5"/><circle cx="72.5" cy="169.5" r="1.5"/><circle cx="73.5" cy="147.7" r="1.5"/><circle cx="74" cy="151.8" r="1.5"/><circle cx="70.2" cy="145.2" r="1.5"/><circle cx="73.8" cy="137.8" r="1.5"/><circle cx="74" cy="141.3" r="1.5"/><circle cx="75.8" cy="169.4" r="1.5"/><circle cx="76.9" cy="152.6" r="1.5"/><circle cx="73.8" cy="134.6" r="1.5"/><circle cx="70.7" cy="156.3" r="1.5"/><circle cx="76.2" cy="162.9" r="1.5"/><circle cx="69.8" cy="139.3" r="1.5"/><circle cx="69.1" cy="152.4" r="1.5"/><circle cx="71.3" cy="152.9" r="1.5"/><circle cx="72.8" cy="150" r="1.5"/><circle cx="72.8" cy="155" r="1.5"/><circle cx="71.2" cy="162.5" r="1.5"/><circle cx="70.8" cy="152.8" r="1.5"/><circle cx="73.9" cy="146.8" r="1.5"/><circle cx="72.5" cy="128.7" r="1.5"/><circle cx="70.7" cy="136" r="1.5"/><circle cx="76.7" cy="135.1" r="1.5"/><circle cx="74.9" cy="167.3" r="1.5"/><circle cx="70.8" cy="148.1" r="1.5"/><circle cx="78.2" cy="162.2" r="1.5"/><circle cx="76.8" cy="136.7" r="1.5"/><circle cx="76.8" cy="161.7" r="1.5"/><circle cx="74.1" cy="149.1" r="1.5"/><circle cx="69.8" cy="145.2" r="1.5"/><circle cx="77.1" cy="161.6" r="1.5"/><circle cx="71.3" cy="158.2" r="1.5"/><circle cx="72.8" cy="144.4" r="1.5"/><circle cx="70.4" cy="130.8" r="1.5"/><circle cx="71.4" cy="150.9" r="1.5"/><circle cx="71" cy="155.9" r="1.5"/><circle cx="72.9" cy="137.4" r="1.5"/><circle cx="75" cy="157.8" r="1.5"/><circle cx="77.9" cy="161.4" r="1.5"/><circle cx="77.1" cy="128.8" r="1.5"/><circle cx="77.7" cy="142.8" r="1.5"/><circle cx="76.4" cy="135.9" r="1.5"/><circle cx="74.9" cy="132.6" r="1.5"/><circle cx="68.7" cy="119.8" r="1.5"/><circle cx="75.2" cy="148.9" r="1.5"/><circle cx="71.1" cy="145.5" r="1.5"/><circle cx="70.9" cy="147" r="1.5"/><circle cx="76.4" cy="155.4" r="1.5"/><circle cx="77.6" cy="145.2" r="1.5"/><circle cx="76.5" cy="137.9" r="1.5"/><circle cx="74.7" cy="127.8" r="1.5"/><circle cx="76.4" cy="164.5" r="1.5"/><circle cx="76.5" cy="174.8" r="1.5"/><circle cx="77" cy="144.8" r="1.5"/><circle cx="73.9" cy="132.6" r="1.5"/><circle cx="76" cy="175.7" r="1.5"/><circle cx="74.1" cy="141.3" r="1.5"/><circle cx="71.2" cy="150.5" r="1.5"/><circle cx="73.5" cy="144.2" r="1.5"/><circle cx="72" cy="181.1" r="1.5"/></g><g fill="#ff0000" stroke="#444" stroke-width="0.25"><circle cx="81.3" cy="143.4" r="1.5"/><circle cx="99.1" cy="147.8" r="1.5"/><circle cx="103.4" cy="154.6" r="1.5"/><circle cx="94.8" cy="168.3" r="1.5"/><circle cx="81.9" cy="154.8" r="1.5"/><circle cx="107.3" cy="165.1" r="1.5"/><circle cx="98.3" cy="139.3" r="1.5"/><circle cx="108.7" cy="159" r="1.5"/><circle cx="97.7" cy="157.9" r="1.5"/><circle cx="95.6" cy="166.9" r="1.5"/><circle cx="102.8" cy="167.4" r="1.5"/><circle cx="94.1" cy="134.5" r="1.5"/><circle cx="88.6" cy="137" r="1.5"/><circle cx="90.3" cy="159" r="1.5"/><circle cx="105.3" cy="161.2" r="1.5"/><circle cx="120.5" cy="170.1" r="1.5"/><circle cx="102.2" cy="161.2" r="1.5"/><circle cx="85.7" cy="152.9" r="1.5"/><circle cx="107.2" cy="155.9" r="1.5"/><circle cx="107.5" cy="176.6" r="1.5"/><circle cx="106.1" cy="176.4" r="1.5"/><circle cx="86.5" cy="175.5" r="1.5"/><circle cx="82.8" cy="147.5" r="1.5"/><circle cx="80.6" cy="136.3" r="1.5"/><circle cx="92.5" cy="166.6" r="1.5"/><circle cx="132.8" cy="173.1" r="1.5"/><circle cx="94.9" cy="147.1" r="1.5"/><circle cx="95.4" cy="154.2" r="1.5"/><circle cx="103.8" cy="163.1" r="1.5"/><circle cx="83.4" cy="166.4" r="1.5"/><circle cx="96.2" cy="171.4" r="1.5"/><circle cx="97.8" cy="147.9" r="1.5"/><circle cx="82.8" cy="151.5" r="1.5"/><circle cx="79.8" cy="144.9" r="1.5"/><circle cx="87.5" cy="153.4" r="1.5"/><circle cx="129.9" cy="169.4" r="1.5"/><circle cx="82.2" cy="156.5" r="1.5"/><circle cx="111.3" cy="172.6" r="1.5"/><circle cx="82.1" cy="153.9" r="1.5"/><circle cx="81.4" cy="160.3" r="1.5"/><circle cx="104.4" cy="164.8" r="1.5"/><circle cx="110.7" cy="167.9" r="1.5"/><circle cx="94.7" cy="150.9" r="1.5"/><circle cx="132.4" cy="173.3" r="1.5"/><circle cx="106.9" cy="158.3" r="1.5"/><circle cx="90" cy="146.5" r="1.5"/><circle cx="115.2" cy="170.7" r="1.5"/><circle cx="88.3" cy="175.4" r="1.5"/><circle cx="88.7" cy="167.6" r="1.5"/><circle cx="138.2" cy="168.8" r="1.5"/><circle cx="82.2" cy="159" r="1.5"/><circle cx="125.2" cy="168.7" r="1.5"/><circle cx="114.3" cy="155.1" r="1.5"/><circle cx="86.3" cy="154.4" r="1.5"/><circle cx="96.9" cy="151" r="1.5"/><circle cx="87.2" cy="175.5" r="1.5"/><circle cx="100.6" cy="167.1" r="1.5"/><circle cx="85.8" cy="158.7" r="1.5"/><circle cx="117.4" cy="173.9" r="1.5"/><circle cx="100.3" cy="165.1" r="1.5"/><circle cx="80.9" cy="156.7" r="1.5"/><circle cx="109.4" cy="161" r="1.5"/><circle cx="84.6" cy="162.6" r="1.5"/><circle cx="98.4" cy="146.5" r="1.5"/><circle cx="88.2" cy="141.4" r="1.5"/><circle cx="128.5" cy="165.3" r="1.5"/><circle cx="80.6" cy="154.5" r="1.5"/><circle cx="81.1" cy="142.8" r="1.5"/><circle cx="81.5" cy="163" r="1.5"/><circle cx="93.8" cy="147.9" r="1.5"/><circle cx="103.6" cy="163.8" r="1.5"/><circle cx="93.6" cy="139.5" r="1.5"/><circle cx="80.6" cy="124.3" r="1.5"/><circle cx="91.7" cy="136.6" r="1.5"/><circle cx="80.9" cy="166.2" r="1.5"/><circle cx="118.6" cy="164.6" r="1.5"/><circle cx="84.2" cy="154.1" r="1.5"/><circle cx="89.6" cy="155.5" r="1.5"/><circle cx="90.6" cy="162.2" r="1.5"/><circle cx="83.5" cy="148.8" r="1.5"/><circle cx="84.2" cy="145.5" r="1.5"/><circle cx="79.6" cy="150.7" r="1.5"/><circle cx="96.2" cy="155.2" r="1.5"/><circle cx="109" cy="176.2" r="1.5"/><circle cx="97.9" cy="139" r="1.5"/><circle cx="84.1" cy="134.7" r="1.5"/><circle cx="102.8" cy="153.9" r="1.5"/><circle cx="94.4" cy="161" r="1.5"/><circle cx="91" cy="132.1" r="1.5"/><circle cx="98.7" cy="154.2" r="1.5"/><circle cx="86.4" cy="158.2" r="1.5"/><circle cx="89.1" cy="152" r="1.5"/><circle cx="89.2" cy="144.1" r="1.5"/><circle cx="81.3" cy="162.2" r="1.5"/><circle cx="79.7" cy="117.8" r="1.5"/><circle cx="91.3" cy="132.3" r="1.5"/><circle cx="100.9" cy="160" r="1.5"/><circle cx="95.6" cy="154.9" r="1.5"/><circle cx="84" cy="137.3" r="1.5"/><circle cx="129.2" cy="170.3" r="1.5"/><circle cx="82.3" cy="148.1" r="1.5"/><circle cx="98.9" cy="154.7" r="1.5"/><circle cx="118.3" cy="156.9" r="1.5"/><circle cx="105" cy="142.8" r="1.5"/><circle cx="94.3" cy="149.3" r="1.5"/><circle cx="81.2" cy="165.1" r="1.5"/><circle cx="79.7" cy="130.8" r="1.5"/><circle cx="97.8" cy="159.9" r="1.5"/><circle cx="84.8" cy="145.8" r="1.5"/><circle cx="100.5" cy="166.5" r="1.5"/><circle cx="119.3" cy="167.8" r="1.5"/><circle cx="118.8" cy="167.2" r="1.5"/><circle cx="98.9" cy="164" r="1.5"/><circle cx="101.2" cy="127.2" r="1.5"/><circle cx="86.9" cy="150.4" r="1.5"/><circle cx="82.8" cy="151.9" r="1.5"/><circle cx="82.6" cy="156" r="1.5"/><circle cx="106.4" cy="165.3" r="1.5"/><circle cx="82.8" cy="154" r="1.5"/><circle cx="83.5" cy="157.2" r="1.5"/><circle cx="99.3" cy="150.2" r="1.5"/><circle cx="84" cy="144.6" r="1.5"/><circle cx="104.2" cy="149.3" r="1.5"/><circle cx="94.9" cy="137.4" r="1.5"/><circle cx="100.8" cy="139.6" r="1.5"/><circle cx="91.2" cy="164.4" r="1.5"/><circle cx="91" cy="133.5" r="1.5"/><circle cx="100.3" cy="162.7" r="1.5"/><circle cx="94.9" cy="168.3" r="1.5"/><circle cx="81.7" cy="140.9" r="1.5"/><circle cx="99.5" cy="138.1" r="1.5"/><circle cx="130.5" cy="156.3" r="1.5"/><circle cx="109.5" cy="151.7" r="1.5"/><circle cx="80.5" cy="169.9" r="1.5"/><circle cx="88.4" cy="157.7" r="1.5"/><circle cx="87.8" cy="139.3" r="1.5"/><circle cx="95.5" cy="160.7" r="1.5"/><circle cx="110.9" cy="157.8" r="1.5"/><circle cx="105.9" cy="172.3" r="1.5"/><circle cx="97.3" cy="159.7" r="1.5"/><circle cx="84.3" cy="146.5" r="1.5"/><circle cx="94.2" cy="149.8" r="1.5"/><circle cx="87.5" cy="178.5" r="1.5"/><circle cx="107.3" cy="169.8" r="1.5"/><circle cx="111.2" cy="166.4" r="1.5"/><circle cx="102.4" cy="174.6" r="1.5"/><circle cx="97.4" cy="158.4" r="1.5"/><circle cx="100" cy="150.9" r="1.5"/><circle cx="91.8" cy="155.5" r="1.5"/><circle cx="98.7" cy="143.1" r="1.5"/><circle cx="81.6" cy="157" r="1.5"/><circle cx="93.3" cy="155.6" r="1.5"/><circle cx="86.9" cy="155.3" r="1.5"/><circle cx="91.1" cy="163.8" r="1.5"/><circle cx="114.1" cy="157" r="1.5"/><circle cx="100.3" cy="160.9" r="1.5"/><circle cx="97.8" cy="166.3" r="1.5"/><circle cx="83.6" cy="131.7" r="1.5"/><circle cx="105.2" cy="161.4" r="1.5"/><circle cx="94.7" cy="145.7" r="1.5"/><circle cx="92.9" cy="169.7" r="1.5"/><circle cx="96.8" cy="162" r="1.5"/><circle cx="102.9" cy="148.8" r="1.5"/><circle cx="90.5" cy="147.4" r="1.5"/><circle cx="96.1" cy="170.6" r="1.5"/><circle cx="89.8" cy="170.9" r="1.5"/><circle cx="82.3" cy="160.7" r="1.5"/><circle cx="90.6" cy="139.2" r="1.5"/><circle cx="86.2" cy="152.9" r="1.5"/><circle cx="81" cy="153.4" r="1.5"/><circle cx="99.1" cy="157.2" r="1.5"/><circle cx="100.3" cy="175.7" r="1.5"/><circle cx="93.4" cy="167.2" r="1.5"/><circle cx="100.8" cy="166.9" r="1.5"/><circle cx="92.7" cy="172.5" r="1.5"/><circle cx="98.4" cy="165.6" r="1.5"/><circle cx="108.6" cy="172" r="1.5"/><circle cx="90.3" cy="143" r="1.5"/><circle cx="83.1" cy="162" r="1.5"/><circle cx="94.9" cy="161.7" r="1.5"/><circle cx="99.5" cy="144.9" r="1.5"/><circle cx="85.5" cy="163.7" r="1.5"/><circle cx="80.8" cy="159.6" r="1.5"/><circle cx="89.8" cy="172.2" r="1.5"/><circle cx="85.9" cy="164.2" r="1.5"/><circle cx="102.7" cy="170.5" r="1.5"/><circle cx="94.4" cy="170.3" r="1.5"/><circle cx="84.6" cy="149.3" r="1.5"/><circle cx="85.1" cy="150.4" r="1.5"/><circle cx="79.6" cy="160.9" r="1.5"/><circle cx="91.8" cy="138.5" r="1.5"/><circle cx="88.4" cy="141.5" r="1.5"/><circle cx="91.6" cy="166.2" r="1.5"/><circle cx="93.2" cy="144.2" r="1.5"/><circle cx="108.2" cy="173.9" r="1.5"/><circle cx="80.8" cy="145.6" r="1.5"/><circle cx="89.8" cy="164.7" r="1.5"/><circle cx="93.4" cy="155.4" r="1.5"/><circle cx="85.2" cy="143.3" r="1.5"/><circle cx="85.6" cy="158.4" r="1.5"/><circle cx="83.2" cy="137.5" r="1.5"/><circle cx="93.2" cy="151.2" r="1.5"/><circle cx="87.6" cy="152.4" r="1.5"/><circle cx="89" cy="137.2" r="1.5"/><circle cx="91.3" cy="152.4" r="1.5"/><circle cx="88.5" cy="145.8" r="1.5"/><circle cx="84.7" cy="143.9" r="1.5"/><circle cx="120.5" cy="162.9" r="1.5"/><circle cx="87" cy="157.1" r="1.5"/><circle cx="83.8" cy="155.4" r="1.5"/><circle cx="105.4" cy="134.7" r="1.5"/><circle cx="87.6" cy="149" r="1.5"/><circle cx="83.5" cy="128.2" r="1.5"/><circle cx="102" cy="159" r="1.5"/><circle cx="112" cy="172.1" r="1.5"/><circle cx="90.1" cy="149.2" r="1.5"/><circle cx="112.6" cy="162.4" r="1.5"/><circle cx="103.4" cy="172" r="1.5"/><circle cx="81.6" cy="152.7" r="1.5"/><circle cx="86.9" cy="157" r="1.5"/><circle cx="94" cy="167.8" r="1.5"/><circle cx="130.2" cy="169.1" r="1.5"/><circle cx="114.6" cy="168.7" r="1.5"/><circle cx="91.7" cy="167.4" r="1.5"/><circle cx="87.7" cy="171.8" r="1.5"/><circle cx="91.7" cy="154" r="1.5"/><circle cx="80.7" cy="146.6" r="1.5"/><circle cx="86" cy="157.1" r="1.5"/><circle cx="90.1" cy="153.5" r="1.5"/><circle cx="85.4" cy="172.5" r="1.5"/><circle cx="88" cy="163.9" r="1.5"/><circle cx="115.2" cy="151.3" r="1.5"/><circle cx="80.8" cy="152.2" r="1.5"/><circle cx="107.1" cy="162.5" r="1.5"/><circle cx="82.3" cy="146.8" r="1.5"/><circle cx="93.6" cy="152.5" r="1.5"/><circle cx="82.4" cy="162.2" r="1.5"/><circle cx="95" cy="165.5" r="1.5"/><circle cx="96.5" cy="178.1" r="1.5"/><circle cx="117" cy="167.9" r="1.5"/><circle cx="83.6" cy="134.3" r="1.5"/><circle cx="102.3" cy="155.4" r="1.5"/><circle cx="109.9" cy="163.8" r="1.5"/><circle cx="92" cy="152.3" r="1.5"/><circle cx="86.1" cy="141.4" r="1.5"/><circle cx="113.5" cy="156.1" r="1.5"/><circle cx="87.5" cy="144.9" r="1.5"/><circle cx="91.7" cy="151.4" r="1.5"/><circle cx="103.5" cy="166" r="1.5"/><circle cx="113" cy="177.7" r="1.5"/><circle cx="89.2" cy="150.4" r="1.5"/><circle cx="88.9" cy="159.7" r="1.5"/><circle cx="174.9" cy="163.1" r="1.5"/></g></g><line x1="53" y1="138.4" x2="174.9" y2="197.9" stroke="#000" stroke-width="0.8"/><rect x="119" y="100.8" width="34" height="14.6" rx="1.5" fill="#fff" stroke="#444" stroke-width="0.5"/><text x="120.90" y="106.60" font-size="5.30" textLength="23.78" lengthAdjust="spacingAndGlyphs" fill="#111" stroke="#111" stroke-width="0.16">R = -0.52</text><text x="120.90" y="112.90" font-size="5.30" textLength="29.74" lengthAdjust="spacingAndGlyphs" fill="#111" stroke="#111" stroke-width="0.16">p = 4.2e-53</text><text x="49.95" y="209.90" font-size="5.51" textLength="3.31" lengthAdjust="spacingAndGlyphs" fill="#111" stroke="#111" stroke-width="0.16">0</text><text x="66.93" y="209.90" font-size="5.51" textLength="3.31" lengthAdjust="spacingAndGlyphs" fill="#111" stroke="#111" stroke-width="0.16">5</text><text x="82.25" y="209.90" font-size="5.51" textLength="6.62" lengthAdjust="spacingAndGlyphs" fill="#111" stroke="#111" stroke-width="0.16">10</text><text x="99.23" y="209.90" font-size="5.51" textLength="6.62" lengthAdjust="spacingAndGlyphs" fill="#111" stroke="#111" stroke-width="0.16">15</text><text x="116.21" y="209.90" font-size="5.51" textLength="6.62" lengthAdjust="spacingAndGlyphs" fill="#111" stroke="#111" stroke-width="0.16">20</text><text x="133.19" y="209.90" font-size="5.51" textLength="6.62" lengthAdjust="spacingAndGlyphs" fill="#111" stroke="#111" stroke-width="0.16">25</text><text x="150.17" y="209.90" font-size="5.51" textLength="6.62" lengthAdjust="spacingAndGlyphs" fill="#111" stroke="#111" stroke-width="0.16">30</text><text x="167.15" y="209.90" font-size="5.51" textLength="6.62" lengthAdjust="spacingAndGlyphs" fill="#111" stroke="#111" stroke-width="0.16">35</text><text x="31.37" y="199.15" font-size="5.51" textLength="12.63" lengthAdjust="spacingAndGlyphs" fill="#111" stroke="#111" stroke-width="0.16">−0.1</text><text x="35.73" y="182.10" font-size="5.51" textLength="8.27" lengthAdjust="spacingAndGlyphs" fill="#111" stroke="#111" stroke-width="0.16">0.0</text><text x="35.73" y="165.05" font-size="5.51" textLength="8.27" lengthAdjust="spacingAndGlyphs" fill="#111" stroke="#111" stroke-width="0.16">0.1</text><text x="35.73" y="148.00" font-size="5.51" textLength="8.27" lengthAdjust="spacingAndGlyphs" fill="#111" stroke="#111" stroke-width="0.16">0.2</text><text x="35.73" y="130.95" font-size="5.51" textLength="8.27" lengthAdjust="spacingAndGlyphs" fill="#111" stroke="#111" stroke-width="0.16">0.3</text><text x="35.73" y="113.90" font-size="5.51" textLength="8.27" lengthAdjust="spacingAndGlyphs" fill="#111" stroke="#111" stroke-width="0.16">0.4</text><path d="M51.6 202.7v2M68.6 202.7v2M85.6 202.7v2M102.5 202.7v2M119.5 202.7v2M136.5 202.7v2M153.5 202.7v2M170.5 202.7v2M47.1 197.2h-2M47.1 180.2h-2M47.1 163.1h-2M47.1 146.1h-2M47.1 129h-2M47.1 112h-2" stroke="#333" stroke-width="0.5"/><text x="98.72" y="217.80" font-size="7.00" textLength="4.03" lengthAdjust="spacingAndGlyphs" fill="#111" stroke="#111" stroke-width="0.16">T</text><text x="102.75" y="219.40" font-size="4.88" textLength="13.38" lengthAdjust="spacingAndGlyphs" fill="#111" stroke="#111" stroke-width="0.16">range</text><text x="118.22" y="217.80" font-size="7.00" textLength="13.06" lengthAdjust="spacingAndGlyphs" fill="#111" stroke="#111" stroke-width="0.16">[°C]</text><g transform="translate(28.60 150.50) rotate(-90)"><text x="-35.35" y="0.00" font-size="7.00" textLength="53.63" lengthAdjust="spacingAndGlyphs" fill="#111" stroke="#111" stroke-width="0.16">soil moisture [m</text><text x="18.27" y="-2.60" font-size="4.88" textLength="2.93" lengthAdjust="spacingAndGlyphs" fill="#111" stroke="#111" stroke-width="0.16">3</text><text x="21.20" y="0.00" font-size="7.00" textLength="8.65" lengthAdjust="spacingAndGlyphs" fill="#111" stroke="#111" stroke-width="0.16">/m</text><text x="29.85" y="-2.60" font-size="4.88" textLength="2.93" lengthAdjust="spacingAndGlyphs" fill="#111" stroke="#111" stroke-width="0.16">3</text><text x="32.78" y="0.00" font-size="7.00" textLength="2.57" lengthAdjust="spacingAndGlyphs" fill="#111" stroke="#111" stroke-width="0.16">]</text></g><rect x="323" y="177.3" width="101.9" height="39.5" rx="1.5" fill="#fff" fill-opacity="0.8" stroke="#ccc" stroke-width="0.5"/><circle cx="333.4" cy="183.5" r="2.6" fill="#0000ff" stroke="#555" stroke-width="0.3"/><text x="348.10" y="186.50" font-size="7.90" textLength="4.55" lengthAdjust="spacingAndGlyphs" fill="#111" stroke="#111" stroke-width="0.16">T</text><text x="352.65" y="188.40" font-size="5.94" textLength="16.28" lengthAdjust="spacingAndGlyphs" fill="#111" stroke="#111" stroke-width="0.16">range</text><text x="371.30" y="186.50" font-size="7.90" textLength="35.75" lengthAdjust="spacingAndGlyphs" fill="#111" stroke="#111" stroke-width="0.16">&lt; 5 (262)</text><circle cx="333.4" cy="196.2" r="2.6" fill="#ffd700" stroke="#555" stroke-width="0.3"/><text x="348.10" y="199.25" font-size="7.90" textLength="20.27" lengthAdjust="spacingAndGlyphs" fill="#111" stroke="#111" stroke-width="0.16">5 ≤ T</text><text x="368.37" y="201.15" font-size="5.94" textLength="16.28" lengthAdjust="spacingAndGlyphs" fill="#111" stroke="#111" stroke-width="0.16">range</text><text x="387.02" y="199.25" font-size="7.90" textLength="35.75" lengthAdjust="spacingAndGlyphs" fill="#111" stroke="#111" stroke-width="0.16">&lt; 8 (223)</text><circle cx="333.4" cy="209" r="2.6" fill="#ff0000" stroke="#555" stroke-width="0.3"/><text x="348.10" y="212.00" font-size="7.90" textLength="20.27" lengthAdjust="spacingAndGlyphs" fill="#111" stroke="#111" stroke-width="0.16">8 ≤ T</text><text x="368.37" y="213.90" font-size="5.94" textLength="16.28" lengthAdjust="spacingAndGlyphs" fill="#111" stroke="#111" stroke-width="0.16">range</text><text x="387.02" y="212.00" font-size="7.90" textLength="20.03" lengthAdjust="spacingAndGlyphs" fill="#111" stroke="#111" stroke-width="0.16">(253)</text><text x="4.37" y="37.50" font-size="6.57" textLength="15.63" lengthAdjust="spacingAndGlyphs" fill="#1a1a1a" stroke="#1a1a1a" stroke-width="0.16">60°N</text><text x="4.37" y="68.50" font-size="6.57" textLength="15.63" lengthAdjust="spacingAndGlyphs" fill="#1a1a1a" stroke="#1a1a1a" stroke-width="0.16">40°N</text><text x="4.37" y="99.50" font-size="6.57" textLength="15.63" lengthAdjust="spacingAndGlyphs" fill="#1a1a1a" stroke="#1a1a1a" stroke-width="0.16">20°N</text><text x="12.96" y="130.50" font-size="6.57" textLength="7.04" lengthAdjust="spacingAndGlyphs" fill="#1a1a1a" stroke="#1a1a1a" stroke-width="0.16">0°</text><text x="5.08" y="161.50" font-size="6.57" textLength="14.92" lengthAdjust="spacingAndGlyphs" fill="#1a1a1a" stroke="#1a1a1a" stroke-width="0.16">20°S</text><text x="5.08" y="192.50" font-size="6.57" textLength="14.92" lengthAdjust="spacingAndGlyphs" fill="#1a1a1a" stroke="#1a1a1a" stroke-width="0.16">40°S</text><text x="58.95" y="228.60" font-size="6.52" textLength="20.89" lengthAdjust="spacingAndGlyphs" fill="#1a1a1a" stroke="#1a1a1a" stroke-width="0.16">120°W</text><text x="153.91" y="228.60" font-size="6.52" textLength="16.98" lengthAdjust="spacingAndGlyphs" fill="#1a1a1a" stroke="#1a1a1a" stroke-width="0.16">60°W</text><text x="251.91" y="228.60" font-size="6.52" textLength="6.99" lengthAdjust="spacingAndGlyphs" fill="#1a1a1a" stroke="#1a1a1a" stroke-width="0.16">0°</text><text x="341.01" y="228.60" font-size="6.52" textLength="14.79" lengthAdjust="spacingAndGlyphs" fill="#1a1a1a" stroke="#1a1a1a" stroke-width="0.16">60°E</text><text x="432.05" y="228.60" font-size="6.52" textLength="18.70" lengthAdjust="spacingAndGlyphs" fill="#1a1a1a" stroke="#1a1a1a" stroke-width="0.16">120°E</text><text x="24.60" y="16.90" font-size="13.11" textLength="16.16" lengthAdjust="spacingAndGlyphs" fill="#111" stroke="#111" stroke-width="0.1">(a)</text><path d="M38.5 333.2H495.7" stroke="#a8a8a8" stroke-width="0.65" stroke-dasharray="1.1 0.9"/><path d="M190.9 244.2V422.3M343.3 244.2V422.3" stroke="#888" stroke-width="1.4"/><g clip-path="url(#cv)"><path d="M114.9 244.2L106.4 244.2C106.5 246.1 106.5 251.3 106.8 255.4C107.1 259.5 107.6 264.3 108 268.8C108.4 273.3 108.9 277.8 109.1 282.3C109.3 286.8 109.3 288.3 109.4 295.7C109.5 303.1 109.6 319.4 109.5 326.8C109.4 334.2 109.2 335.8 109 340.3C108.8 344.8 108.3 349.9 108 353.7C107.7 357.4 107.6 359.7 107.3 362.8C107 365.9 106.6 369.1 106 372.2C105.4 375.3 104.4 378.5 103.7 381.6C103 384.7 102.3 387.8 101.7 390.9C101.1 394 100.5 397.2 100.2 400.3C99.9 403.4 100 406.8 100.1 409.7C100.2 412.6 100.4 415.4 100.7 417.5C101 419.6 101.5 421.5 101.7 422.3L114.9 422.3Z" fill="#3274a1" stroke="#3f3f3f" stroke-width="0.75" stroke-linejoin="round"/><path d="M114.9 244.2L116.5 244.2C116.4 248.5 116.2 261.5 116.1 270C116 278.5 115.8 286.7 115.9 295C116 303.3 116.3 312.5 116.5 320C116.7 327.5 116.9 333.3 117.1 340C117.3 346.7 117.2 354.7 117.5 360C117.8 365.3 118.3 368.9 118.9 371.6C119.5 374.3 119.9 374.5 121.1 376C122.3 377.5 124 378.9 126.2 380.4C128.4 381.8 131.3 383.2 134.2 384.7C137.1 386.1 140.4 387.6 143.7 389.1C147 390.6 150.5 392.1 153.9 393.5C157.3 394.9 161.1 396.4 164.1 397.8C167.1 399.2 170.2 400.9 172.1 402.2C174 403.5 175.8 404.2 175.7 405.4C175.6 406.6 174 408.1 171.3 409.5C168.6 410.9 163.6 412.4 159.7 413.9C155.8 415.3 151.5 416.8 148 418.2C144.5 419.6 140.2 421.6 138.6 422.3L114.9 422.3Z" fill="#e1812c" stroke="#3f3f3f" stroke-width="0.75" stroke-linejoin="round"/><path d="M114.9 286H109.5" stroke="#3f3f3f" stroke-width="0.6" stroke-dasharray="2.2 0.6"/><path d="M114.9 372.2H106.3" stroke="#3f3f3f" stroke-width="0.6" stroke-dasharray="1.2 0.9"/><path d="M114.9 410H100.4" stroke="#3f3f3f" stroke-width="0.6" stroke-dasharray="2.2 0.6"/><path d="M114.9 399.6H167.1" stroke="#3f3f3f" stroke-width="0.6" stroke-dasharray="2.2 0.6"/><path d="M114.9 405.4H175.4" stroke="#3f3f3f" stroke-width="0.6" stroke-dasharray="1.2 0.9"/><path d="M114.9 408H172.6" stroke="#3f3f3f" stroke-width="0.6" stroke-dasharray="2.2 0.6"/><path d="M267.2 244.2L244 244.2C243.9 244.9 243.5 247.2 243.5 248.7C243.5 250.2 243.6 251.7 244 253.2C244.4 254.7 244.8 255.8 245.7 257.6C246.5 259.5 248 262.1 249.1 264.3C250.2 266.5 251.4 268.8 252.4 271C253.4 273.2 254.3 275.6 255.2 277.8C256.1 280.1 256.9 282.3 257.5 284.5C258.1 286.7 258.5 288.6 259.1 291.2C259.7 293.8 260.7 297.5 261.2 300.1C261.7 302.7 261.8 303.4 262.1 306.8C262.4 310.2 262.8 315.8 263 320.3C263.2 324.8 263.5 330.4 263.5 333.7C263.5 337 263.3 335.8 263 340C262.7 344.2 262 352.7 261.7 359C261.4 365.3 261 371.7 261.1 378C261.2 384.3 261.7 391.3 262.2 397C262.7 402.7 263.5 408.1 264.1 412.3C264.6 416.5 265.3 420.6 265.5 422.3L267.2 422.3Z" fill="#3274a1" stroke="#3f3f3f" stroke-width="0.75" stroke-linejoin="round"/><path d="M267.2 244.2L271.1 244.2C271.1 245.7 271.1 249.7 270.9 253C270.7 256.3 270.1 260 269.7 264C269.3 268 268.9 272.7 268.6 277C268.3 281.3 267.9 284.5 267.7 290C267.5 295.5 267.5 301.7 267.6 310C267.6 318.3 267.9 333.1 268 340C268.1 346.9 267.9 348.2 268.3 351.4C268.7 354.6 268.9 356.1 270.2 359C271.5 361.9 273 365.3 275.9 368.5C278.8 371.7 283.2 374.8 287.3 378C291.4 381.2 296.7 384.4 300.7 387.6C304.7 390.8 308.7 394.6 311.1 397.1C313.5 399.6 314.7 400.9 314.9 402.8C315.1 404.7 314.5 406.3 312.1 408.5C309.7 410.7 304.2 413.8 300.7 416.1C297.2 418.4 292.7 421.3 291.1 422.3L267.2 422.3Z" fill="#e1812c" stroke="#3f3f3f" stroke-width="0.75" stroke-linejoin="round"/><path d="M267.2 257.4H245.9" stroke="#3f3f3f" stroke-width="0.6" stroke-dasharray="2.2 0.6"/><path d="M267.2 331.7H263.7" stroke="#3f3f3f" stroke-width="0.6" stroke-dasharray="2.2 0.6"/><path d="M267.2 397.4H311" stroke="#3f3f3f" stroke-width="0.6" stroke-dasharray="2.2 0.6"/><path d="M267.2 402.4H314.3" stroke="#3f3f3f" stroke-width="0.6" stroke-dasharray="1.2 0.9"/><path d="M267.2 406.6H312.7" stroke="#3f3f3f" stroke-width="0.6" stroke-dasharray="2.2 0.6"/><path d="M419.2 244.2L358.7 244.2C358.6 244.6 357.9 245.8 358.4 246.8C358.9 247.8 359.7 248.9 361.6 250C363.5 251.1 366.7 252.1 369.6 253.2C372.5 254.3 376 255.3 379.2 256.4C382.4 257.5 385.9 258.5 388.8 259.6C391.7 260.7 394.4 261.7 396.8 262.8C399.2 263.9 401.3 264.9 403.2 266C405.1 267.1 406.5 267.9 408 269.2C409.5 270.5 410.8 272.1 412 274C413.2 275.9 414.4 278 415.2 280.4C416 282.8 416.5 285.1 416.8 288.4C417.1 291.7 417.1 295.8 417 300C416.9 304.2 416.4 308.3 416.5 313.8C416.6 319.3 417.1 325.3 417.3 333C417.6 340.7 417.9 348.8 418 360C418.1 371.2 418.1 389.6 418.2 400C418.3 410.4 418.4 418.6 418.4 422.3L419.2 422.3Z" fill="#3274a1" stroke="#3f3f3f" stroke-width="0.75" stroke-linejoin="round"/><path d="M419.2 244.2L424.3 244.2C424.4 245.2 425.1 246.9 424.8 250C424.5 253.1 423.1 258.8 422.4 262.8C421.7 266.8 421.2 270.3 420.8 274C420.4 277.7 420 280.7 419.8 285C419.6 289.3 419.6 294.2 419.6 300C419.6 305.8 419.6 314.3 419.7 320C419.8 325.7 419.5 330.5 419.9 334.3C420.3 338.1 420.9 340 422 342.8C423.1 345.6 424.4 348.5 426.3 351.3C428.2 354.1 431.1 357 433.7 359.8C436.3 362.6 439.4 365.5 442.2 368.3C445 371.1 448.4 374.3 450.7 376.8C453 379.3 454.6 380.9 456 383.2C457.4 385.5 458.8 388.1 458.8 390.6C458.8 393.1 457.7 395.4 456 398.1C454.3 400.8 451.8 403.8 448.6 406.6C445.4 409.4 439.9 412.5 436.9 415.1C433.9 417.7 431.6 421.1 430.5 422.3L419.2 422.3Z" fill="#e1812c" stroke="#3f3f3f" stroke-width="0.75" stroke-linejoin="round"/><path d="M419.2 245.5H358.8" stroke="#3f3f3f" stroke-width="0.6" stroke-dasharray="2.2 0.6"/><path d="M419.2 253.5H370.8" stroke="#3f3f3f" stroke-width="0.6" stroke-dasharray="2.2 0.6"/><path d="M419.2 377.2H450.7" stroke="#3f3f3f" stroke-width="0.6" stroke-dasharray="2.2 0.6"/><path d="M419.2 390.6H458.5" stroke="#3f3f3f" stroke-width="0.6" stroke-dasharray="1.2 0.9"/><path d="M419.2 399.1H454.8" stroke="#3f3f3f" stroke-width="0.6" stroke-dasharray="2.2 0.6"/></g><rect x="38.5" y="244.2" width="457.2" height="178.1" fill="none" stroke="#333" stroke-width="0.8"/><path d="M38.5 244.2h-3" stroke="#333" stroke-width="0.8"/><text x="22.97" y="247.10" font-size="8.21" textLength="12.33" lengthAdjust="spacingAndGlyphs" fill="#222" stroke="#222" stroke-width="0.16">1.0</text><path d="M38.5 288.7h-3" stroke="#333" stroke-width="0.8"/><text x="22.97" y="291.62" font-size="8.21" textLength="12.33" lengthAdjust="spacingAndGlyphs" fill="#222" stroke="#222" stroke-width="0.16">0.5</text><path d="M38.5 333.2h-3" stroke="#333" stroke-width="0.8"/><text x="22.97" y="336.15" font-size="8.21" textLength="12.33" lengthAdjust="spacingAndGlyphs" fill="#222" stroke="#222" stroke-width="0.16">0.0</text><path d="M38.5 377.8h-3" stroke="#333" stroke-width="0.8"/><text x="16.48" y="380.67" font-size="8.21" textLength="18.82" lengthAdjust="spacingAndGlyphs" fill="#222" stroke="#222" stroke-width="0.16">−0.5</text><path d="M38.5 422.3h-3" stroke="#333" stroke-width="0.8"/><text x="16.48" y="425.20" font-size="8.21" textLength="18.82" lengthAdjust="spacingAndGlyphs" fill="#222" stroke="#222" stroke-width="0.16">−1.0</text><g transform="translate(13.00 334.20) rotate(-90)"><text x="-23.13" y="0.00" font-size="10.81" textLength="46.27" lengthAdjust="spacingAndGlyphs" fill="#111" stroke="#111" stroke-width="0.05">R(SM,TS)</text></g><text x="39.30" y="239.70" font-size="12.65" textLength="15.71" lengthAdjust="spacingAndGlyphs" fill="#111" stroke="#111" stroke-width="0.1">(b)</text><path d="M114.9 422.3v3" stroke="#333" stroke-width="0.8"/><path d="M267.2 422.3v3" stroke="#333" stroke-width="0.8"/><path d="M419.2 422.3v3" stroke="#333" stroke-width="0.8"/><text x="95.78" y="431.20" font-size="8.21" textLength="4.73" lengthAdjust="spacingAndGlyphs" fill="#222" stroke="#222" stroke-width="0.16">T</text><text x="100.51" y="432.70" font-size="6.25" textLength="17.16" lengthAdjust="spacingAndGlyphs" fill="#222" stroke="#222" stroke-width="0.16">range</text><text x="120.13" y="431.20" font-size="8.21" textLength="13.89" lengthAdjust="spacingAndGlyphs" fill="#222" stroke="#222" stroke-width="0.16">&lt; 5</text><text x="104.35" y="441.00" font-size="8.32" textLength="21.11" lengthAdjust="spacingAndGlyphs" fill="#222" stroke="#222" stroke-width="0.16">(262)</text><text x="239.90" y="431.20" font-size="8.21" textLength="21.09" lengthAdjust="spacingAndGlyphs" fill="#222" stroke="#222" stroke-width="0.16">5 ≤ T</text><text x="260.99" y="432.70" font-size="6.25" textLength="17.16" lengthAdjust="spacingAndGlyphs" fill="#222" stroke="#222" stroke-width="0.16">range</text><text x="280.61" y="431.20" font-size="8.21" textLength="13.89" lengthAdjust="spacingAndGlyphs" fill="#222" stroke="#222" stroke-width="0.16">&lt; 8</text><text x="256.65" y="441.00" font-size="8.32" textLength="21.11" lengthAdjust="spacingAndGlyphs" fill="#222" stroke="#222" stroke-width="0.16">(223)</text><text x="400.08" y="431.20" font-size="8.21" textLength="21.09" lengthAdjust="spacingAndGlyphs" fill="#222" stroke="#222" stroke-width="0.16">8 ≤ T</text><text x="421.16" y="432.70" font-size="6.25" textLength="17.16" lengthAdjust="spacingAndGlyphs" fill="#222" stroke="#222" stroke-width="0.16">range</text><text x="408.65" y="441.00" font-size="8.32" textLength="21.11" lengthAdjust="spacingAndGlyphs" fill="#222" stroke="#222" stroke-width="0.16">(253)</text><rect x="433" y="248.4" width="60.6" height="26.6" rx="1.5" fill="#fff" fill-opacity="0.8" stroke="#ddd" stroke-width="0.6"/><rect x="436" y="252.4" width="17" height="6.2" fill="#3274a1" stroke="#3f3f3f" stroke-width="0.5"/><rect x="436" y="264.4" width="17" height="6.2" fill="#e1812c" stroke="#3f3f3f" stroke-width="0.5"/><text x="459.60" y="258.40" font-size="8.32" textLength="19.94" lengthAdjust="spacingAndGlyphs" fill="#111" stroke="#111" stroke-width="0.16">ISMN</text><text x="459.60" y="270.40" font-size="8.32" textLength="19.94" lengthAdjust="spacingAndGlyphs" fill="#111" stroke="#111" stroke-width="0.16">ISMN</text><text x="479.54" y="272.00" font-size="6.15" textLength="10.22" lengthAdjust="spacingAndGlyphs" fill="#111" stroke="#111" stroke-width="0.16">FFT</text></svg>
</body></html>
